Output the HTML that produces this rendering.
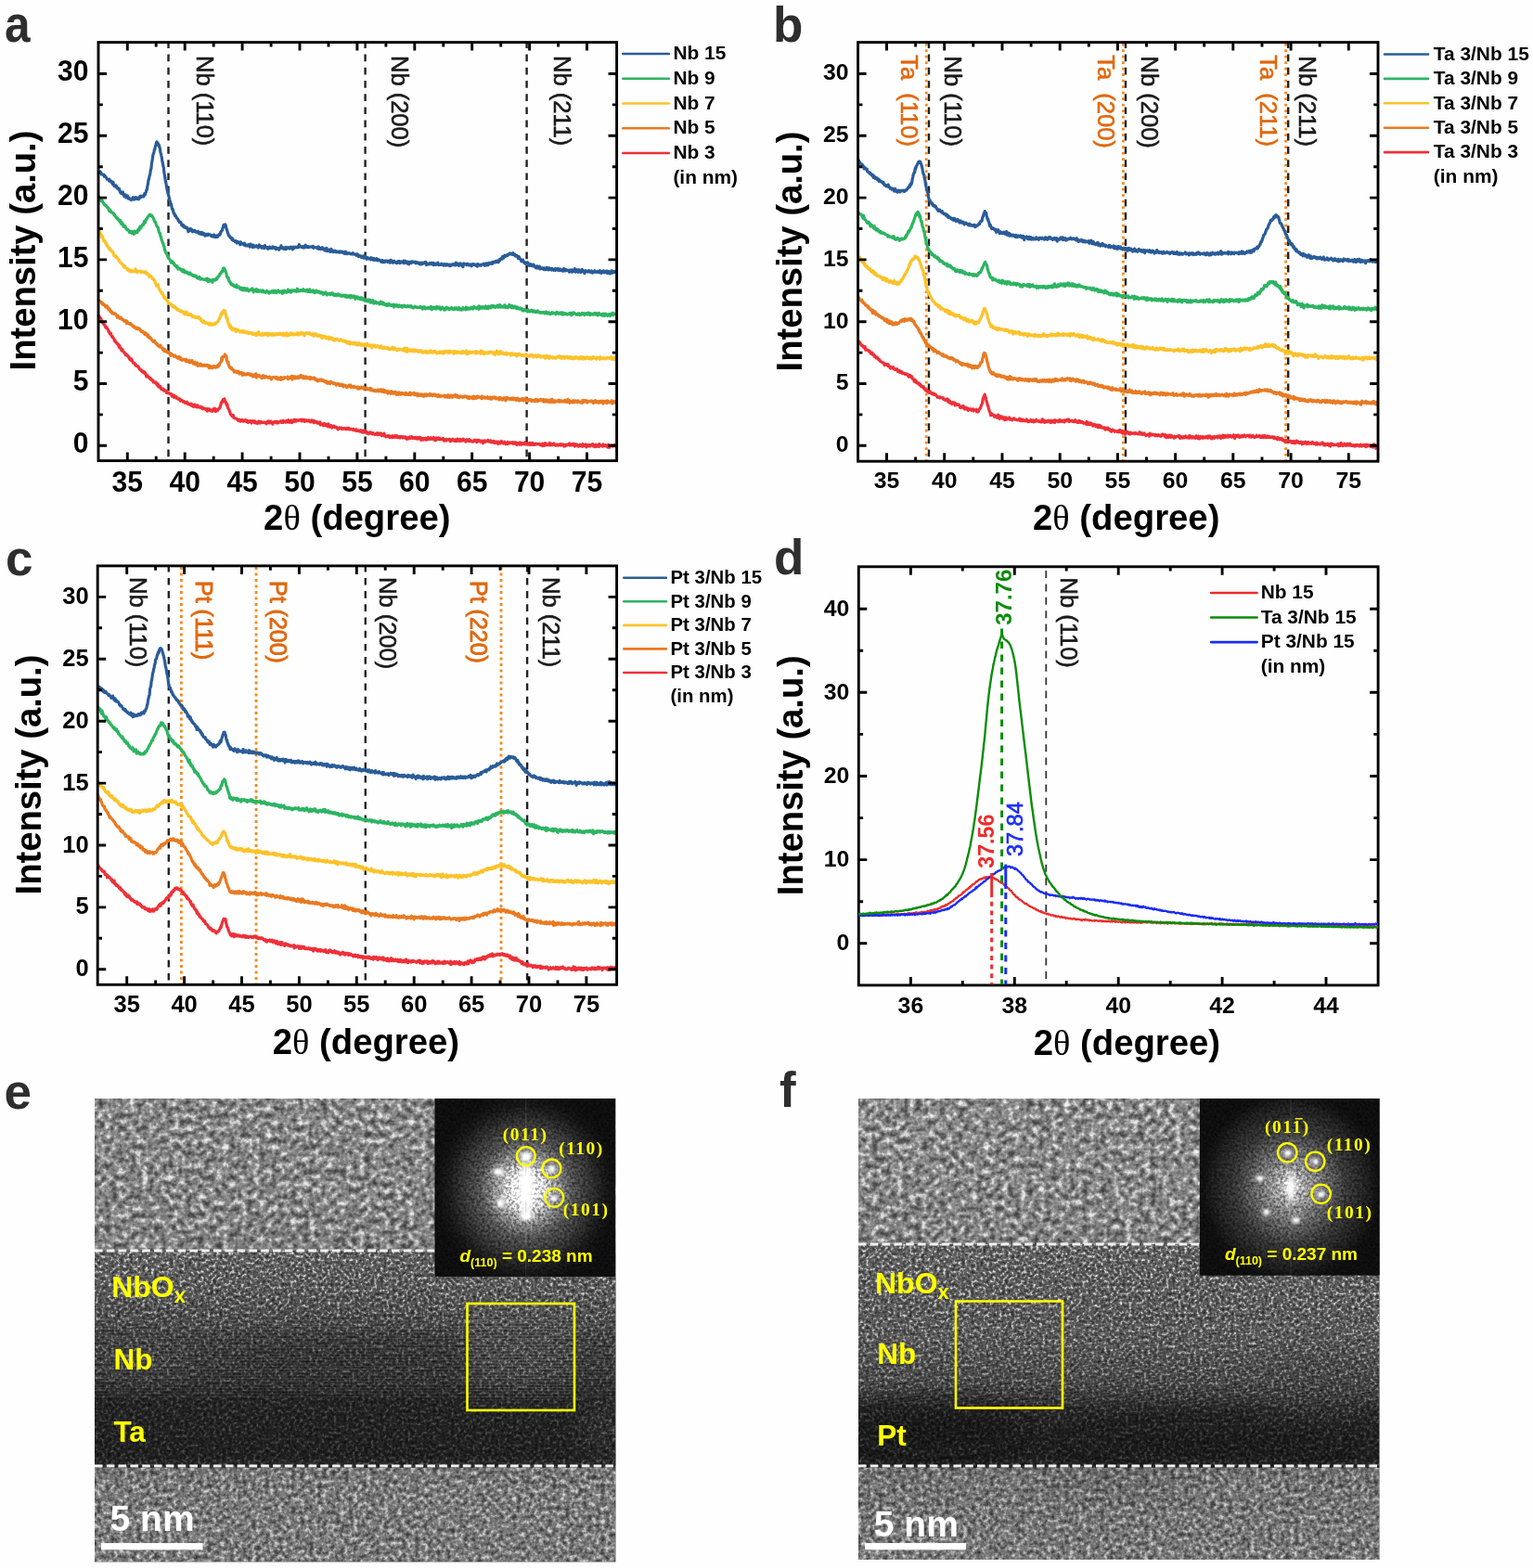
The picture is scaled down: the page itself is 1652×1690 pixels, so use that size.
<!DOCTYPE html><html><head><meta charset="utf-8"><style>html,body{margin:0;padding:0;background:#fefefe;}svg{display:block}</style></head><body><svg width="1652" height="1690" viewBox="0 0 1652 1690">
<rect width="1652" height="1690" fill="#fefefe"/>
<text x="0.0" y="0.0" font-size="55.0" font-weight="bold" text-anchor="start" fill="#2e2e2e" font-family="'Liberation Sans', Arial, sans-serif" transform="translate(5.0 44.8) scale(0.900 1)">a</text>
<text x="833.0" y="44.5" font-size="53.0" font-weight="bold" text-anchor="start" fill="#2e2e2e" font-family="'Liberation Sans', Arial, sans-serif">b</text>
<text x="6.0" y="619.5" font-size="53.0" font-weight="bold" text-anchor="start" fill="#2e2e2e" font-family="'Liberation Sans', Arial, sans-serif">c</text>
<text x="834.0" y="618.5" font-size="53.0" font-weight="bold" text-anchor="start" fill="#2e2e2e" font-family="'Liberation Sans', Arial, sans-serif">d</text>
<text x="4.5" y="1194.5" font-size="53.0" font-weight="bold" text-anchor="start" fill="#2e2e2e" font-family="'Liberation Sans', Arial, sans-serif">e</text>
<text x="840.0" y="1192.5" font-size="53.0" font-weight="bold" text-anchor="start" fill="#2e2e2e" font-family="'Liberation Sans', Arial, sans-serif">f</text>
<line x1="181.5" y1="46.8" x2="181.5" y2="495.4" stroke="#222" stroke-width="2.4" stroke-dasharray="7.7 6.5" stroke-dashoffset="2.4"/>
<line x1="393.6" y1="46.8" x2="393.6" y2="495.4" stroke="#222" stroke-width="2.4" stroke-dasharray="7.7 6.5" stroke-dashoffset="2.4"/>
<line x1="567.6" y1="46.8" x2="567.6" y2="495.4" stroke="#222" stroke-width="2.4" stroke-dasharray="7.7 6.5" stroke-dashoffset="2.4"/>
<path d="M106.4 340.3l.5 1.1 .5 .4 .5 .4 .5 1.1 .5 .4 .5 1.7 .5 1.7 .5-.5 .5 .7 .5 1.7 .5 .7 .5 .6 .5 0 .5 1.5 .5 1.3 .5-.7 .5 1.4 .5-.3 .5 1.2 .5 .4 .5 1.9 .5 0 .5 1.9 .5 .7 .5 .5 .5-1 .5 2.2 .5 1.1 .5 .8 .5-.5 .5 1.5 .5 .3 .5 .8 .5 2.1 .5-.7 .5 1.3 .5 1.3 .5-.4 .5 1 .5 .8 .5 .6 .5-.3 .5 1.6 .5 1.6 .5-1.6 .5 2.5 .5 0 .5 .1 .5 2.6 .5-.4 .5-.8 .5 1.5 .5 1 .5 0 .5 1.2 .5 0 .5 1.2 .5 1.1 .5-1 .5 1.2 .5 .1 .5 1 .5-.5 .5 1 .5 .9 .5 1.3 .5 .8 .5-1.3 .5 .9 .5 1.6 .5-1.5 .5 1.7 .5 .8 .5 1.5 .5 .1 .5-.2 .5 .5 .5 .6 .5 1.8 .5-1 .5 .6 .5 1 .5 .2 .5 .4 .5-.2 .5 1.3 .5 .2 .5 1.7 .5 .1 .5 0 .5 1 .5-.3 .5 1.5 .5-.3 .5 .9 .5-.9 .5 1.7 .5-1.1 .5 .2 .5 1.8 .5 0 .5 1.3 .5 2 .5-1.8 .5 .6 .5 1.1 .5 .7 .5 0 .5 .4 .5 1.2 .5 .3 .5-.7 .5 1.2 .5 .5 .5-.4 .5 1.5 .5-.4 .5 1.8 .5-.1 .5 .3 .5 0 .5 .7 .5-.9 .5 1.1 .5 1.5 .5-1.4 .5 2.6 .5-1.5 .5 2.3 .5-.8 .5 1.6 .5-.1 .5-.8 .5 2.4 .5 .6 .5-.8 .5 .3 .5 .4 .5-.2 .5 1.9 .5-.9 .5 .8 .5-.3 .5 .5 .5-.1 .5 2.2 .5-.7 .5 1.1 .5-.4 .5-.2 .5 .6 .5 .2 .5 .7 .5 0 .5 .4 .5-.5 .5 .7 .5 2.1 .5-1.4 .5 0 .5 1.3 .5 1.1 .5-1.8 .5 1.2 .5-.1 .5-.5 .5 2.1 .5-.3 .5 .4 .5-.4 .5 1.2 .5-.5 .5 .6 .5-.5 .5 .2 .5 2.2 .5-1.2 .5 .9 .5 0 .5-.1 .5 .2 .5 1.1 .5-.5 .5 .4 .5 .3 .5 1.1 .5-.1 .5 0 .5-.5 .5-.4 .5 1.9 .5 .2 .5-.6 .5 .7 .5 .4 .5 .2 .5 .2 .5-.8 .5 1.6 .5-1.9 .5 1.8 .5-.1 .5 .4 .5 1 .5-.2 .5-1.8 .5-.2 .5 2 .5-1.2 .5 1 .5 .8 .5-1.7 .5-.2 .5 2 .5 0 .5-.1 .5 .4 .5-.5 .5-.3 .5 1.1 .5-.4 .5-.3 .5 1.7 .5-.2 .5 .5 .5-.9 .5 .3 .5-.1 .5 .3 .5 .9 .5-.6 .5 1 .5 .1 .5 1.4 .5-2.5 .5 1.8 .5-.6 .5 .1 .5-1 .5 .9 .5 1 .5-.6 .5 .2 .5-.2 .5 1.1 .5-.8 .5-1.6 .5 1.1 .5-.9 .5-.9 .5 2 .5 1.4 .5-1.1 .5-1.1 .5 0 .5 1.2 .5-1.1 .5-.4 .5-.6 .5-.5 .5-.5 .5-1.6 .5-1.7 .5-2.3 .5 .1 .5-1.6 .5 .7 .5-2.4 .5 .4 .5-.2 .5-.9 .5 2.8 .5 .7 .5-.1 .5 2.3 .5 1.1 .5-1 .5 3.3 .5 .9 .5 1.3 .5 .4 .5 1.8 .5 1.1 .5 2 .5 .1 .5 .3 .5 1.6 .5-1 .5 .5 .5-.6 .5 3 .5-.1 .5 .4 .5 .1 .5 0 .5 .4 .5-.1 .5 .3 .5 .5 .5 1.3 .5-.5 .5-.3 .5-.2 .5 .1 .5 1.8 .5-.7 .5-.2 .5-.3 .5-.5 .5 .9 .5 .7 .5-.8 .5 .1 .5 .1 .5 .3 .5-1.2 .5 1.1 .5-.4 .5 1.3 .5-1.1 .5 1 .5 .8 .5-1.3 .5-.2 .5 .6 .5-.1 .5-.7 .5 1.2 .5 1.2 .5-1.7 .5 .1 .5-.6 .5 1.1 .5-1.1 .5 .1 .5 1.8 .5-1.6 .5 1.6 .5 .3 .5-.9 .5 .3 .5 1 .5-1.5 .5-.3 .5-.6 .5 1.1 .5 1.1 .5-.3 .5-1.4 .5 0 .5 .3 .5 .6 .5-.3 .5 .3 .5 .1 .5-.4 .5 .2 .5 .2 .5-.2 .5 .4 .5 1.1 .5-1 .5-.4 .5-1.3 .5 1.6 .5-1.8 .5 .4 .5 1.7 .5-.1 .5-.6 .5-1.2 .5 1 .5-.2 .5 1 .5 1.2 .5-1.6 .5-.7 .5-.3 .5 .8 .5-.1 .5-.8 .5 .9 .5-.9 .5 1.6 .5 0 .5-.1 .5-1.2 .5 .7 .5-.5 .5-.2 .5 0 .5-.8 .5-.1 .5 1.6 .5-.8 .5 .3 .5 .5 .5-2.1 .5 .7 .5 .7 .5 .1 .5-.6 .5 1 .5-.7 .5-1.1 .5 .1 .5 1.3 .5-.3 .5-1.8 .5 2.4 .5-.6 .5 .5 .5-1.4 .5 0 .5-.6 .5 2.7 .5-2.1 .5 1.3 .5-1.7 .5 .5 .5-1.4 .5 1 .5 .9 .5-1.7 .5 1.7 .5-.5 .5-1.1 .5 .4 .5 0 .5 .3 .5-.4 .5-.3 .5 .4 .5-.5 .5-.2 .5 .9 .5 .7 .5-1.8 .5 1.1 .5-.5 .5-.2 .5 1.4 .5-1 .5 1.5 .5-1.7 .5 .9 .5-.4 .5-.3 .5 1 .5-.5 .5 .6 .5-.4 .5-.7 .5 .8 .5 .2 .5 .8 .5-1.3 .5 .7 .5-1.2 .5 1.9 .5-1.2 .5-.4 .5 1.4 .5 1 .5-1.9 .5 .5 .5 .3 .5-.1 .5 1.2 .5-.8 .5 .2 .5 1.1 .5-.8 .5 1 .5-.9 .5-.1 .5-.3 .5 2.9 .5-1.5 .5 .6 .5-.1 .5 .3 .5 .1 .5 1.5 .5-2.1 .5-.2 .5 .5 .5-.1 .5 1.7 .5 .2 .5-1.2 .5-.2 .5 1 .5 1.4 .5-3 .5 2.6 .5-1 .5 1.7 .5-1.5 .5 .8 .5-.8 .5 .5 .5 1.9 .5-.3 .5-.8 .5-.2 .5-.7 .5 1.3 .5 .4 .5 0 .5 .1 .5-.6 .5 .9 .5 .1 .5 1.1 .5 .5 .5-1.4 .5-.4 .5 .6 .5-.4 .5 0 .5 .6 .5-.7 .5 1.3 .5-.4 .5 .3 .5-.3 .5-.3 .5-.2 .5 .6 .5-.1 .5 .6 .5-.1 .5-1 .5 1.1 .5-1 .5 .6 .5 .3 .5-1.3 .5 1.7 .5 .1 .5-.2 .5-.1 .5 .1 .5-.4 .5 .6 .5-.1 .5 .5 .5-.9 .5 1.2 .5 0 .5-.1 .5-.2 .5 .8 .5-1.5 .5 1.7 .5-.1 .5 .1 .5 .2 .5-.7 .5 .4 .5 .7 .5 0 .5-.1 .5-1.2 .5 1.7 .5 .5 .5 0 .5-.5 .5-1.2 .5 2 .5-.8 .5-1.7 .5 2.3 .5-1.3 .5 .3 .5 .5 .5 1.6 .5-1.2 .5 .6 .5 1.2 .5 0 .5-1.2 .5 0 .5-.7 .5 .5 .5 .9 .5 .1 .5-.2 .5 .8 .5-1.3 .5 .7 .5 .6 .5 0 .5 .5 .5-.5 .5-.4 .5 .6 .5-1 .5-.4 .5 1.8 .5-.4 .5 .4 .5-1.5 .5 1.1 .5-.1 .5-.1 .5-1 .5 1.6 .5 1 .5-.3 .5-.7 .5 .5 .5 .7 .5-2.6 .5 2.1 .5 .5 .5 .2 .5 .9 .5-.4 .5-.5 .5 0 .5 .4 .5-.9 .5 .5 .5 .7 .5 .9 .5-1.5 .5 .1 .5 .2 .5 1 .5-1 .5 1.2 .5-1.8 .5 .6 .5 .1 .5 .7 .5 .3 .5-1.9 .5 .5 .5 1 .5-.7 .5-.6 .5 1.9 .5-.3 .5 0 .5-.7 .5 1.2 .5-.9 .5 1 .5-1.5 .5 .1 .5 .9 .5-.7 .5 1.1 .5-.3 .5-.9 .5 .8 .5-.3 .5 1 .5-1.1 .5 .2 .5 1.3 .5 .8 .5-.2 .5-1.4 .5 .1 .5 1.1 .5-1.3 .5-.6 .5 .9 .5 .3 .5-1 .5-.6 .5 .2 .5 1.6 .5-1 .5 .5 .5 .3 .5 .3 .5-.7 .5 .7 .5-1 .5 .4 .5-.5 .5 1.7 .5-.9 .5-.5 .5 .3 .5 .1 .5 .8 .5-1.7 .5 .4 .5 .5 .5 2.2 .5-1.1 .5-.8 .5 .7 .5 1 .5-1.7 .5-.1 .5 1.2 .5-.5 .5 .2 .5-.9 .5 1.9 .5-.2 .5-.8 .5 .1 .5-2 .5 2 .5-.6 .5 .5 .5 .2 .5-.7 .5-1 .5 1.6 .5-.8 .5 .3 .5-.2 .5 .2 .5-1.4 .5 2.7 .5-.7 .5 .6 .5 .7 .5-1.4 .5-1.4 .5 .7 .5-.2 .5 .6 .5 .4 .5-1.5 .5 1.8 .5-1.4 .5 1.4 .5-.3 .5-.1 .5 .2 .5-.3 .5 0 .5-.8 .5 1.3 .5 1.4 .5 .1 .5-.5 .5-.4 .5-1 .5 1.6 .5-1.1 .5 0 .5-.1 .5 .3 .5-.4 .5 .3 .5-.7 .5 .6 .5 2 .5-1.8 .5-.1 .5 .6 .5 .2 .5-1.4 .5 .8 .5 .8 .5-.4 .5-.1 .5 1.1 .5-1.7 .5 .6 .5-.4 .5 1.5 .5-2.5 .5 1 .5 .1 .5 .9 .5 0 .5 .6 .5-2.2 .5 1.8 .5-.8 .5-.2 .5 .9 .5-1.1 .5-.8 .5 1.3 .5-.9 .5 .7 .5 .8 .5 0 .5 1 .5-1.4 .5-.9 .5 .6 .5-.1 .5-.2 .5 1.2 .5-.7 .5-1 .5 2 .5-.6 .5 .4 .5-.2 .5 .5 .5-.5 .5 1 .5-.6 .5 0 .5 0 .5-1.4 .5 1 .5 0 .5 .4 .5-1.2 .5 2.3 .5-1.2 .5-.9 .5-.4 .5 1.1 .5 .2 .5-.5 .5 .7 .5-.5 .5 .9 .5-1 .5 .6 .5 .8 .5 1.2 .5-2.7 .5 .5 .5-.3 .5 1.2 .5-1.4 .5 .5 .5 .4 .5-.7 .5 .1 .5 .3 .5-1.1 .5 .5 .5 .8 .5 .4 .5-.2 .5-1.2 .5 1 .5 1 .5-.1 .5-.5 .5-.6 .5 1.2 .5-.9 .5-.4 .5 .3 .5 1.7 .5-.9 .5 .7 .5-1.2 .5 1.1 .5-1.1 .5 .4 .5 2 .5-1.3 .5-.9 .5 .3 .5 .4 .5 .7 .5-1.3 .5-.9 .5 1.1 .5 .3 .5 .1 .5 .9 .5-.7 .5 .4 .5-1.4 .5 1.5 .5 .9 .5-.9 .5-.4 .5 0 .5 1.2 .5-2 .5 .6 .5 .5 .5 .2 .5-.8 .5 .6 .5-.4 .5 .3 .5-.2 .5-.7 .5 .9 .5 .7 .5-1.4 .5 .6 .5 .7 .5-1.3 .5 1 .5-.9 .5 1.6 .5 .9 .5-.1 .5-1.7 .5 .7 .5-.4 .5 0 .5 1.1 .5-2.1 .5 1.8 .5-.8 .5 1.1 .5-.9 .5-.6 .5 .8 .5 .3 .5-.5 .5 .4 .5-.8 .5-1.1 .5 2.3 .5-.2 .5-.4 .5 0 .5 .8 .5-1.1 .5-.2 .5 .4 .5 1.1 .5-2 .5 2 .5-1.4 .5-.3 .5 1.8 .5-1 .5-.9 .5 .7 .5 1 .5 .2 .5-1.1 .5 .6 .5 .2 .5-1 .5 .8 .5-.3 .5-.3 .5 0 .5 .5 .5-.1 .5-.4 .5 .1 .5 1.2 .5-.7 .5 .6 .5 .2 .5-.4 .5 1.2 .5-2.3 .5 1.3 .5-.8 .5 1.6 .5-.1 .5-2.7 .5 .7 .5 1.3 .5 .1 .5-.1 .5-.5 .5 .4 .5 .1 .5-.5 .5 .8 .5-2.4 .5 2.2 .5-1.3 .5 1.5 .5-.8 .5-.5 .5 1 .5-1 .5 0 .5-.5 .5 1.2 .5 .4 .5 .4 .5-.8 .5 .9 .5-.8 .5-.1 .5 .6 .5 .3 .5-1 .5 .1 .5 .1 .5 .2 .5-.8 .5 1.5 .5-1.1 .5 .7 .5-.9 .5 .9 .5 0 .5-.6 .5 1.8 .5-1.2 .5 1.1 .5-.6 .5-1.2 .5 .2 .5 .6 .5-.2 .5 0 .5-.3 .5-1.1 .5 1.2 .5-1.5 .5 2 .5-.8 .5 0 .5 .4 .5 .4 .5-1.3 .5-.2 .5 .5 .5-.7 .5 .8 .5 1.9 .5-2 .5 1.3 .5-1.5 .5 1.3 .5-.5 .5 .2 .5 .5 .5 .9 .5-1.1 .5-.1 .5-.8 .5 1.2 .5-.6 .5 .8 .5-.6 .5 1.3 .5-2.8 .5 1.3 .5 .9 .5-.9 .5-.3 .5 .4 .5-.9 .5 1.2 .5 1.7 .5-.9 .5-1.7 .5 .2 .5 .3 .5 1.1 .5-1.4 .5 .1 .5 1.2 .5 0 .5-.9 .5-.5 .5-.4 .5 .7 .5-1.1 .5 2.2 .5-1 .5 .8 .5 1.1 .5-.6 .5-1.7 .5 1.5 .5 .3 .5-1.5 .5-.1 .5 .6 .5-1.1 .5 2.3 .5-2.9 .5 1 .5 .6 .5 .1 .5 .3 .5 .1 .5-.4 .5 1 .5-2.4 .5 1.6 .5-.5 .5 .6 .5 .1 .5-.9 .5 .2 .5 1.1 .5-.3 .5-.8 .5 2.1 .5 .2 .5-2.9 .5 1.4 .5 1.6 .5-1.3 .5-.4 .5-.3 .5-.2 .5 .2 .5-.2 .5 .9 .5-.8 .5 0 .5-.6 .5 .9 .5-.7 .5 .6 .5 .9" fill="none" stroke="#ef3038" stroke-width="3.20" stroke-linejoin="round" stroke-linecap="round"/>
<path d="M106.4 323.6l.5 .6 .5 .3 .5 .3 .5 .3 .5 .3 .5 1.3 .5-.9 .5 2.3 .5-.5 .5-.2 .5 .7 .5 .3 .5 1.1 .5-.2 .5 1.8 .5-1 .5-.7 .5 1.6 .5-.5 .5 1.9 .5 1.3 .5 .1 .5-1.1 .5 .9 .5 2.3 .5-.7 .5 .2 .5 1.2 .5 1.5 .5-.5 .5-.5 .5 .6 .5 .6 .5-.5 .5 0 .5 1.2 .5-.3 .5 1 .5 .5 .5 2.1 .5-2 .5 .9 .5 .3 .5 .9 .5 .8 .5-.8 .5 .1 .5-.3 .5 .9 .5 1.5 .5 0 .5-.5 .5 .8 .5 .7 .5 .6 .5-.5 .5 .6 .5-.8 .5 .8 .5 2.3 .5-2.5 .5 1.7 .5 .7 .5-.2 .5 0 .5 .8 .5 .3 .5 .3 .5-1.1 .5 1.6 .5-.3 .5 .5 .5 .9 .5 .6 .5 .4 .5-.7 .5 1.3 .5 .5 .5 .2 .5 .5 .5-.9 .5 .3 .5 1 .5-1.3 .5 1.5 .5-.3 .5 .4 .5-.7 .5 1 .5 .9 .5 1 .5 .4 .5-.4 .5 .2 .5-.1 .5 1.3 .5-.1 .5 1 .5 1.2 .5-.9 .5-.8 .5 .9 .5 0 .5 .6 .5 2.3 .5-.4 .5-.9 .5 2.1 .5 .9 .5-.8 .5 .2 .5 .7 .5 .9 .5 .7 .5 .9 .5 .5 .5 .4 .5 .6 .5-.1 .5-1.2 .5 1.5 .5 .8 .5-.1 .5 1.5 .5-.5 .5 0 .5 2.2 .5-.1 .5 .1 .5 .9 .5 .5 .5-.1 .5-1.7 .5 1.8 .5 .6 .5 0 .5 1.2 .5 1.2 .5-.9 .5-.1 .5 2.7 .5-1.5 .5-.2 .5 1.4 .5 .5 .5-.6 .5 1.5 .5-.7 .5 0 .5 1.1 .5 .7 .5-.8 .5 1 .5-.1 .5 2.5 .5-2.4 .5 1.8 .5-.8 .5 .2 .5 .9 .5 .4 .5 .5 .5-.5 .5-.4 .5 .2 .5 1.1 .5 .3 .5 .8 .5-.5 .5 .7 .5 .6 .5-.8 .5-1.1 .5 .5 .5 0 .5 2.5 .5-1.6 .5 1.7 .5-.3 .5 1.1 .5-.4 .5-.6 .5 .1 .5 .4 .5 .3 .5-.4 .5 .6 .5 1.4 .5-2.3 .5 1.6 .5-.7 .5 1 .5 .7 .5-.6 .5 .8 .5-1.6 .5 2.2 .5-1.2 .5 1.1 .5-.2 .5-1.9 .5 1.5 .5 .9 .5 1.1 .5-.8 .5 .1 .5-1.1 .5 2.3 .5 .4 .5-1.2 .5 0 .5-.9 .5 2 .5 1.5 .5-1.4 .5 .6 .5-.4 .5-1 .5 1.9 .5-1.8 .5 .9 .5 .5 .5 .6 .5-.3 .5 .1 .5-.7 .5-.3 .5 1.1 .5-.4 .5-.4 .5 .2 .5 .7 .5-1 .5 .5 .5-.1 .5 1.4 .5 .3 .5 1.3 .5-2.6 .5 .7 .5 1.3 .5-.8 .5-.1 .5 1.6 .5-1.5 .5-.6 .5-.1 .5 1.3 .5 0 .5-1.2 .5 .3 .5 1.1 .5-.1 .5-1 .5 .7 .5-.2 .5-2.1 .5 .8 .5 .2 .5-1.3 .5-2.1 .5 .1 .5-.6 .5-.9 .5-4.1 .5 2.6 .5-3.5 .5 .8 .5-.5 .5-.8 .5-1 .5-1.1 .5 1.8 .5 0 .5-.1 .5 5.5 .5-.2 .5 2.1 .5-.9 .5 3.1 .5 1.4 .5 1.2 .5 0 .5 0 .5 1.5 .5-1.1 .5 .7 .5 1.6 .5-.5 .5 .9 .5 .3 .5 1.7 .5-.2 .5-.8 .5 1.2 .5-1.3 .5 .6 .5 1.1 .5-1.4 .5 .9 .5-.7 .5 1.3 .5 1.3 .5-1.7 .5 .9 .5-.7 .5-.1 .5 .1 .5 2.1 .5 .8 .5-1.3 .5-.8 .5 1.2 .5-.7 .5 1 .5-.3 .5 0 .5 .4 .5-.8 .5 .2 .5-.9 .5 1 .5-.7 .5 1.1 .5-.6 .5 .9 .5 .3 .5-1.3 .5 .6 .5-.1 .5 1.4 .5 .8 .5-.6 .5-.8 .5 1.4 .5-2.1 .5 2.3 .5-1.5 .5-1.6 .5 4.2 .5-.7 .5-1.9 .5 .9 .5-.2 .5 .3 .5-1.1 .5 .7 .5 .9 .5-.1 .5 .8 .5-.8 .5 1.8 .5-2.2 .5 .8 .5-1.6 .5 .5 .5 2 .5-1.6 .5 1.2 .5-.4 .5-.7 .5 .6 .5-.1 .5 .1 .5 .9 .5 0 .5-.9 .5-.2 .5 1 .5-.3 .5 .9 .5 1.3 .5-1.3 .5-.7 .5 0 .5-.5 .5 0 .5-.1 .5 .5 .5 0 .5 .9 .5-.8 .5 .2 .5-.8 .5 2.2 .5-.9 .5 1 .5-.7 .5 .5 .5-1.3 .5 .7 .5 1.5 .5-2.9 .5 1.8 .5 .4 .5-1 .5 .2 .5 .4 .5-1.5 .5 .8 .5-1 .5 .2 .5 0 .5 .3 .5 .2 .5 .2 .5-1.4 .5 2.6 .5-.7 .5-.4 .5-.8 .5 .1 .5 .5 .5-.1 .5-1.7 .5 1.9 .5 1.6 .5-3.7 .5 2.2 .5-.6 .5-.4 .5 1.2 .5-2 .5 1 .5 .9 .5-1.3 .5-.2 .5 .4 .5-.4 .5 1.5 .5-1.9 .5 1.3 .5-1.6 .5 1.4 .5-.6 .5-1.9 .5 2 .5-.8 .5 .5 .5 1.5 .5-2 .5 0 .5 2 .5-1 .5 1.1 .5-.9 .5-.9 .5 .7 .5 1.1 .5-.2 .5-.6 .5 .1 .5 0 .5-.3 .5 2 .5-1.4 .5-.8 .5 .6 .5 1.1 .5 0 .5-.5 .5-.2 .5 .6 .5-1.2 .5 .4 .5 1.8 .5-.9 .5 .8 .5 .8 .5-.3 .5-.4 .5 1.8 .5-1 .5-.6 .5 1 .5-.2 .5-.8 .5 .9 .5-.1 .5-1.2 .5 1.5 .5 .1 .5 0 .5-.8 .5 1.1 .5 .4 .5 .2 .5-.8 .5 1.5 .5-1.3 .5 .9 .5 1.3 .5-1.4 .5 .2 .5 1.4 .5-1.1 .5 .2 .5 .5 .5 .7 .5-2.4 .5 1.2 .5-.1 .5 .1 .5 .3 .5 .1 .5 .9 .5-.8 .5 .9 .5 .3 .5-.8 .5 .8 .5 1.2 .5-.9 .5-.6 .5 .5 .5-.6 .5 1 .5 .6 .5-1.2 .5 .5 .5 1.1 .5-1.1 .5 .6 .5-.8 .5 .2 .5 .3 .5 2.1 .5-1.8 .5 0 .5 0 .5 .4 .5 .7 .5-.2 .5 1.5 .5-1.3 .5 1 .5-.8 .5 .3 .5-1.5 .5 1.1 .5 .1 .5 0 .5-1.4 .5 2.4 .5-.9 .5 .1 .5 .2 .5 .1 .5 .5 .5-1.1 .5 .3 .5 1 .5 0 .5-.3 .5-.1 .5-.1 .5 .6 .5 1 .5-1.6 .5 2 .5-.4 .5-.9 .5 1 .5-1.6 .5-.1 .5 .4 .5 .7 .5 .1 .5 0 .5 .5 .5-1.6 .5 2.1 .5-1.4 .5 .6 .5 .3 .5-.5 .5-.1 .5 .4 .5 .8 .5 .5 .5 0 .5-1.1 .5 .3 .5-.1 .5 1.1 .5-1.8 .5 2.6 .5-1.3 .5-.1 .5 .9 .5 .6 .5-.5 .5 .7 .5-.7 .5 .9 .5 .1 .5-.9 .5 1.2 .5-.9 .5 0 .5-.6 .5 .5 .5 .9 .5-1.5 .5 1.5 .5-.1 .5 0 .5-1.8 .5 1.6 .5 .7 .5-1 .5 .7 .5-1.8 .5 2.4 .5-.9 .5 1.2 .5-2 .5 2 .5-.6 .5 .8 .5-1.2 .5 .3 .5 2.2 .5-2.3 .5 .2 .5 .4 .5-.5 .5 1.7 .5 .5 .5-1.8 .5-.7 .5 2.3 .5 0 .5-.2 .5 .3 .5-1.4 .5 .6 .5-.9 .5 0 .5 1.9 .5-1.2 .5 2.3 .5-1.6 .5-.5 .5 1.1 .5 .8 .5-.9 .5-1.3 .5 1.3 .5 .8 .5-1.4 .5-.1 .5 1.3 .5-.6 .5-.9 .5 .6 .5-.2 .5 .8 .5-.1 .5 .8 .5-.3 .5-1.7 .5 1.5 .5 .4 .5-.3 .5 .5 .5-1.1 .5-.3 .5 1.4 .5-1.4 .5-.8 .5 2.4 .5-1.3 .5 .4 .5-.8 .5 .1 .5 .1 .5 .6 .5 .6 .5-2 .5 2.4 .5-1.5 .5 .1 .5 1.4 .5-.6 .5-1 .5 2.5 .5-2 .5 .9 .5 0 .5 .9 .5-1.4 .5 1.2 .5-1.3 .5 1.4 .5-1.4 .5 .3 .5 1.7 .5-1.1 .5-.1 .5 1.6 .5-1.4 .5-.9 .5 1.2 .5-1.4 .5 1.8 .5 0 .5-1.3 .5 0 .5 .6 .5-.1 .5-.7 .5 1.2 .5-1.9 .5 1.2 .5 0 .5 .1 .5 .5 .5-1.1 .5 1.4 .5-.6 .5-.3 .5-.6 .5 .2 .5 1.2 .5-1 .5 .8 .5 .8 .5 0 .5 .4 .5-1.4 .5-.6 .5 1.6 .5-.5 .5 .7 .5-.8 .5 .9 .5-.3 .5-.1 .5-.1 .5-.1 .5-.1 .5 .1 .5 .6 .5-1.1 .5 1.7 .5-1.4 .5 .8 .5-.7 .5-.1 .5 1.7 .5-1.7 .5-.7 .5 .4 .5 .3 .5 1.9 .5-1.4 .5 .5 .5-1.4 .5 1 .5 .3 .5 .9 .5-1.9 .5 1 .5-.2 .5-.9 .5 .7 .5-.1 .5-1.5 .5 2.2 .5-.1 .5-.7 .5-.6 .5 2.1 .5-.9 .5 .6 .5 .4 .5-1.5 .5 1.1 .5-.8 .5 .1 .5 .1 .5 0 .5 .9 .5-.7 .5-.2 .5-.1 .5 .5 .5-.9 .5 .3 .5 .4 .5-.4 .5 .4 .5-.3 .5 1.9 .5-.4 .5-.7 .5-.3 .5 1.7 .5-1.4 .5-.3 .5 .3 .5 .1 .5 .8 .5-1 .5 1.6 .5-2.2 .5 1.2 .5-1.3 .5 2.2 .5-1.6 .5 .2 .5 .8 .5 .3 .5-1.8 .5 .6 .5-.8 .5 1.2 .5-.1 .5-.2 .5-.2 .5 .2 .5-.2 .5 1 .5 .7 .5-2.5 .5 1.3 .5-.2 .5 .8 .5-1.1 .5 .6 .5-.6 .5 1.3 .5-.4 .5-.2 .5 .4 .5-.4 .5-1 .5 1.7 .5-.2 .5-.3 .5 .8 .5 .2 .5-1.7 .5 .3 .5 1.8 .5-.1 .5-1.6 .5-.3 .5 .4 .5 .2 .5-.8 .5 1.2 .5-1 .5 .1 .5 1.6 .5-1.1 .5 .4 .5 .6 .5 .2 .5-.9 .5 .3 .5-.6 .5 2 .5-.8 .5-1.3 .5 .8 .5 .6 .5-.2 .5 1.1 .5-.3 .5-1.5 .5 .4 .5-.9 .5 1.2 .5 0 .5 1.9 .5-1.9 .5-1.6 .5 1 .5 .7 .5-1 .5 .3 .5 .4 .5 .5 .5-.3 .5-.5 .5 1.3 .5-1 .5 0 .5-.6 .5 .5 .5 1.1 .5-1.7 .5 1.2 .5 .6 .5-.8 .5 .5 .5-1 .5 1.9 .5-.1 .5-.7 .5-1.4 .5 .5 .5 1.6 .5 .5 .5-1 .5 .8 .5-1.4 .5 .3 .5 .2 .5 .3 .5-1.4 .5 1.9 .5 .3 .5-1.8 .5-.2 .5 1.3 .5-.7 .5-1.2 .5 2.4 .5-.5 .5-.4 .5 1.9 .5-1.4 .5-.7 .5 .7 .5-.8 .5 .2 .5 .9 .5-.7 .5 .1 .5 1.6 .5-.6 .5 0 .5-.2 .5 0 .5 .7 .5-1 .5 1.4 .5-2.1 .5 .5 .5-.8 .5 .8 .5 .7 .5 .7 .5-1.6 .5 .5 .5-.2 .5-.3 .5-.3 .5 .9 .5-1.3 .5 1.4 .5-.1 .5-.4 .5-.3 .5-.3 .5 2.5 .5-2.4 .5 2.2 .5-.7 .5-.7 .5-.6 .5 1.7 .5 .5 .5-2 .5 .5 .5 1 .5-.5 .5 1.3 .5-1.9 .5 .8 .5-1.3 .5 2.5 .5-2.1 .5-1.1 .5 1.6 .5 0 .5 1.6 .5-1.7 .5 .2 .5 .5 .5 .8 .5-1.3 .5 .9 .5-.4 .5-.6 .5 .3 .5 0 .5-.7 .5 1.6 .5-1.9 .5 1.9 .5-.1 .5-.8 .5-.5 .5 .4 .5 .6 .5 .2 .5-.4 .5 .6 .5-1.2 .5 .6 .5-1.3 .5 1.8 .5-.5 .5-.4 .5 1.2 .5-.3 .5-2.7 .5 2.2 .5-1.1 .5 1.9 .5 1.1 .5-2.3 .5 .5 .5-.2 .5 .4 .5 .3 .5 .5 .5-1.7 .5 1.9 .5-1.9 .5 1 .5 .6 .5-.3 .5-1.2 .5 .2 .5 .2 .5 .3 .5 .9 .5-1.8 .5 1.3 .5 .1 .5 0 .5-.1 .5 .8 .5-.7 .5 .3 .5-.2 .5 .9 .5-2.8 .5 2.4 .5-1.1 .5 0 .5-.5 .5-.7 .5 1.1 .5-.2 .5 .9 .5-1.5 .5 2.2 .5-.8 .5-.4 .5-.4 .5 0 .5-.2 .5 .4 .5 .4 .5-.1 .5-.9 .5 .8 .5-.4 .5 .8 .5 1.3 .5-1 .5-.6 .5-1 .5 .1 .5-.2 .5 1.9 .5-1.2 .5 .7 .5-.5 .5 .5 .5 1 .5-1.6 .5 .3 .5-.3 .5 1.2 .5-1.4 .5-.1 .5-.1 .5-.1 .5 1.5 .5 1.5 .5-2.6 .5 1.4 .5-.5 .5-1 .5 .6 .5 .1 .5-.4 .5 2 .5-2.9 .5 1.7 .5 0 .5-.7 .5 .6 .5 .5 .5-.5 .5 .2 .5 .2 .5-2 .5 2.6 .5 .6 .5-1 .5 .1 .5-1.9 .5 1 .5-.5 .5 .2 .5 1.1 .5-1.3" fill="none" stroke="#e97a22" stroke-width="3.20" stroke-linejoin="round" stroke-linecap="round"/>
<path d="M106.4 248.6l.5-.4 .5 2.2 .5 1.1 .5 .3 .5 .9 .5 2.8 .5-1.5 .5 1 .5 1.1 .5 2.3 .5 1.5 .5-.5 .5 .1 .5 1 .5 1.9 .5-.7 .5 2.6 .5 .7 .5-.2 .5 1.2 .5 .8 .5 1.3 .5-1.2 .5 2.3 .5-.4 .5 .3 .5 1.3 .5 .4 .5 .1 .5 .1 .5 1.1 .5 2.4 .5 1 .5-.3 .5 1 .5-.6 .5 .9 .5 .9 .5-.3 .5 .7 .5 1.4 .5 .3 .5 .1 .5 1.7 .5 .2 .5 1.5 .5-.1 .5 .3 .5 .9 .5 .4 .5 .2 .5 .7 .5 1.4 .5 .5 .5 .9 .5-1.7 .5 1.4 .5 .5 .5 .8 .5 0 .5 .3 .5 1.4 .5-.2 .5-.7 .5 2.2 .5 0 .5-.9 .5 1.2 .5-1 .5 1.5 .5-.9 .5-.3 .5 .3 .5-.2 .5 .7 .5 .1 .5-.1 .5-.4 .5-2.4 .5 2.9 .5-1.5 .5 1.6 .5 .7 .5-.6 .5-.5 .5 .2 .5 0 .5-.3 .5 0 .5-.2 .5 1.6 .5-.9 .5 .7 .5-.8 .5 .2 .5-.1 .5 .5 .5 .3 .5-.3 .5-.6 .5 .1 .5 2.1 .5-1.1 .5 .3 .5 1.7 .5 .2 .5 0 .5-.2 .5 2.6 .5-1 .5 .7 .5 0 .5-.4 .5 .6 .5 1.8 .5 .5 .5 .2 .5-.1 .5 .5 .5 1.5 .5 0 .5 2.5 .5 1 .5 2 .5-.6 .5-.3 .5 .7 .5-1.2 .5 3 .5 1.1 .5 1.7 .5 .5 .5 .7 .5 .5 .5 1.1 .5 1.4 .5-1 .5 1.3 .5 .1 .5 3.1 .5 .5 .5 .4 .5-.7 .5 1.8 .5 .4 .5 .9 .5 .4 .5 1.2 .5-.2 .5 1.4 .5 .1 .5 0 .5 .6 .5 .2 .5 1.4 .5-.4 .5 .9 .5-.1 .5-.5 .5 2.2 .5-1.1 .5 1.7 .5 .2 .5-1.2 .5 .9 .5 .6 .5 .1 .5 .1 .5 1.7 .5-.4 .5 .8 .5-.4 .5 .9 .5-.5 .5 .8 .5 .7 .5-.2 .5-.1 .5-.2 .5 1.2 .5 .3 .5-.2 .5-.2 .5 1.2 .5 1.6 .5-1.9 .5 .7 .5 .2 .5-2 .5 2.2 .5-.5 .5 1.7 .5-1 .5-.3 .5 .6 .5 .5 .5-.4 .5 .5 .5-.8 .5 1 .5 .9 .5 1.1 .5-.8 .5-.1 .5 .8 .5 .1 .5 .7 .5-.3 .5-.6 .5 .5 .5 .1 .5 .4 .5 .2 .5-.5 .5-.7 .5 1.4 .5-.7 .5 1.9 .5 .3 .5-.9 .5 2.1 .5 .4 .5-.2 .5 1.5 .5 .5 .5-2 .5 2 .5-.1 .5 .2 .5 .7 .5-.9 .5 .3 .5 .1 .5 .3 .5 .7 .5-.8 .5 .4 .5 1.4 .5-.4 .5 .5 .5-1.7 .5 .9 .5 .2 .5 .4 .5-.6 .5 1.1 .5-1 .5-.1 .5-.2 .5 .2 .5-1.2 .5 .9 .5-.8 .5-.6 .5-.5 .5-.1 .5-.3 .5-.9 .5-1.4 .5-.7 .5-1.6 .5-.2 .5-1.9 .5-2.4 .5 1.8 .5-1.8 .5-1.7 .5-.1 .5-1.1 .5 1.9 .5-1.2 .5-.7 .5 3 .5 1 .5 3.7 .5-.5 .5 .8 .5 3.6 .5 1.6 .5 1.6 .5-.2 .5 2.4 .5 1.4 .5-2.2 .5 2.7 .5-.9 .5 2.6 .5-1.1 .5-.2 .5 1.3 .5-.1 .5-.6 .5 1.2 .5-.7 .5-.7 .5 3 .5-1.6 .5 0 .5 .9 .5-1.3 .5 .3 .5 .7 .5 .1 .5 .6 .5 .9 .5-1.1 .5 .8 .5 .2 .5-1.2 .5 1.1 .5-.8 .5 1.6 .5-.4 .5-.3 .5-.9 .5 1.2 .5-.6 .5 1.2 .5-.6 .5-.4 .5 1.4 .5-.1 .5-.9 .5 1.4 .5-1 .5 0 .5 .4 .5-.6 .5 .3 .5 .3 .5 1.3 .5 .1 .5-1.3 .5 1.5 .5-1.2 .5 .4 .5 .4 .5-.4 .5 1.7 .5-1.6 .5-1.1 .5 2 .5-1.3 .5 .2 .5-2 .5 3 .5-.1 .5 .1 .5 .1 .5 .6 .5-1.3 .5 .8 .5-1.2 .5 .3 .5 1.1 .5-.5 .5-1.3 .5 1.3 .5-.4 .5-.4 .5 .9 .5-.6 .5-.8 .5 .3 .5 2.2 .5-2.5 .5 1.4 .5 .3 .5 0 .5-1.4 .5 .7 .5 .3 .5 .5 .5-1.1 .5-.4 .5 1.6 .5 .1 .5-.6 .5-.7 .5 .8 .5-.3 .5 .6 .5-1.6 .5 1 .5-.2 .5-.7 .5 .9 .5-.1 .5-.4 .5 .6 .5-1.4 .5 1.1 .5 .3 .5-.1 .5 .5 .5-1.7 .5-.2 .5 1.3 .5 .1 .5 1.2 .5-1.1 .5-1.2 .5 1.3 .5-1.3 .5-.5 .5 3.1 .5-1.8 .5 .3 .5-.1 .5 .9 .5-1.2 .5 .7 .5-1.7 .5-.3 .5 2.1 .5 0 .5-.7 .5-.3 .5 0 .5-.7 .5 1.7 .5-.7 .5-.1 .5-.1 .5 .4 .5-.4 .5 .2 .5-1.5 .5 1.3 .5 1.2 .5-2 .5 .3 .5 .7 .5 .1 .5-.3 .5-1.7 .5 1.6 .5-1.3 .5 .3 .5 1 .5-.6 .5 .8 .5 1.8 .5-1.8 .5 0 .5-1.2 .5 .2 .5-.3 .5 .4 .5-.4 .5 .4 .5 .4 .5-.6 .5-.2 .5 .1 .5 1.4 .5-.2 .5 .8 .5 .1 .5-.9 .5 .8 .5-1.5 .5 2.9 .5-.7 .5-1 .5-.6 .5 1.3 .5-1.6 .5 1 .5 1.2 .5-.4 .5-.3 .5 1.2 .5-1.3 .5 1.1 .5-.5 .5-.1 .5 1.1 .5-1 .5 2.3 .5-1.7 .5 2 .5-2.1 .5 1.4 .5-1.3 .5 .1 .5 1.2 .5 .5 .5-1.3 .5 1.9 .5-1.3 .5 .8 .5 .3 .5 .3 .5-1.7 .5 2.6 .5-.6 .5-.7 .5-.3 .5-.4 .5 .3 .5 1.6 .5-.6 .5-.5 .5 .6 .5 1.6 .5-1.3 .5-.1 .5 1.6 .5-.6 .5-.2 .5-.4 .5-.6 .5 .4 .5 .7 .5 .3 .5 .5 .5 .3 .5-.2 .5 .1 .5-.8 .5-.7 .5 1.3 .5-.2 .5 .3 .5 .4 .5-.6 .5 .2 .5 .9 .5 .2 .5-.4 .5 .9 .5-.4 .5-.5 .5 .9 .5 1.5 .5-1.9 .5 1.5 .5 .3 .5 .2 .5-1.7 .5 2.2 .5-1.3 .5-.2 .5 .1 .5 .7 .5-.3 .5-.1 .5 1.2 .5-1.4 .5-.2 .5 1.5 .5 0 .5 .4 .5-1.6 .5 1.7 .5-.3 .5 1 .5-2.2 .5 1.2 .5-.3 .5-.9 .5 .7 .5 1.5 .5-1.2 .5-.1 .5 1.3 .5 .2 .5 0 .5-1.2 .5 .6 .5 .9 .5-1.2 .5 0 .5 1.2 .5 .7 .5-2 .5-1 .5 .9 .5 .4 .5 .7 .5 .7 .5-.6 .5-.3 .5 .7 .5-.8 .5 .8 .5-.4 .5 2.6 .5-1.3 .5-1.2 .5-.1 .5 .5 .5-.8 .5 .7 .5 .1 .5 1.3 .5-.9 .5-.2 .5-.4 .5 .2 .5 .9 .5 0 .5 1.1 .5-1.3 .5 1.3 .5-.5 .5-.1 .5-1.4 .5 .6 .5 1.6 .5 .5 .5-.8 .5 .5 .5-.8 .5 .1 .5-.2 .5 1.3 .5-.4 .5-.4 .5 0 .5 .7 .5-.1 .5-.8 .5 2 .5-1 .5-.1 .5 1.1 .5-.3 .5-.7 .5 .5 .5-1.2 .5 .4 .5-1.1 .5 2.6 .5-2.2 .5 2 .5-1.1 .5-.1 .5 .7 .5 .4 .5 .3 .5 .9 .5-1 .5 .4 .5-1 .5 1 .5-.4 .5-.4 .5 .4 .5 0 .5 .3 .5 .2 .5-.7 .5-.1 .5 1.2 .5-1.8 .5 .8 .5 1.7 .5-3.2 .5 1.6 .5 1.1 .5-1.8 .5 3.3 .5-3.9 .5 3.1 .5 .1 .5-.4 .5-.8 .5 .5 .5-.9 .5 1.3 .5-1.4 .5 .7 .5 1 .5-1.6 .5 .6 .5 .5 .5-1.1 .5 1.9 .5-.6 .5-1.3 .5 1.1 .5-.5 .5 .1 .5 .6 .5-.5 .5 1.3 .5-1.2 .5 1.3 .5-.8 .5 .8 .5-1.1 .5 .1 .5-.4 .5 1.3 .5 .3 .5 .9 .5-.6 .5-.7 .5-.3 .5 .5 .5-.3 .5 1.2 .5-.4 .5-1.3 .5 .1 .5 1.6 .5-.7 .5-.4 .5 1.1 .5-1.2 .5 .1 .5-.1 .5-1.1 .5 2.2 .5-1.5 .5 .5 .5-.1 .5 1.1 .5-.6 .5 .1 .5-1.2 .5 1.2 .5-1.1 .5 1.4 .5 .1 .5-.3 .5 1.6 .5-1.2 .5 .1 .5-.3 .5-.2 .5 .8 .5 .1 .5-1.7 .5 1.7 .5-.4 .5 .4 .5-.4 .5-1.3 .5 .1 .5 2.3 .5-1.2 .5-1.3 .5 1.4 .5-.6 .5-1.1 .5-.3 .5 .5 .5 1.4 .5-.2 .5-.2 .5 .4 .5 .3 .5-2.1 .5 1.4 .5-.4 .5-.3 .5 .5 .5 .3 .5-.1 .5-.9 .5 .7 .5 1.9 .5-2.3 .5-.5 .5 1.5 .5 .2 .5-.1 .5-1.1 .5 1.5 .5-1.3 .5-.3 .5 .4 .5 .4 .5 .6 .5 0 .5-.5 .5 .7 .5-.6 .5 .6 .5-1.8 .5-.1 .5 1.8 .5-1.6 .5 .8 .5 .1 .5-.3 .5 .1 .5 1.3 .5-2.9 .5 2.6 .5 1 .5-1.7 .5 0 .5 .5 .5 .9 .5-2.3 .5 1 .5-.2 .5 .5 .5-.3 .5 .4 .5-.8 .5 .3 .5-.5 .5 0 .5 .4 .5 0 .5-.8 .5 2.1 .5-1.3 .5-.9 .5 1.8 .5-1.4 .5 1 .5-.4 .5 .2 .5-.1 .5-.5 .5 .4 .5 1.5 .5-3.2 .5 1.7 .5 .3 .5-1.1 .5-.2 .5 2.6 .5-1.9 .5 1.9 .5-1.2 .5-.3 .5 .3 .5 .1 .5 .4 .5-.6 .5-.2 .5 0 .5 .9 .5-.4 .5-1.3 .5 .3 .5 .7 .5-.7 .5 .2 .5-.4 .5 .5 .5 .5 .5 .5 .5-.7 .5 1.6 .5-1.6 .5 2.4 .5-1.6 .5-.3 .5-.7 .5-1.7 .5 2 .5 .3 .5 1.3 .5-2.4 .5 2.5 .5-1.6 .5 .8 .5-2.4 .5 2 .5-.3 .5 .8 .5-.4 .5-.8 .5 1.6 .5-.2 .5 0 .5 .4 .5 .1 .5-.8 .5-1 .5 .1 .5 2.1 .5-.5 .5-.4 .5-.3 .5 .4 .5 0 .5-.2 .5-.2 .5 2.2 .5-1.4 .5-.6 .5-.5 .5 .5 .5 1.1 .5 .1 .5-.7 .5 .3 .5-.3 .5-.5 .5 1.8 .5-.6 .5 1.6 .5-2.4 .5 .5 .5 .8 .5-.8 .5-.8 .5 .4 .5 .8 .5 .2 .5-.3 .5 .9 .5 0 .5-.5 .5-.2 .5-.1 .5 .6 .5 .3 .5-.6 .5 .3 .5-.5 .5-.8 .5 .3 .5 1.4 .5-.2 .5 .9 .5-1.1 .5 .6 .5 .4 .5-.2 .5-1.2 .5 .4 .5 .2 .5-.8 .5 1.2 .5 .4 .5-1.1 .5 1.9 .5-1.7 .5 .1 .5 0 .5-.3 .5 .9 .5-.3 .5 1.3 .5-.7 .5-.1 .5-.5 .5-.9 .5 1.1 .5-.6 .5 1.4 .5-.7 .5 1.3 .5-.6 .5 .1 .5-.4 .5 0 .5 .3 .5 .3 .5-1.2 .5 .9 .5 1.6 .5-2 .5 0 .5-.3 .5-.6 .5 2 .5-.8 .5 .2 .5 1.2 .5 .5 .5-2.5 .5 1.5 .5-.3 .5-.1 .5 .1 .5-.4 .5 1.3 .5-.7 .5-.2 .5 .7 .5-.2 .5-.3 .5-.1 .5 1.1 .5-.9 .5-.4 .5-.6 .5 .4 .5-.5 .5 .9 .5 .1 .5-1.7 .5 1.6 .5 .5 .5-.3 .5-.9 .5 1.7 .5-1.4 .5-.4 .5 .1 .5 .8 .5 .8 .5 .2 .5-.7 .5-1.1 .5 .5 .5-.2 .5 .5 .5-1.1 .5 1.4 .5 .4 .5-.6 .5 .5 .5-1 .5-.4 .5 .6 .5 1.4 .5-.1 .5-1.1 .5 1.2 .5-1.1 .5 1.4 .5-.8 .5-.7 .5 1 .5-1.2 .5-.1 .5-.4 .5 1.3 .5-.2 .5-.1 .5-.2 .5 1.4 .5-1.4 .5-.2 .5 1.5 .5 .1 .5-.8 .5-1.5 .5 .8 .5 .9 .5-.4 .5 1.2 .5-2.2 .5 1.5 .5-.9 .5 1.4 .5-1 .5 .8 .5-1.2 .5-.6 .5 .2 .5 .4 .5-.3 .5 1.7 .5 .1 .5-.8 .5-1 .5 .7 .5-.4 .5 1.6 .5-.8 .5 .1 .5-.7 .5-1.2 .5 1 .5-.3 .5 1.1 .5-.2 .5-.6 .5 .3 .5 1.5 .5-1.9 .5 0 .5 .5 .5-.3 .5 .2 .5 .7 .5 .9 .5-2.6 .5 1.3 .5 .1 .5-.1 .5-.1 .5-.1 .5 1 .5-1.1 .5 .3 .5 .1 .5 0 .5-.2 .5 .9 .5-.7 .5 .1 .5-.2 .5-.7 .5 .2 .5-.2 .5 .9 .5-.6 .5-.3 .5 1 .5 .2 .5-1.7 .5 2.6 .5-1.3 .5-.1 .5 .9 .5-.7 .5-.6 .5 2.1 .5-2.4 .5 .7 .5 .7" fill="none" stroke="#fcc22a" stroke-width="3.20" stroke-linejoin="round" stroke-linecap="round"/>
<path d="M106.4 211.6l.5 1.3 .5 1 .5 2.2 .5-1.9 .5 1.2 .5 1.2 .5 .1 .5-.3 .5 1.8 .5 .4 .5 .8 .5 1.1 .5 .5 .5 .1 .5 .5 .5-.4 .5 1.3 .5 .8 .5 .1 .5 .9 .5-.1 .5 2.3 .5 1 .5-1.3 .5 1.1 .5 0 .5 1.7 .5-.1 .5 .2 .5 .3 .5 .8 .5-.3 .5 1.8 .5-.5 .5 1.5 .5 .3 .5 1.3 .5-.2 .5 1.4 .5-.9 .5 1.8 .5-.1 .5 1 .5 .5 .5 1.2 .5-1.6 .5 2.4 .5-.8 .5 2.6 .5-1.8 .5 1.3 .5 .1 .5 3.1 .5-1.7 .5 1.6 .5 0 .5-.4 .5 1.6 .5 1.2 .5-.1 .5 1.3 .5-.6 .5 .7 .5 .1 .5 .9 .5 1.5 .5-.8 .5 .1 .5-.3 .5 .1 .5 1.9 .5-1.8 .5 .3 .5 .7 .5-.2 .5 1.9 .5-3.3 .5 2 .5 .1 .5-1.6 .5 0 .5 .5 .5 .5 .5-2.4 .5-1 .5 1.3 .5-.1 .5-2 .5-2.1 .5 2.1 .5-1.9 .5 .3 .5-1.5 .5-.9 .5-.7 .5 .8 .5-.6 .5-3.3 .5 .3 .5 1.3 .5-2.4 .5-1.5 .5 .2 .5-.9 .5-.8 .5-1.1 .5-.5 .5-.8 .5 .1 .5-1.2 .5 .2 .5 .1 .5 1.3 .5-.4 .5 .2 .5 1.1 .5 .7 .5 1.4 .5 .6 .5 2 .5 .8 .5 .2 .5 .9 .5 2.2 .5 1 .5 .8 .5 .2 .5 .9 .5 2.8 .5 1.7 .5 1.5 .5-.1 .5 3.4 .5 .5 .5 2.3 .5 1.8 .5 .8 .5 1.8 .5 .6 .5 2.4 .5 .9 .5 3.1 .5 1.1 .5 1.9 .5 .7 .5 .3 .5 1.7 .5 .5 .5 1.7 .5 .7 .5-.1 .5 1.6 .5 .8 .5 .5 .5 1.6 .5 1.3 .5-1 .5 .5 .5-.9 .5 2.1 .5 .3 .5-.8 .5 2.3 .5 .6 .5-.5 .5 .7 .5-.1 .5 1.7 .5-1.3 .5 1.3 .5 2.1 .5-1.1 .5 .6 .5-.1 .5-.4 .5 1.2 .5 .6 .5-.8 .5 1.3 .5 1 .5 .1 .5-1.7 .5 .7 .5-.2 .5 2.2 .5-.1 .5 .3 .5-.9 .5 0 .5 1.1 .5 .3 .5-.5 .5 1 .5 .6 .5-.1 .5-.7 .5-.6 .5 1.6 .5 .5 .5-.1 .5 .1 .5 0 .5 1.3 .5-.4 .5 .4 .5-.6 .5 .4 .5 .8 .5-.6 .5 0 .5 .9 .5 1.3 .5-.6 .5 1.2 .5-1.1 .5 .1 .5-.7 .5 .8 .5 1.7 .5-.7 .5 .5 .5 .1 .5-.4 .5 0 .5 .4 .5 .5 .5 0 .5 .1 .5-.1 .5-.6 .5 .4 .5-.4 .5 1.6 .5-2.3 .5 1.5 .5 2 .5-2 .5-.5 .5 .8 .5 1 .5-1 .5 .6 .5-.4 .5-.4 .5 2.6 .5-2.4 .5-.5 .5-.1 .5 .6 .5-.1 .5 .1 .5-.6 .5-1.3 .5 1.2 .5-1 .5-.5 .5-1.5 .5 0 .5-.9 .5-.2 .5-1.9 .5 .4 .5-.7 .5-1.6 .5-.3 .5-.9 .5 .5 .5-3.3 .5 1.1 .5-1.4 .5 .9 .5 1.6 .5 0 .5 2 .5 .8 .5 3.6 .5 .6 .5 1.2 .5-.6 .5 1.3 .5 2.9 .5 .1 .5 .9 .5 1.3 .5-.6 .5 1.9 .5-.3 .5 .7 .5-.6 .5 1.2 .5-.7 .5 1.5 .5 .4 .5 0 .5 0 .5 .3 .5-2.3 .5 2.8 .5-.6 .5 .5 .5-.2 .5-.6 .5 .8 .5 1 .5 .8 .5-1.4 .5-.1 .5 1.9 .5-1.6 .5 2.3 .5-1.4 .5-.6 .5 1.5 .5 .6 .5-2.2 .5 2.3 .5-1.3 .5 1.4 .5-1.3 .5-.8 .5 1.6 .5 .4 .5 1 .5-.3 .5-.7 .5-.6 .5-.2 .5 .3 .5-.4 .5 .5 .5-1.7 .5 2.1 .5-.1 .5 2 .5-1.3 .5-.8 .5 .8 .5-1.3 .5 .5 .5-.9 .5 2.6 .5-.6 .5-1.3 .5 .9 .5 .8 .5-.3 .5 0 .5-.9 .5 .2 .5 .6 .5 .6 .5-1.2 .5-.2 .5 1.7 .5-1.5 .5 1.6 .5-.6 .5 .5 .5 .7 .5-.8 .5 .1 .5-1.2 .5 .2 .5 1 .5 .7 .5-.1 .5 .8 .5-1.5 .5-.1 .5 .7 .5-.8 .5 0 .5-.7 .5 1.5 .5-1.5 .5 1.2 .5-1.4 .5 1.9 .5-1.6 .5 1.4 .5-1.8 .5 .9 .5 1.2 .5-1.4 .5 .6 .5-.4 .5-1.3 .5 1.9 .5 .1 .5-1.1 .5 1.2 .5-1 .5-.2 .5 .8 .5-.5 .5 2.2 .5-2.9 .5 1.7 .5 .1 .5-2.2 .5 .1 .5 1.7 .5-.8 .5 .6 .5 .5 .5-1.1 .5-.6 .5-1.3 .5 2.1 .5-.9 .5 .9 .5-.1 .5-1.3 .5 2.3 .5-.5 .5-.2 .5-1.6 .5 .5 .5-.1 .5 0 .5-.6 .5 1.1 .5-.2 .5 .1 .5-.7 .5 1.3 .5-.9 .5-2.2 .5 1.5 .5 .4 .5 .8 .5-1 .5 0 .5-.3 .5 .9 .5-.8 .5-.1 .5-.2 .5 1 .5-.8 .5-.8 .5 1.7 .5-1 .5 .8 .5 .1 .5 .6 .5-.1 .5-1.2 .5 .4 .5-.8 .5 2.2 .5-.8 .5 .7 .5-1.2 .5-1.2 .5 2.7 .5-1 .5 .1 .5 0 .5 .5 .5 0 .5-1.5 .5 2 .5-1.1 .5 .1 .5 1.8 .5-.6 .5-.8 .5-1.1 .5 1.6 .5 .4 .5-.4 .5-.8 .5 .4 .5-.2 .5 1.2 .5 .5 .5 .2 .5-1.2 .5 .8 .5 .4 .5-.8 .5 .4 .5 1.8 .5-1.4 .5 .6 .5-.9 .5 .5 .5-1.3 .5 1.4 .5 1 .5 .7 .5-.6 .5-.3 .5-.4 .5-.4 .5 .4 .5 .6 .5-1 .5 1.4 .5-1.4 .5-.5 .5 .6 .5-.4 .5 .2 .5 2 .5-1 .5 .4 .5 .8 .5 .1 .5-1.3 .5 1.5 .5-.7 .5-.2 .5 .3 .5-1.3 .5 .5 .5 .6 .5 .6 .5-.7 .5 .2 .5 .9 .5 .4 .5-.4 .5 .4 .5-1.2 .5 .1 .5 .5 .5-.4 .5-.1 .5 1.7 .5-1.3 .5-.5 .5 1.1 .5 1.1 .5-1.3 .5 1 .5-1.2 .5 0 .5-.1 .5 .5 .5 1.6 .5-2.2 .5 2.2 .5-1.9 .5 .6 .5 .9 .5-.1 .5-.1 .5-1.4 .5 1.6 .5-.9 .5 2.8 .5-2 .5 .4 .5-.8 .5 .6 .5-.5 .5 1.8 .5-.8 .5 .8 .5-.8 .5 .3 .5 1.5 .5-1.6 .5-.5 .5 1.8 .5-1 .5 .7 .5 1.1 .5-1.1 .5 1.4 .5-1 .5 1.7 .5 0 .5-1.2 .5 .4 .5-.4 .5 .9 .5 .9 .5-1.9 .5 1.9 .5-1.6 .5 .5 .5-.6 .5 3 .5-1.4 .5 .3 .5-.6 .5 1.4 .5-2.3 .5 1.7 .5 1.8 .5-1.9 .5 .4 .5 .6 .5-1 .5 .8 .5 .8 .5-.5 .5 .2 .5-.4 .5 .6 .5-.1 .5 1.2 .5-.5 .5-.6 .5-1.6 .5 2.5 .5 .1 .5-1.1 .5-.7 .5 .7 .5 1.6 .5-1.4 .5 .6 .5 .6 .5 .8 .5-.8 .5 0 .5-.3 .5 1.8 .5-.4 .5-.8 .5-.9 .5 .6 .5 1.1 .5-.9 .5 1.2 .5-.3 .5 0 .5 .4 .5-.1 .5-1 .5 .5 .5 2.1 .5-2.7 .5 .6 .5 1.2 .5-.8 .5-.5 .5-.3 .5 1.4 .5 .5 .5 .3 .5-1 .5 .8 .5-1.5 .5 .9 .5-.5 .5 .6 .5 .5 .5 .3 .5-1.5 .5 1.7 .5-1.2 .5-.4 .5 .7 .5-1 .5 1.2 .5 .2 .5-.3 .5 .6 .5-.6 .5 .3 .5-1.1 .5 1.2 .5-.7 .5 .4 .5 .3 .5 .2 .5-1.3 .5 .1 .5 .9 .5 .7 .5-.1 .5 .4 .5 .4 .5-.6 .5-.4 .5-.7 .5 .1 .5 .4 .5 .6 .5 0 .5-.2 .5 0 .5 .6 .5-.3 .5 .1 .5 0 .5-.6 .5-.4 .5 1.2 .5 0 .5-.5 .5-.1 .5 2.1 .5-2.3 .5 .4 .5 .4 .5-1 .5 .9 .5 1.3 .5-.6 .5-.2 .5 0 .5-.4 .5 .7 .5-.8 .5-.2 .5 .4 .5 .6 .5-.4 .5 .3 .5-2 .5 2.4 .5 .9 .5-.7 .5-1.3 .5-.3 .5 .8 .5-.9 .5 1.3 .5-.9 .5 1.1 .5 .3 .5-2.5 .5 1.7 .5-.7 .5-.5 .5 .6 .5 .3 .5 1 .5-1.9 .5 1.9 .5 .8 .5-1.1 .5 0 .5-.4 .5-.9 .5 1.3 .5-.1 .5 .3 .5 1.4 .5-1.4 .5-.2 .5 .9 .5-2.2 .5 .2 .5 .6 .5-.2 .5 1 .5-.7 .5 1.5 .5-.1 .5-.6 .5-.8 .5 .7 .5 .2 .5-1.4 .5 1.1 .5 .2 .5-.3 .5 1 .5-.3 .5-1.5 .5 .7 .5-.7 .5 1.1 .5-1.1 .5 1.4 .5-.4 .5 .4 .5-.8 .5-1 .5 2.4 .5-1.4 .5 1.1 .5-.7 .5 .2 .5 .9 .5-1.1 .5 .7 .5-2.1 .5 1.7 .5-.8 .5 .1 .5 .1 .5 .2 .5 1 .5-2.7 .5 1.4 .5-.5 .5 1.3 .5-1.2 .5 .7 .5-.7 .5 .8 .5 .2 .5-1.1 .5 .3 .5-1.1 .5 1.3 .5 .3 .5-1.1 .5 1.3 .5-2.5 .5 .2 .5 .3 .5 .6 .5 .4 .5-.1 .5-.1 .5 .6 .5-1 .5-.6 .5 0 .5 2.5 .5-3.4 .5 1.6 .5 1.1 .5-.7 .5-1.1 .5 .6 .5 .6 .5 .2 .5-1.6 .5 1.2 .5-.4 .5 .6 .5 .2 .5-1.4 .5-.8 .5 1.3 .5 1 .5-.8 .5-.4 .5 1.6 .5-2.6 .5 1.4 .5-1.1 .5 .4 .5 0 .5 1 .5-1.8 .5 .2 .5-.8 .5 1.5 .5-.7 .5 .7 .5-1.2 .5 .5 .5 1.1 .5-1 .5 .6 .5-.1 .5-.6 .5-1 .5 1.9 .5-.6 .5 .6 .5-2.2 .5 .3 .5-.4 .5 1 .5 1.4 .5-.4 .5-.4 .5 .1 .5 .5 .5-.7 .5 .5 .5-.2 .5-1.7 .5 1.4 .5 1.3 .5-1.3 .5 .2 .5-.3 .5 .1 .5 1.3 .5-1 .5-.6 .5-1.5 .5 1.9 .5-1 .5 .2 .5 2 .5-.1 .5-1.9 .5 2.1 .5-.2 .5-.9 .5 1.2 .5-1.7 .5 .4 .5-.1 .5 .4 .5 1.6 .5-1.6 .5 .3 .5 .2 .5 1 .5-.2 .5 1 .5-1 .5-.3 .5 .7 .5 .6 .5-.6 .5 1 .5 1.4 .5-1.7 .5 .6 .5 1.1 .5-1.3 .5 0 .5-.1 .5 1.3 .5 .2 .5-.4 .5 .2 .5 1.1 .5-.2 .5-1.7 .5 1.2 .5 .1 .5 .5 .5-.6 .5-.3 .5 .2 .5-.9 .5 1.4 .5-.4 .5 .9 .5-1.1 .5 .5 .5-.4 .5 0 .5 1.4 .5-.8 .5 .7 .5-1.1 .5 .9 .5-1.2 .5 .9 .5 0 .5 .9 .5-.3 .5-.2 .5 .8 .5-.4 .5 .3 .5 .2 .5-.6 .5-.1 .5 .5 .5-.5 .5 .6 .5 .6 .5-.1 .5-.9 .5-.7 .5 1 .5 0 .5 .9 .5-1 .5 .1 .5 .8 .5-.9 .5 .3 .5 1.4 .5-.1 .5-.7 .5-.2 .5-.9 .5 1.2 .5-.4 .5 .2 .5-.5 .5 .4 .5-.1 .5 .4 .5 .8 .5-.7 .5-1.5 .5 .5 .5-.4 .5 .6 .5 1 .5-.1 .5-.7 .5 .6 .5-.7 .5-.5 .5 0 .5 .5 .5 1.7 .5-2.1 .5 2 .5 .1 .5-1.1 .5 .1 .5-.4 .5 .4 .5 .5 .5-.4 .5 .7 .5 .2 .5-.7 .5 .1 .5-.3 .5 .3 .5-1.1 .5 1.2 .5-.2 .5-.8 .5 2.3 .5-2.3 .5 .1 .5 .8 .5-1.6 .5 .9 .5-.6 .5 .5 .5 .6 .5 .3 .5 .6 .5-.2 .5 .3 .5-.4 .5-.8 .5 1.2 .5-1.2 .5-.1 .5 1.6 .5-.5 .5-.4 .5 .4 .5 .1 .5-1.7 .5 1 .5-.8 .5 1 .5-.6 .5 1.5 .5-.6 .5-1 .5 .6 .5-.9 .5 1 .5 .4 .5-.2 .5-1.7 .5 1.2 .5 .7 .5-.2 .5 .7 .5-1.8 .5 1.3 .5-.9 .5 .7 .5 .2 .5 .2 .5-1 .5 .6 .5-1 .5-.2 .5 1.5 .5-.4 .5-1.2 .5 .6 .5 .6 .5 1.2 .5-.4 .5-.2 .5-1.9 .5 1.3 .5 .4 .5 0 .5 0 .5-.5 .5 1.5 .5-.2 .5-1.2 .5-.6 .5 2.2 .5-1.9 .5 1.3 .5 .5 .5-2.1 .5 .9 .5-.4 .5 .6 .5-.1 .5 1.2 .5-1 .5-.5 .5 .9 .5-1.1 .5 0 .5 1.9 .5-2.3 .5 .3 .5 .4 .5-.8 .5-.8 .5 2.3 .5-1.3 .5 .1 .5 .2 .5-.5 .5 0 .5 .9" fill="none" stroke="#2db462" stroke-width="3.20" stroke-linejoin="round" stroke-linecap="round"/>
<path d="M106.4 186.5l.5-.9 .5 .5 .5-1.3 .5 1.6 .5-.4 .5 1.9 .5-.3 .5 .6 .5 .3 .5 .1 .5-.3 .5 2 .5-1 .5 .6 .5 1.1 .5 .1 .5 1.1 .5 1 .5-.1 .5 .4 .5 .3 .5 1 .5-1.6 .5 2.1 .5-.6 .5 .2 .5 1.4 .5 .1 .5 1.2 .5 .8 .5-2.2 .5 2.2 .5 1.9 .5-.3 .5 .9 .5-.5 .5-.7 .5 .8 .5 1.9 .5 .7 .5-.7 .5 .8 .5 1 .5-1 .5 1.6 .5 2 .5 .9 .5-1.1 .5 1.9 .5-1.2 .5 .3 .5-.6 .5 2.9 .5-.6 .5 2.5 .5-1 .5 .3 .5-1.1 .5 2.9 .5-1.1 .5 .5 .5-1.2 .5 2.7 .5 .3 .5-.9 .5 .7 .5 .4 .5 .6 .5-.5 .5 1.3 .5-1.4 .5-.2 .5 .1 .5-1.6 .5 1.3 .5 1.3 .5-.6 .5-.9 .5 .8 .5-1.8 .5 1.2 .5 .5 .5 0 .5-1.3 .5 1.1 .5 .6 .5-1.9 .5 .6 .5-1.9 .5-.5 .5 1.7 .5-.7 .5-.2 .5-.8 .5-.1 .5 .5 .5 .4 .5-1.8 .5-1.6 .5 1.3 .5-1.7 .5-1.4 .5-2.1 .5-.3 .5-3.8 .5-1.9 .5-4.1 .5-1.4 .5-2.5 .5-1.9 .5-2.1 .5-3.5 .5-1.2 .5-5.4 .5-2.9 .5-2.7 .5-4.1 .5-1 .5-2 .5-2.7 .5-.3 .5-3.2 .5-1.4 .5-2.1 .5-1.3 .5 .6 .5 .7 .5 .8 .5 2.3 .5-.9 .5 2.5 .5 1.2 .5 4.4 .5 1 .5 2.6 .5 2.1 .5 4.1 .5 1.7 .5 3.4 .5 1.3 .5 5.5 .5 2.6 .5 3.2 .5 3.6 .5 1.9 .5 2.9 .5 3.3 .5 2.3 .5 1.7 .5 2.2 .5 1.5 .5 2.9 .5 2 .5 1.1 .5 3.2 .5-.9 .5 2.7 .5 3 .5-.1 .5 .6 .5 3.6 .5 .6 .5-.2 .5 2.6 .5-.4 .5 .6 .5 1.7 .5 .5 .5 .2 .5 1.3 .5 .1 .5 1.5 .5 .6 .5 1.1 .5-.3 .5-.1 .5 .6 .5 1.3 .5 1.9 .5-.1 .5-.6 .5 1.6 .5-1.2 .5 2.1 .5-.7 .5 1.2 .5 .2 .5-.3 .5 .8 .5-.8 .5 1 .5 1.1 .5 2.5 .5-2.3 .5-.2 .5-.6 .5 1.7 .5-1.8 .5 .8 .5 1.1 .5-1 .5 2.3 .5-.2 .5-1.1 .5 .2 .5-.4 .5 .1 .5 1.5 .5 .3 .5-.1 .5 .1 .5-.5 .5 .8 .5-1.2 .5 1.2 .5 1.3 .5 0 .5-1.2 .5 .2 .5 1.4 .5 .4 .5-2.3 .5 .9 .5 .6 .5 .9 .5-1.4 .5 1.2 .5-.6 .5 2.2 .5-1.4 .5-.2 .5-.1 .5 1.2 .5-.1 .5-1.2 .5 1.1 .5-1 .5 .6 .5-.3 .5 .1 .5 .6 .5-.1 .5 1.3 .5 .3 .5-.7 .5-.6 .5 1.6 .5-2.1 .5 .2 .5 2 .5 0 .5 .3 .5-.8 .5-.8 .5 .6 .5 .8 .5-1.2 .5-.4 .5-1 .5-.5 .5 .8 .5-1.1 .5-2 .5-.7 .5-.5 .5-.3 .5-2.6 .5-.6 .5-2.8 .5-.3 .5 .6 .5 .2 .5-1 .5 1.5 .5 2.9 .5 .9 .5 1.6 .5 2.2 .5 .9 .5 1.7 .5 .8 .5-.1 .5 1.2 .5 .7 .5-.4 .5 .7 .5 1.8 .5-1.6 .5 2.2 .5-.2 .5 0 .5 .8 .5 .2 .5 .8 .5-1 .5 .4 .5 .2 .5 1.9 .5-.5 .5-1.2 .5 .7 .5-.1 .5 .7 .5 .3 .5 1.8 .5-3 .5 2.4 .5-.3 .5-.7 .5 .5 .5-.1 .5 .5 .5 .9 .5-1.8 .5 2.3 .5-1.2 .5 1.5 .5-.7 .5 .7 .5-.4 .5 .5 .5-.7 .5-.6 .5 1.3 .5 .1 .5 1.1 .5-3 .5 1.4 .5 1 .5-1.6 .5 .8 .5 1.8 .5-.4 .5-1.7 .5 1.8 .5-.1 .5-.2 .5-.3 .5 0 .5-.8 .5 .4 .5 1 .5-.4 .5 1.3 .5-1.6 .5-1.5 .5 1.7 .5 .5 .5 .1 .5-.2 .5-.6 .5 1.8 .5-1.6 .5 1.1 .5-.7 .5-.6 .5 2 .5-2.9 .5 1.3 .5 1 .5-.5 .5 .8 .5-.5 .5-.3 .5 2 .5-1.7 .5 .1 .5-.7 .5 .3 .5 1.1 .5 0 .5-.4 .5-.5 .5 1 .5-1.7 .5 1 .5 .1 .5-.4 .5 .8 .5-.6 .5-.1 .5 2 .5-.8 .5 .3 .5-.8 .5 .7 .5-.1 .5 .3 .5 .9 .5-2 .5 .4 .5-.2 .5-2.6 .5 1.5 .5 1.1 .5 .4 .5-.9 .5 1.3 .5 .1 .5-1.3 .5 1.3 .5 .3 .5-1 .5-1.1 .5 1.8 .5-1.3 .5-.2 .5 .3 .5-.5 .5 1.2 .5-.3 .5 .3 .5-.5 .5-1.1 .5 .4 .5 .8 .5-1 .5 2.4 .5-2.4 .5-.3 .5 1.3 .5-.4 .5-.6 .5-.2 .5 .4 .5 .3 .5-.1 .5-.8 .5 .5 .5 .2 .5-.1 .5-2.9 .5 1.6 .5 .1 .5 .3 .5 .3 .5 .5 .5-.2 .5-.6 .5 .1 .5 1.3 .5-1.8 .5 .7 .5 .9 .5-.9 .5-1.8 .5 1.8 .5-.6 .5 .2 .5 .9 .5-.4 .5-.5 .5 .9 .5-.3 .5-.2 .5 .2 .5 0 .5-.4 .5 0 .5 .4 .5-.7 .5-.1 .5 2 .5-1.1 .5 .2 .5 0 .5 .3 .5 .1 .5 .1 .5-.6 .5 1.4 .5-1.1 .5 1.4 .5-2.1 .5 .8 .5 1.6 .5-.7 .5-.3 .5 .9 .5-1 .5 1 .5-1.6 .5 1.4 .5 0 .5 1 .5 .3 .5-1.2 .5 2 .5-1.5 .5-1 .5-.2 .5 3.1 .5-1.2 .5-.3 .5 0 .5-.1 .5 1.9 .5-1 .5 1.5 .5-1.4 .5-1.6 .5 2.5 .5-.8 .5 .1 .5 1.5 .5-1.3 .5 1.1 .5-.8 .5-.5 .5 1 .5-.7 .5 1.4 .5-.1 .5-.6 .5 .4 .5 .1 .5-.6 .5 1 .5-.8 .5 .7 .5-1.1 .5 .8 .5 .4 .5-.9 .5 .4 .5 0 .5 1 .5-1 .5 .9 .5 .9 .5-.8 .5-1.4 .5 1.4 .5 .8 .5-1 .5 1.2 .5-.3 .5-.1 .5-.4 .5-.1 .5 .3 .5 .3 .5 .5 .5 0 .5-.4 .5 .3 .5 .4 .5-1.4 .5 .8 .5 .1 .5 .5 .5 .1 .5 .1 .5-.3 .5 1.3 .5-.2 .5-1.3 .5 1.4 .5-.7 .5 2.2 .5-1.5 .5 .2 .5 .5 .5-.1 .5 .2 .5 1.4 .5-.9 .5 .6 .5 .3 .5-1.4 .5 2.1 .5-.6 .5 .3 .5-1.3 .5 1.4 .5-.2 .5-.6 .5 2.2 .5-1.1 .5-.5 .5 .4 .5 .7 .5 .2 .5-.2 .5 .6 .5 .3 .5-2 .5 .7 .5-.2 .5 .9 .5 1.1 .5-.4 .5-1.2 .5 .7 .5 1.1 .5-1.1 .5 .5 .5 .4 .5-1.5 .5 2 .5-.2 .5 .3 .5-1.1 .5 .3 .5 .2 .5 .7 .5 0 .5 .1 .5 1.4 .5-.3 .5-1.5 .5 .2 .5 1.8 .5-1.4 .5 1.3 .5 .2 .5-1.5 .5 .2 .5 .3 .5-.6 .5-.1 .5 .5 .5 1 .5-1 .5 .3 .5-.2 .5-.6 .5 2.1 .5-2.8 .5 1.3 .5 .9 .5-1.4 .5 1.5 .5 .6 .5-1.6 .5 .8 .5-.9 .5 1.2 .5-.3 .5 .2 .5 .8 .5-.6 .5 .7 .5-.5 .5-1.4 .5 1.1 .5 .2 .5-1.4 .5 2.1 .5-.9 .5 .2 .5-.9 .5 .8 .5 .1 .5-.4 .5 .3 .5-1.6 .5 2.6 .5-1.8 .5-.8 .5 .9 .5 .2 .5 1 .5-1.1 .5 1 .5-1 .5 2.4 .5-1.2 .5 1.1 .5-2.2 .5 1.3 .5-1.2 .5 1.1 .5 .1 .5-1.7 .5 .4 .5 0 .5-.2 .5 .6 .5-.2 .5-.3 .5 1.1 .5 .4 .5-1.4 .5 .6 .5 .5 .5-.2 .5-.3 .5 1.1 .5 .1 .5-.1 .5-.7 .5 1.7 .5-.1 .5-1.6 .5 .2 .5 1 .5-1.4 .5 .9 .5-.3 .5-.5 .5 .4 .5-1 .5 .8 .5-1 .5 3.2 .5-.5 .5-.2 .5-.7 .5 .6 .5 .2 .5-.2 .5 0 .5-1.3 .5 1 .5-.7 .5-.4 .5 0 .5 1.2 .5 .5 .5-1.7 .5 2.3 .5-.2 .5-1.3 .5 0 .5 .3 .5 .8 .5-1 .5-.5 .5 1.1 .5-1.8 .5 1.7 .5 .8 .5-.6 .5 .4 .5-.2 .5 .2 .5-.4 .5-.7 .5 .5 .5 .1 .5 1 .5 .3 .5-.8 .5-.9 .5 0 .5 .5 .5 1.2 .5-.8 .5-.3 .5-.5 .5 1.3 .5-.5 .5-.2 .5 .1 .5 1.2 .5-1.4 .5 1.4 .5-.3 .5-.9 .5 .7 .5-.8 .5-.5 .5 .4 .5-.5 .5 1.1 .5-.4 .5 .4 .5 .2 .5-2.9 .5 2.5 .5-1.6 .5 1.5 .5-.8 .5 .8 .5 .9 .5-2.3 .5 1.4 .5-.2 .5-1.3 .5 1.9 .5-.5 .5-.4 .5-.1 .5 2.9 .5-2.7 .5-1.1 .5 .7 .5 .4 .5 0 .5 .2 .5-.7 .5 1.2 .5-.8 .5-.6 .5 .4 .5 .3 .5 .9 .5-.2 .5-.7 .5 .3 .5 .2 .5 1.3 .5-2 .5 .9 .5 .1 .5-1.2 .5 .8 .5 0 .5-.5 .5 .8 .5 .4 .5 0 .5-.9 .5 .2 .5 1.7 .5-2.6 .5 1 .5 .5 .5-.6 .5 .4 .5-.4 .5 .4 .5 .4 .5-1.1 .5 .2 .5-.2 .5-.3 .5 .2 .5-.8 .5 1.3 .5 .7 .5-.1 .5-.4 .5-1.7 .5 1.8 .5-1.8 .5 .4 .5 1.4 .5-2.3 .5 1.3 .5-.5 .5-.4 .5-.6 .5 .8 .5-.7 .5 1 .5 0 .5-2.1 .5 .6 .5 0 .5-.7 .5-.1 .5 .8 .5-.4 .5-1.2 .5 .7 .5 .6 .5-1.5 .5 0 .5 1.6 .5-.4 .5-2.6 .5-.1 .5 1 .5-1.6 .5 .4 .5-.5 .5 .3 .5-2.7 .5-.1 .5 .3 .5 1.3 .5-1.2 .5-1.6 .5 1.3 .5-.2 .5-1 .5-.4 .5 .3 .5 .3 .5-1.1 .5 .1 .5-.6 .5-.4 .5-.5 .5 .7 .5-.4 .5 0 .5 .9 .5-.2 .5 .4 .5-1.7 .5 1.8 .5-.6 .5 0 .5 .3 .5 1.8 .5 .1 .5-.8 .5 0 .5 1.2 .5 .1 .5 2 .5-2 .5 .2 .5 1.6 .5 .6 .5 .5 .5 .9 .5 1.4 .5-1.5 .5 .3 .5-.6 .5 1.9 .5 .8 .5-.5 .5 1.4 .5-.6 .5 1.4 .5-.7 .5-.8 .5 .5 .5-.5 .5 .1 .5 1.7 .5 .6 .5 1 .5-1.3 .5 .1 .5-.5 .5 1.7 .5-.2 .5-.6 .5 1.2 .5 .1 .5-1.7 .5 2.1 .5-.2 .5-.3 .5 .2 .5 1.8 .5 0 .5 .3 .5-2.1 .5 .6 .5 1.3 .5-1.5 .5 .5 .5-.7 .5 2.9 .5-.4 .5-.4 .5 0 .5-.4 .5 .1 .5 .9 .5-.9 .5 1.5 .5-1.2 .5-.2 .5 1.7 .5-1 .5 .6 .5-.7 .5-1.3 .5 2.1 .5-1.3 .5 1.8 .5-1.9 .5-.2 .5 1.7 .5 .1 .5-.2 .5-.9 .5 1.6 .5-1.7 .5 .8 .5-.2 .5 .3 .5 1 .5-1.1 .5 .9 .5 .2 .5-1.8 .5 .4 .5 .7 .5-.2 .5 .7 .5-1.6 .5 2 .5 .1 .5-.7 .5-.9 .5 1.1 .5-.4 .5 .9 .5-.5 .5 .6 .5-.8 .5 1.4 .5-2.7 .5 .9 .5 1.2 .5-1.5 .5 1.7 .5-1.4 .5 1 .5-.7 .5 .3 .5 .5 .5-.2 .5-.1 .5 1.9 .5-1.6 .5-.7 .5 1.4 .5 0 .5 .3 .5 .5 .5-2.1 .5 1.6 .5 0 .5-.8 .5 .2 .5-2.4 .5 1.9 .5 1.7 .5-2.6 .5 1 .5 .6 .5 .2 .5 .9 .5-2.6 .5 1.4 .5 .6 .5-1.6 .5 1 .5 1.5 .5-.4 .5-.6 .5-2.3 .5 1.9 .5 .4 .5-.5 .5 .2 .5 2.4 .5-2.5 .5-.5 .5 .9 .5-.4 .5 0 .5 .2 .5 .7 .5-.4 .5-1.1 .5 .9 .5 .4 .5-.6 .5 1.2 .5-.3 .5-1.3 .5 1 .5 1.3 .5-.3 .5-1.2 .5 .7 .5-1.1 .5-.6 .5 1.5 .5-.2 .5 .3 .5-.4 .5 .2 .5-.6 .5 .8 .5 .3 .5-.7 .5 .7 .5-1.9 .5 .7 .5 1.7 .5 .3 .5-1.1 .5-.3 .5-.8 .5 1.2 .5 .3 .5-1.7 .5 1.6 .5 0 .5-.1 .5-1.1 .5 1.2 .5-1.5 .5 2.3 .5-1 .5-1 .5 1.9 .5-.1 .5-1.4 .5 2.2 .5-2.4 .5 1 .5 .7 .5-2.6 .5 2.5 .5-.8 .5 0 .5-.8 .5 1.1 .5-1.1 .5 .1 .5 .4 .5-.5" fill="none" stroke="#2a5c98" stroke-width="3.20" stroke-linejoin="round" stroke-linecap="round"/>
<path d="M137.3 45.6v9.0M137.3 496.6v-9.0M199.2 45.6v9.0M199.2 496.6v-9.0M261.1 45.6v9.0M261.1 496.6v-9.0M323.0 45.6v9.0M323.0 496.6v-9.0M384.9 45.6v9.0M384.9 496.6v-9.0M446.8 45.6v9.0M446.8 496.6v-9.0M508.7 45.6v9.0M508.7 496.6v-9.0M570.6 45.6v9.0M570.6 496.6v-9.0M632.5 45.6v9.0M632.5 496.6v-9.0M168.2 45.6v4.8M168.2 496.6v-4.8M230.2 45.6v4.8M230.2 496.6v-4.8M292.1 45.6v4.8M292.1 496.6v-4.8M354.0 45.6v4.8M354.0 496.6v-4.8M415.9 45.6v4.8M415.9 496.6v-4.8M477.8 45.6v4.8M477.8 496.6v-4.8M539.7 45.6v4.8M539.7 496.6v-4.8M601.6 45.6v4.8M601.6 496.6v-4.8M106.0 480.3h9.0M664.6 480.3h-9.0M106.0 413.5h9.0M664.6 413.5h-9.0M106.0 346.7h9.0M664.6 346.7h-9.0M106.0 279.9h9.0M664.6 279.9h-9.0M106.0 213.1h9.0M664.6 213.1h-9.0M106.0 146.3h9.0M664.6 146.3h-9.0M106.0 79.5h9.0M664.6 79.5h-9.0M106.0 446.9h4.8M664.6 446.9h-4.8M106.0 380.1h4.8M664.6 380.1h-4.8M106.0 313.3h4.8M664.6 313.3h-4.8M106.0 246.5h4.8M664.6 246.5h-4.8M106.0 179.7h4.8M664.6 179.7h-4.8M106.0 112.9h4.8M664.6 112.9h-4.8" stroke="#000" stroke-width="2.9" fill="none"/>
<rect x="106.0" y="45.6" width="558.6" height="451.0" fill="none" stroke="#000" stroke-width="2.9"/>
<text x="0.0" y="0.0" font-size="30.7" font-weight="bold" text-anchor="middle" fill="#000" font-family="'Liberation Sans', Arial, sans-serif" transform="translate(137.3 530.2) scale(0.980 1)">35</text>
<text x="0.0" y="0.0" font-size="30.7" font-weight="bold" text-anchor="middle" fill="#000" font-family="'Liberation Sans', Arial, sans-serif" transform="translate(199.2 530.2) scale(0.980 1)">40</text>
<text x="0.0" y="0.0" font-size="30.7" font-weight="bold" text-anchor="middle" fill="#000" font-family="'Liberation Sans', Arial, sans-serif" transform="translate(261.1 530.2) scale(0.980 1)">45</text>
<text x="0.0" y="0.0" font-size="30.7" font-weight="bold" text-anchor="middle" fill="#000" font-family="'Liberation Sans', Arial, sans-serif" transform="translate(323.0 530.2) scale(0.980 1)">50</text>
<text x="0.0" y="0.0" font-size="30.7" font-weight="bold" text-anchor="middle" fill="#000" font-family="'Liberation Sans', Arial, sans-serif" transform="translate(384.9 530.2) scale(0.980 1)">55</text>
<text x="0.0" y="0.0" font-size="30.7" font-weight="bold" text-anchor="middle" fill="#000" font-family="'Liberation Sans', Arial, sans-serif" transform="translate(446.8 530.2) scale(0.980 1)">60</text>
<text x="0.0" y="0.0" font-size="30.7" font-weight="bold" text-anchor="middle" fill="#000" font-family="'Liberation Sans', Arial, sans-serif" transform="translate(508.7 530.2) scale(0.980 1)">65</text>
<text x="0.0" y="0.0" font-size="30.7" font-weight="bold" text-anchor="middle" fill="#000" font-family="'Liberation Sans', Arial, sans-serif" transform="translate(570.6 530.2) scale(0.980 1)">70</text>
<text x="0.0" y="0.0" font-size="30.7" font-weight="bold" text-anchor="middle" fill="#000" font-family="'Liberation Sans', Arial, sans-serif" transform="translate(632.5 530.2) scale(0.980 1)">75</text>
<text x="0.0" y="0.0" font-size="30.7" font-weight="bold" text-anchor="end" fill="#000" font-family="'Liberation Sans', Arial, sans-serif" transform="translate(95.5 488.1) scale(0.980 1)">0</text>
<text x="0.0" y="0.0" font-size="30.7" font-weight="bold" text-anchor="end" fill="#000" font-family="'Liberation Sans', Arial, sans-serif" transform="translate(95.5 421.3) scale(0.980 1)">5</text>
<text x="0.0" y="0.0" font-size="30.7" font-weight="bold" text-anchor="end" fill="#000" font-family="'Liberation Sans', Arial, sans-serif" transform="translate(95.5 354.5) scale(0.980 1)">10</text>
<text x="0.0" y="0.0" font-size="30.7" font-weight="bold" text-anchor="end" fill="#000" font-family="'Liberation Sans', Arial, sans-serif" transform="translate(95.5 287.7) scale(0.980 1)">15</text>
<text x="0.0" y="0.0" font-size="30.7" font-weight="bold" text-anchor="end" fill="#000" font-family="'Liberation Sans', Arial, sans-serif" transform="translate(95.5 220.9) scale(0.980 1)">20</text>
<text x="0.0" y="0.0" font-size="30.7" font-weight="bold" text-anchor="end" fill="#000" font-family="'Liberation Sans', Arial, sans-serif" transform="translate(95.5 154.1) scale(0.980 1)">25</text>
<text x="0.0" y="0.0" font-size="30.7" font-weight="bold" text-anchor="end" fill="#000" font-family="'Liberation Sans', Arial, sans-serif" transform="translate(95.5 87.3) scale(0.980 1)">30</text>
<text x="384.8" y="571.2" font-size="38.3" font-weight="bold" text-anchor="middle" font-family="'Liberation Sans', Arial, sans-serif">2<tspan font-family="'Liberation Serif', 'Times New Roman', serif" font-weight="normal">&#952;</tspan> (degree)</text>
<text x="0.0" y="0.0" font-size="38.2" font-weight="bold" text-anchor="middle" fill="#000" font-family="'Liberation Sans', Arial, sans-serif" transform="translate(37.9 270.0) rotate(-90)">Intensity (a.u.)</text>
<text x="0.0" y="0.0" font-size="25.5" font-weight="normal" text-anchor="start" fill="#1a1a1a" font-family="'Liberation Sans', Arial, sans-serif" transform="translate(212.4 60.0) rotate(90)" xml:space="preserve" stroke="#1a1a1a" stroke-width="0.60">Nb (110)</text>
<text x="0.0" y="0.0" font-size="25.5" font-weight="normal" text-anchor="start" fill="#1a1a1a" font-family="'Liberation Sans', Arial, sans-serif" transform="translate(422.4 60.0) rotate(90)" xml:space="preserve" stroke="#1a1a1a" stroke-width="0.60">Nb (200)</text>
<text x="0.0" y="0.0" font-size="25.5" font-weight="normal" text-anchor="start" fill="#1a1a1a" font-family="'Liberation Sans', Arial, sans-serif" transform="translate(597.2 60.0) rotate(90)" xml:space="preserve" stroke="#1a1a1a" stroke-width="0.60">Nb (211)</text>
<line x1="671.3" y1="58.0" x2="720.8" y2="58.0" stroke="#2a5c98" stroke-width="2.6" stroke-linecap="round"/>
<text x="0.0" y="0.0" font-size="20.5" font-weight="bold" text-anchor="start" fill="#000" font-family="'Liberation Sans', Arial, sans-serif" transform="translate(725.4 64.2) scale(1.020 1)">Nb 15</text>
<line x1="671.3" y1="84.8" x2="720.8" y2="84.8" stroke="#2db462" stroke-width="2.6" stroke-linecap="round"/>
<text x="0.0" y="0.0" font-size="20.5" font-weight="bold" text-anchor="start" fill="#000" font-family="'Liberation Sans', Arial, sans-serif" transform="translate(725.4 91.0) scale(1.020 1)">Nb 9</text>
<line x1="671.3" y1="111.5" x2="720.8" y2="111.5" stroke="#fcc22a" stroke-width="2.6" stroke-linecap="round"/>
<text x="0.0" y="0.0" font-size="20.5" font-weight="bold" text-anchor="start" fill="#000" font-family="'Liberation Sans', Arial, sans-serif" transform="translate(725.4 117.7) scale(1.020 1)">Nb 7</text>
<line x1="671.3" y1="138.2" x2="720.8" y2="138.2" stroke="#e97a22" stroke-width="2.6" stroke-linecap="round"/>
<text x="0.0" y="0.0" font-size="20.5" font-weight="bold" text-anchor="start" fill="#000" font-family="'Liberation Sans', Arial, sans-serif" transform="translate(725.4 144.4) scale(1.020 1)">Nb 5</text>
<line x1="671.3" y1="165.0" x2="720.8" y2="165.0" stroke="#ef3038" stroke-width="2.6" stroke-linecap="round"/>
<text x="0.0" y="0.0" font-size="20.5" font-weight="bold" text-anchor="start" fill="#000" font-family="'Liberation Sans', Arial, sans-serif" transform="translate(725.4 171.2) scale(1.020 1)">Nb 3</text>
<text x="0.0" y="0.0" font-size="20.5" font-weight="bold" text-anchor="start" fill="#000" font-family="'Liberation Sans', Arial, sans-serif" transform="translate(725.4 198.4) scale(1.020 1)">(in nm)</text>
<line x1="998.2" y1="46.8" x2="998.2" y2="496.0" stroke="#f68a1e" stroke-width="2.8" stroke-dasharray="2.8 3.7"/>
<line x1="1210.4" y1="46.8" x2="1210.4" y2="496.0" stroke="#f68a1e" stroke-width="2.8" stroke-dasharray="2.8 3.7"/>
<line x1="1385.6" y1="46.8" x2="1385.6" y2="496.0" stroke="#f68a1e" stroke-width="2.8" stroke-dasharray="2.8 3.7"/>
<line x1="1001.0" y1="46.8" x2="1001.0" y2="496.0" stroke="#222" stroke-width="2.4" stroke-dasharray="7.7 6.5" stroke-dashoffset="2.4"/>
<line x1="1213.0" y1="46.8" x2="1213.0" y2="496.0" stroke="#222" stroke-width="2.4" stroke-dasharray="7.7 6.5" stroke-dashoffset="2.4"/>
<line x1="1388.2" y1="46.8" x2="1388.2" y2="496.0" stroke="#222" stroke-width="2.4" stroke-dasharray="7.7 6.5" stroke-dashoffset="2.4"/>
<path d="M925.7 370.2l.5-1.7 .5 .9 .5 .8 .5 .7 .5 1.1 .5 .5 .5-.4 .5 .5 .5 .7 .5 1.1 .5 .4 .5-.5 .5-.7 .5 3.6 .5-.4 .5-.1 .5 .5 .5-.2 .5 .1 .5 .9 .5 .6 .5 .1 .5-.2 .5 1.3 .5 1.1 .5-.4 .5 .8 .5-1.2 .5 1.8 .5 .5 .5-.4 .5 0 .5 2 .5-.5 .5 1.4 .5-.3 .5 1.2 .5-.4 .5-.5 .5 1.5 .5 .2 .5 1.1 .5-.5 .5 .4 .5 1.3 .5 .6 .5 .1 .5 .5 .5-.1 .5 .6 .5 .4 .5 0 .5 .1 .5 .4 .5 2 .5-1.4 .5 .1 .5 .2 .5 .6 .5 .5 .5-.7 .5-.3 .5 2 .5-1.1 .5 1.6 .5 .2 .5 1.1 .5 .7 .5-.8 .5-.4 .5-.2 .5 .5 .5 .9 .5-1.3 .5 1.8 .5 .2 .5 .7 .5-.5 .5 .6 .5-.4 .5 .4 .5-.8 .5 1.7 .5 1.3 .5-.8 .5 .3 .5-.8 .5 2.1 .5-1.5 .5 1.4 .5-.3 .5-.5 .5 1.7 .5-.5 .5 .3 .5 .5 .5-.2 .5 0 .5 .9 .5-.4 .5 .6 .5-.3 .5-.3 .5 .9 .5 .4 .5 .7 .5 1.2 .5-1.9 .5 1.7 .5-1.4 .5 1.2 .5 .8 .5-1 .5 .7 .5 1.9 .5 .3 .5 .2 .5-.1 .5 2.6 .5-1.3 .5-.1 .5 2.3 .5-.4 .5-.3 .5 1.6 .5-.4 .5 .8 .5 .1 .5-.5 .5 1.9 .5-.1 .5-.5 .5 .6 .5 1.7 .5-.6 .5 .7 .5 .9 .5 0 .5-.8 .5 2 .5 .6 .5 .3 .5 .9 .5-.6 .5 .7 .5 .9 .5-1 .5 1.8 .5 .3 .5-.4 .5 1.1 .5-.5 .5-1 .5 1.8 .5-.3 .5 .4 .5 0 .5 1.2 .5-.3 .5-.7 .5 1.2 .5 .4 .5-.8 .5 .5 .5 .3 .5 .1 .5 1 .5 .7 .5 .9 .5-.3 .5 .2 .5 .3 .5 .4 .5-1.1 .5 1.1 .5-.1 .5-.1 .5 0 .5 .2 .5 .4 .5-.5 .5 1.6 .5-.2 .5 .3 .5 .4 .5 .5 .5-.8 .5 .6 .5-.9 .5-.3 .5 .4 .5 2.8 .5-2.3 .5 1.9 .5 1 .5-1.2 .5 1.8 .5 .3 .5-.4 .5 1.3 .5-1.1 .5-.8 .5 1.2 .5-.5 .5-.5 .5 .3 .5 2.9 .5-1.9 .5 .6 .5-.3 .5 .9 .5-.1 .5 .1 .5-.4 .5 .1 .5 .7 .5 1 .5 1.6 .5-.6 .5 .8 .5-.8 .5-.2 .5-.7 .5 1.2 .5-1.4 .5 1.5 .5 1.7 .5-.8 .5 .8 .5-1 .5-.6 .5 .9 .5 .2 .5 1.4 .5 .7 .5-1.9 .5 .4 .5 .3 .5 0 .5-.5 .5 1.1 .5 .3 .5 .1 .5-1.1 .5 .9 .5-1.1 .5 2.1 .5-1.4 .5 .6 .5-.1 .5 0 .5-.3 .5-.5 .5 2.6 .5-1.1 .5 0 .5 1.1 .5-2.1 .5-.1 .5-1.2 .5-.1 .5-1.4 .5-1.2 .5-1.4 .5-1.1 .5-1.2 .5-4.5 .5-.4 .5-1.8 .5-.8 .5-1.4 .5 2.9 .5 .3 .5 2.4 .5 1.9 .5 1.3 .5 2.8 .5 .4 .5 2.1 .5 1.9 .5 1.6 .5 1.4 .5 1 .5 2.5 .5-.7 .5-1 .5 .7 .5 .2 .5 .6 .5-.2 .5 0 .5 2.1 .5-1 .5-.1 .5 .2 .5 .2 .5 1.3 .5-.5 .5 .6 .5-3 .5 2.7 .5 .7 .5 .8 .5-1.4 .5-1.2 .5 1.9 .5-.8 .5-.8 .5 .9 .5 1.4 .5 .2 .5-.3 .5-1.2 .5 2.7 .5-2.7 .5 .9 .5-.9 .5 2.1 .5-.6 .5 .4 .5-.6 .5 0 .5 .2 .5-1.5 .5 2.2 .5 0 .5-.9 .5 .3 .5 .3 .5 1 .5-.8 .5-.2 .5-.4 .5-.7 .5 .7 .5 .6 .5-.2 .5 .3 .5 .5 .5-.2 .5-.1 .5 .4 .5-.3 .5-.1 .5 .4 .5-1.6 .5 2.3 .5-1.9 .5 1.7 .5-.6 .5 .9 .5-.8 .5-.7 .5 1.6 .5-.6 .5 0 .5 0 .5 .7 .5-.1 .5-.4 .5-1.3 .5 .9 .5 .5 .5 1.3 .5-1 .5-.3 .5 1 .5-1 .5 .1 .5 .2 .5-1.2 .5 1.9 .5-.4 .5-.5 .5-.6 .5 1.1 .5 .9 .5-1.5 .5-.3 .5 1.1 .5-1.4 .5-.5 .5 1.4 .5-.2 .5 .4 .5-.2 .5 .7 .5-.4 .5-.3 .5 .1 .5 .9 .5 .2 .5 0 .5-.1 .5-3 .5 1.7 .5 .6 .5 .4 .5-1.4 .5 2.3 .5-.8 .5-.7 .5 .6 .5-.4 .5-.3 .5 .9 .5-.7 .5-.7 .5 .5 .5 .4 .5-.7 .5 1.7 .5-1.8 .5 2.1 .5-.6 .5-1.4 .5 .7 .5 .8 .5-1.1 .5-.8 .5 1 .5 1.3 .5-2.6 .5 1.5 .5-.5 .5-.1 .5-.2 .5 0 .5 1 .5-.4 .5-1.2 .5 1.8 .5-2.1 .5 1.4 .5-.4 .5 .7 .5-.6 .5 .5 .5-.9 .5 .8 .5-.5 .5 1.3 .5-2.1 .5 1.4 .5-.6 .5-.2 .5-.6 .5 .8 .5-1.4 .5 0 .5 1.6 .5-1.7 .5 2.3 .5-1.3 .5 .5 .5-.1 .5 .3 .5-.5 .5 0 .5 .2 .5 .9 .5 .1 .5 .2 .5-.6 .5-.4 .5-1 .5 1.8 .5 .2 .5-.9 .5 1 .5 .5 .5-.8 .5 .8 .5-.5 .5-1.4 .5 1 .5 .1 .5 .8 .5-.9 .5 .4 .5-.3 .5 .8 .5 .2 .5 .8 .5-.1 .5-.3 .5 .1 .5 .1 .5 .1 .5 1.2 .5-3 .5 1.9 .5 .5 .5 .7 .5-1.6 .5 1.2 .5 .5 .5-.8 .5-1 .5 1.3 .5-.5 .5 1.5 .5-1 .5 2.1 .5-1.2 .5-.6 .5 .4 .5-.3 .5 1.2 .5 .9 .5-1.1 .5 .9 .5-1.3 .5 1.1 .5 1.6 .5-2.6 .5 2.1 .5 .1 .5-2.1 .5 .5 .5 .5 .5 1.6 .5-.9 .5 .4 .5 .8 .5-.3 .5 .3 .5-.2 .5 1.2 .5-1.2 .5 2 .5-1.3 .5-.2 .5 1.2 .5 .1 .5-1.7 .5 1.8 .5-1 .5 .5 .5 1.4 .5-1.1 .5 1.1 .5-.4 .5 1.8 .5-1.4 .5-.7 .5 .2 .5 .2 .5 .9 .5 0 .5 .8 .5-.5 .5 0 .5 .3 .5-.3 .5 .4 .5 .4 .5 .1 .5-.9 .5-.8 .5 .7 .5 .9 .5-2 .5 1.6 .5 .8 .5-.7 .5-.4 .5 2.3 .5-.2 .5-1.2 .5 1.2 .5 .1 .5-1.8 .5 3 .5-2.7 .5 .6 .5-.6 .5 .9 .5-.9 .5 1 .5 .9 .5-.6 .5-.3 .5 1.4 .5-1.8 .5 1.5 .5-.9 .5 .4 .5-.1 .5 .2 .5-.1 .5-.5 .5 .2 .5 .8 .5-.4 .5-.7 .5 .4 .5 0 .5 .6 .5 .2 .5 0 .5-.6 .5 .6 .5-1 .5-1.1 .5 2.2 .5-1.2 .5 .6 .5-.2 .5 1.4 .5-1.3 .5 1.2 .5-.6 .5-.5 .5-.2 .5 1.6 .5-.1 .5 .4 .5 .8 .5-1.1 .5 0 .5-.2 .5 .2 .5-.3 .5-.4 .5 2.2 .5-2.9 .5 1.7 .5 .2 .5-.2 .5-.8 .5 .6 .5-.2 .5-.4 .5 .8 .5-.2 .5-.1 .5 1 .5-1.3 .5 1.2 .5-.8 .5 .8 .5-.2 .5 .2 .5-.9 .5 .2 .5 0 .5 .8 .5 .5 .5 .2 .5-1.1 .5 .5 .5-1.3 .5-.4 .5 1.1 .5 .2 .5-.7 .5-.1 .5 1.8 .5-1 .5-.6 .5 3 .5-1.5 .5-.4 .5 .8 .5-1 .5 1.8 .5-2.3 .5 .2 .5 .9 .5-.5 .5 1.7 .5-2.2 .5 .7 .5 .7 .5 .3 .5 .4 .5-.5 .5 1.4 .5-2 .5 .6 .5 .5 .5-.8 .5 0 .5-.1 .5-.1 .5-.3 .5 .4 .5-.7 .5 1.5 .5-1.5 .5 2.8 .5-.3 .5-.4 .5-.9 .5-.3 .5 1.4 .5-.8 .5 .3 .5-.9 .5 1.3 .5-1.3 .5 .7 .5-1.4 .5 .8 .5 .9 .5-.7 .5 0 .5 1 .5-.7 .5 1 .5-2.7 .5 2.3 .5-.1 .5-1.5 .5 .2 .5 1.6 .5-1.4 .5 .3 .5 1 .5-.7 .5 .6 .5-1 .5 .9 .5 .6 .5-.6 .5-1.9 .5 2.1 .5-.4 .5-.7 .5 1.7 .5-2.3 .5 2.7 .5-1.9 .5 1.6 .5-1.2 .5-1 .5 1.1 .5 .2 .5 .1 .5 .4 .5-1.5 .5 1.1 .5 .1 .5-.7 .5-.5 .5-.1 .5 1.3 .5 0 .5-1.2 .5-.4 .5 1.9 .5-2.1 .5 1.3 .5-.7 .5-.8 .5 1.4 .5-.2 .5 1.2 .5 .6 .5-1.9 .5 .9 .5 0 .5-1.2 .5-.2 .5 1.8 .5-1.5 .5 .2 .5-.2 .5 .1 .5-.4 .5 1 .5 .4 .5-1.3 .5-.7 .5 1 .5-1.1 .5 .6 .5 1.3 .5 .8 .5-1.4 .5-1.1 .5 1.3 .5-2.3 .5 1.2 .5 1.6 .5-.6 .5-1.6 .5-.2 .5 1.8 .5-.7 .5-.4 .5 .7 .5-.7 .5-1 .5 2 .5-1.1 .5-.3 .5-.3 .5 1.2 .5-.8 .5 1 .5-.7 .5 1 .5-1.1 .5-.2 .5-1 .5 .6 .5 1.4 .5 1.7 .5-3.2 .5 .1 .5 1 .5 .1 .5-.9 .5 .6 .5-1.3 .5 1 .5 .9 .5 .5 .5-1.4 .5 0 .5 .5 .5 .5 .5-.5 .5-.9 .5 .8 .5 .4 .5-1.2 .5-.5 .5 1.4 .5-.1 .5 .4 .5-.7 .5-.5 .5 .1 .5-.4 .5 .1 .5 .2 .5 .1 .5 1.2 .5-1.7 .5 .8 .5-.4 .5 1.6 .5-.9 .5-.5 .5 .9 .5-.5 .5-.4 .5 1.5 .5-.6 .5 .8 .5-.4 .5-.3 .5-.5 .5-.9 .5 1.4 .5-.4 .5 .4 .5-.5 .5-.4 .5-.2 .5 1.2 .5 .5 .5-1.1 .5 .6 .5 .7 .5-1.6 .5 .4 .5-.6 .5 1.8 .5-.7 .5-.5 .5-.9 .5 1.2 .5 .9 .5-.9 .5-.1 .5 .9 .5-1.4 .5 1 .5 .4 .5-.9 .5 0 .5 .8 .5-.2 .5-.1 .5 .4 .5 .1 .5-.8 .5 .2 .5 .9 .5 .5 .5 .3 .5-1.6 .5 1.5 .5-.2 .5-.4 .5 .5 .5 .3 .5 .9 .5-2 .5 1.3 .5-.4 .5 .1 .5 1.2 .5-.1 .5-1.2 .5 .7 .5 .5 .5-1.1 .5 1.9 .5-.5 .5 .3 .5 .3 .5 1.2 .5-1.1 .5-.2 .5 1.7 .5-1.5 .5 .1 .5-.5 .5 1.9 .5-.5 .5 .3 .5-.1 .5-.2 .5-.4 .5 .1 .5 1 .5-.2 .5 1.2 .5-1.7 .5 .2 .5-.3 .5 1.8 .5-1.9 .5 1.6 .5 .5 .5-1.1 .5 .7 .5-2.1 .5 1.4 .5-.9 .5 1.4 .5-.1 .5-.5 .5 1.3 .5-.4 .5-.6 .5 0 .5-.6 .5 1 .5 1.7 .5-2 .5 .8 .5-.6 .5 1 .5-.2 .5-.5 .5-1.1 .5 1 .5 1.3 .5-1.1 .5 .7 .5-.8 .5-.9 .5 1.7 .5-.1 .5-.6 .5 .2 .5 .5 .5-.6 .5 .7 .5-.4 .5-1.5 .5 1.6 .5-.3 .5-.1 .5 .9 .5-.6 .5 .8 .5 .4 .5-.6 .5-1.3 .5 .7 .5 1.2 .5-.8 .5-.4 .5 .5 .5 .5 .5-.2 .5 .4 .5-1.1 .5 .4 .5 .1 .5 .2 .5-1.6 .5 1.4 .5-.7 .5 2 .5 .1 .5 .2 .5-.7 .5-.9 .5 1.1 .5-.8 .5 .6 .5-1.1 .5 .2 .5 .8 .5 1 .5-1.3 .5 1.7 .5 .4 .5-2.9 .5 .9 .5-.6 .5 .6 .5-.3 .5 .4 .5 .8 .5 0 .5-.5 .5-.2 .5 .1 .5 0 .5 .4 .5-.4 .5 .4 .5-1.3 .5 1.5 .5 .8 .5-1.2 .5-1.1 .5 2 .5-1.2 .5-1.9 .5 2 .5 .7 .5-.2 .5 .7 .5-.5 .5-.3 .5-1.5 .5 .6 .5 1 .5 .4 .5-1.3 .5 .4 .5 .8 .5-1.8 .5 0 .5 1.3 .5 .4 .5-.5 .5-1.4 .5 1.8 .5-1 .5 1.5 .5-.6 .5 .3 .5 .3 .5-.8 .5 1 .5 .3 .5-.6 .5 .7 .5-1.4 .5 1.1 .5-.4 .5-.9 .5 .6 .5-.3 .5 0 .5 .5 .5 .8 .5-1.1 .5 .4 .5-1.2 .5 1.2 .5 .8 .5-.3 .5-.2 .5-.7 .5-.3 .5 .6 .5-.9 .5 .1 .5 1.6 .5-1.4 .5 2.1 .5-2.4 .5 1.4 .5-1.2 .5 1 .5-.9 .5 .8 .5-.1 .5-.2 .5 .7 .5 .7 .5-1.5 .5 1.1 .5-.6 .5-.1 .5 1.7 .5-3.3 .5 1.2 .5-.9 .5 1.1 .5 .1 .5 3 .5-2.6 .5 1.1 .5-.3" fill="none" stroke="#ef3038" stroke-width="3.20" stroke-linejoin="round" stroke-linecap="round"/>
<path d="M925.7 320.8l.5 1.2 .5 1.5 .5-.6 .5 .6 .5 .8 .5-1 .5 1.1 .5 1.4 .5 .6 .5-.5 .5 .9 .5 .7 .5 .5 .5 1.1 .5 .1 .5 .5 .5-.7 .5 .8 .5 1.5 .5-1 .5 1.9 .5-.3 .5 .4 .5 1.5 .5-.5 .5 .3 .5 .5 .5 1 .5 2.4 .5-3.2 .5 1.9 .5 .3 .5 1.2 .5-.6 .5-1.2 .5 3.2 .5-1.4 .5 1.1 .5-.7 .5 .6 .5 .7 .5 1.3 .5 .3 .5-.7 .5 1.1 .5-.4 .5 .7 .5 .4 .5 .6 .5-.6 .5 .7 .5 .6 .5 .2 .5-.4 .5 2.2 .5-1.3 .5 1.2 .5-.1 .5 1 .5-2.2 .5 3.4 .5-1.4 .5-.5 .5 1.3 .5 1.8 .5-1.1 .5-1.1 .5 .8 .5 1.6 .5-1.9 .5 1.1 .5 .1 .5 1.9 .5-1.7 .5 1.3 .5-1.3 .5-.1 .5 1.4 .5-.2 .5-1.7 .5 1.8 .5-.1 .5-1.1 .5 .5 .5-.2 .5-.9 .5-.4 .5-.4 .5 0 .5-1.2 .5 .7 .5-1.5 .5 .9 .5-.4 .5-.9 .5 1.2 .5 .7 .5-.6 .5-2.1 .5 1.9 .5-.9 .5-.3 .5-.5 .5 .4 .5 .9 .5-.7 .5-.7 .5-.3 .5 .2 .5 .7 .5 1 .5-2.1 .5 1 .5 .1 .5 .2 .5 1.4 .5 .8 .5-.8 .5 1.1 .5 2.4 .5 .2 .5 1 .5 0 .5 .9 .5 1.4 .5 0 .5 .3 .5 1.6 .5 1.5 .5-.6 .5 2.4 .5 .7 .5-.2 .5 1.5 .5 1 .5 1.4 .5 1 .5-.5 .5 .9 .5 2.6 .5 .2 .5 1.1 .5 .8 .5 1.6 .5-1.3 .5 2.4 .5-.8 .5 1.7 .5 1 .5-1.6 .5 1.8 .5-.1 .5 .4 .5 .7 .5-.5 .5 .5 .5 1.6 .5 .5 .5-.7 .5-.3 .5 3.2 .5-.6 .5-.2 .5-.7 .5 .6 .5 .9 .5-.6 .5 2.2 .5-.8 .5 .5 .5-.8 .5 .4 .5 .3 .5 1.1 .5-.1 .5 .2 .5 .7 .5 .2 .5 1.1 .5-1 .5-.3 .5 .9 .5 1.4 .5-1.3 .5 .7 .5-.1 .5 .8 .5 .1 .5-.6 .5 .7 .5 1 .5 .4 .5 .1 .5 .1 .5-.6 .5 .2 .5 1.2 .5-1.4 .5 1.1 .5-1.1 .5 1.3 .5 0 .5-.1 .5 1.5 .5-.7 .5 .5 .5 .3 .5-.1 .5 1.8 .5-1.2 .5 .7 .5-.9 .5 .9 .5 .3 .5 .3 .5 0 .5 .7 .5 1.3 .5-1.1 .5 .2 .5 .1 .5 2.3 .5-.5 .5-.5 .5 .3 .5-.9 .5 .6 .5 .5 .5 .1 .5-.6 .5 .2 .5 1.2 .5 0 .5-1.7 .5 1.8 .5 1 .5-1.2 .5 .7 .5-1.1 .5 1.8 .5-1.3 .5 0 .5 .8 .5 2.1 .5-2.1 .5-.4 .5 1.3 .5-.1 .5 1.1 .5-2.1 .5-.2 .5 1 .5 .5 .5 0 .5 .6 .5-1.9 .5 .2 .5 0 .5 .1 .5-1.1 .5-1.6 .5-1.4 .5 .4 .5-.9 .5-.1 .5-3.8 .5-.5 .5-3.7 .5-.9 .5-.9 .5 .1 .5 .4 .5 1.7 .5 2.2 .5 1.7 .5 3 .5 1.4 .5 1.7 .5 3 .5 1.1 .5 1.7 .5 1.4 .5 1 .5 .8 .5-.7 .5 1.7 .5 .6 .5 0 .5-1 .5-.5 .5 1.1 .5 .6 .5 .8 .5-.6 .5 .2 .5 1.5 .5-1.4 .5 1.5 .5 0 .5-1.4 .5 1.3 .5-.4 .5-.2 .5-.5 .5 .4 .5 1.6 .5-.5 .5 .6 .5-.8 .5 .6 .5 .2 .5-.9 .5 .1 .5 1.6 .5-.1 .5-.7 .5 .7 .5 .6 .5 1 .5-2 .5 1.2 .5 1.2 .5-1.4 .5 1 .5-2.9 .5 3.1 .5-1.1 .5-1.3 .5 2 .5 .3 .5 .2 .5 0 .5-.8 .5-.5 .5 .2 .5 .4 .5 .4 .5-.6 .5 .4 .5 .7 .5-.4 .5 1.5 .5 0 .5-2.4 .5 .5 .5-.5 .5 .1 .5 1.4 .5-1.1 .5 0 .5 .6 .5 .8 .5-.8 .5 .1 .5 1 .5-.3 .5 0 .5 .4 .5-1.4 .5 1 .5-.6 .5 1.3 .5-.1 .5-1.4 .5 1.8 .5-1.8 .5 1.8 .5-.7 .5-.7 .5-.2 .5 .7 .5 .2 .5-.5 .5 1 .5-1.4 .5 1.1 .5 0 .5-1.4 .5 1.7 .5-1.1 .5-.9 .5 1.4 .5 .3 .5 .9 .5-1 .5 1.4 .5 0 .5-.2 .5 .2 .5-.7 .5-.7 .5 .9 .5 .3 .5-.5 .5-.4 .5-.9 .5 1.6 .5-.2 .5-1.2 .5 1 .5 .5 .5-.6 .5 .7 .5-.1 .5-1.6 .5 .9 .5 .5 .5 .3 .5 .4 .5-2.5 .5 1.3 .5 .6 .5 .3 .5 .3 .5-2 .5 .4 .5-.5 .5 1.3 .5-1.6 .5 1.8 .5-.3 .5-.4 .5-2 .5 1.1 .5 .9 .5-1.6 .5 .8 .5 0 .5 .7 .5-.5 .5-.1 .5-.5 .5 .2 .5-.1 .5 .6 .5-.8 .5 .9 .5-2.1 .5 2.1 .5-1 .5 .9 .5-.8 .5 .6 .5 .4 .5-1.5 .5 .4 .5-.1 .5 .2 .5-1.3 .5 1.1 .5-.1 .5-.4 .5 .5 .5-1 .5 2.3 .5-.7 .5 1.1 .5-2 .5-.2 .5 1.2 .5-1.4 .5 1.5 .5-.7 .5 .4 .5 .5 .5-.1 .5 1.4 .5-.8 .5-1.3 .5 1.7 .5-1.6 .5 1.2 .5-.9 .5 .4 .5 1.7 .5-1.3 .5 0 .5 .2 .5 .3 .5 1.4 .5-1.8 .5 .1 .5 1.4 .5-1.5 .5 1.1 .5 1.2 .5-.7 .5-.2 .5-.1 .5 0 .5 .3 .5 .7 .5 1 .5-.1 .5-1 .5 0 .5 1.2 .5-1.8 .5 1.2 .5 .2 .5-.5 .5 .2 .5 1.1 .5-1.3 .5 .6 .5 .4 .5 .6 .5-.9 .5 1.9 .5-.9 .5 .1 .5 .1 .5-.2 .5-.1 .5 1.7 .5-.5 .5-.1 .5 .9 .5-1.1 .5 1.1 .5-.3 .5-.5 .5 1.3 .5-1.5 .5 1.7 .5-1 .5 1.1 .5 .9 .5-.4 .5-.8 .5 .6 .5-.1 .5-.5 .5 .2 .5 1 .5 .5 .5-1.5 .5 1.3 .5 .6 .5-.2 .5-.7 .5 1.7 .5-1.6 .5 1.5 .5 .8 .5-2.6 .5 1.8 .5 .1 .5 0 .5-.6 .5 .4 .5-.7 .5 1.2 .5 .4 .5-.9 .5-.1 .5 .4 .5 .5 .5 .1 .5-.1 .5 .2 .5-.9 .5-1 .5 2.5 .5 .7 .5-2 .5 .6 .5 .8 .5 .5 .5-.1 .5 .5 .5-.9 .5 .4 .5 0 .5-.5 .5 1.2 .5-.3 .5 .3 .5-1 .5 1.1 .5-1.4 .5 1.1 .5-2.2 .5 1.3 .5 1.3 .5-.8 .5 .5 .5-1.3 .5 2.4 .5-.6 .5-.4 .5 .3 .5 0 .5 .9 .5-.9 .5-1.2 .5 1 .5 1.2 .5-.5 .5-.7 .5 .8 .5-.3 .5 .4 .5-1.6 .5 .6 .5 1.2 .5-.7 .5 .5 .5 1.2 .5-1.6 .5 .4 .5-.5 .5 0 .5 .4 .5-1 .5-.4 .5 2.6 .5-1.1 .5 1 .5-.7 .5 0 .5 .4 .5 .1 .5-1.4 .5 1.8 .5-1.5 .5 .9 .5 1.7 .5-1.8 .5 1.2 .5-1.4 .5 .7 .5-.4 .5 .3 .5-.9 .5 0 .5 1 .5-1.4 .5 .6 .5 1.1 .5-.9 .5-.2 .5-.1 .5 1 .5-.4 .5 .4 .5-.2 .5 1.5 .5-1.6 .5-1.1 .5 1.6 .5-.1 .5 .2 .5-1.3 .5 2 .5-.8 .5 0 .5-1.1 .5 1.6 .5-.4 .5 1.1 .5-1.3 .5-.6 .5 1.1 .5-.8 .5 1 .5-1.1 .5 .8 .5-.1 .5 .2 .5-.3 .5-.2 .5 .6 .5-.4 .5 .6 .5-.3 .5-1.4 .5 1.6 .5 1.1 .5-.8 .5 .2 .5 0 .5-.7 .5-.6 .5 1.6 .5 .2 .5-.4 .5 0 .5 0 .5-.3 .5 .2 .5-.2 .5 .3 .5-.9 .5 .2 .5 .9 .5-.6 .5-1.5 .5 1.8 .5-1.7 .5 3.1 .5-.9 .5 0 .5-.9 .5-.4 .5 .7 .5 .2 .5-.6 .5 .7 .5 .4 .5 0 .5-1.2 .5-.8 .5 1.6 .5-.5 .5 .8 .5 .9 .5 0 .5-1 .5 .6 .5 .4 .5-1.2 .5 .2 .5 .4 .5-.6 .5-.3 .5-.2 .5 .5 .5-.4 .5 1 .5-.8 .5 1.3 .5-.2 .5-1.8 .5 1.7 .5-1.1 .5 1.3 .5-.6 .5-.4 .5 .5 .5-.9 .5 .7 .5 0 .5-.4 .5 .4 .5-1 .5 1.1 .5-1.3 .5 1.4 .5-.2 .5 .2 .5-.9 .5 2.6 .5-2.4 .5 .3 .5-.7 .5 1.6 .5-1.4 .5 1.1 .5-1.4 .5 .9 .5-.5 .5 .9 .5-.9 .5-.4 .5 .9 .5-1.1 .5 .1 .5 1.2 .5-1.9 .5 1.9 .5-.8 .5-.4 .5 .8 .5 .3 .5-.9 .5 .3 .5 .7 .5-.1 .5-.5 .5-.6 .5-.1 .5 .2 .5 .9 .5-.1 .5-.2 .5 .8 .5-1.2 .5-.1 .5 0 .5 1.6 .5-2.8 .5 1.6 .5 .1 .5-.2 .5 1.5 .5-.8 .5-.3 .5-1.2 .5 1 .5-.6 .5 .2 .5 .1 .5-.5 .5 .8 .5 .7 .5-.4 .5-.6 .5-1.6 .5 2.2 .5-.1 .5-.9 .5-.2 .5 .8 .5-1.1 .5 1.1 .5-1.3 .5 .1 .5 .6 .5-1 .5 1 .5 .3 .5-1.3 .5 1.5 .5-1.1 .5 .8 .5-.3 .5-.6 .5-.1 .5-.9 .5 .6 .5-.1 .5 1.6 .5-.6 .5-1.8 .5 1.4 .5-.5 .5-.5 .5 .5 .5 .1 .5-1.1 .5 .1 .5 .1 .5-.9 .5 .7 .5-.3 .5-.6 .5-.2 .5 .6 .5 .3 .5-.5 .5-.9 .5 1 .5-.6 .5 .2 .5 .3 .5-1.6 .5 .5 .5-.4 .5-.3 .5 1.9 .5-.8 .5-2 .5 1.5 .5-.8 .5 1.2 .5-.8 .5-.3 .5 .2 .5 .2 .5-.3 .5-.2 .5 .1 .5 .5 .5-1.1 .5 .8 .5-.1 .5-.2 .5 1 .5-1.4 .5 .7 .5-.2 .5 1.1 .5-.7 .5 .5 .5 .4 .5-1.3 .5 1.6 .5-.8 .5 .5 .5 .3 .5 .7 .5 .1 .5 .9 .5-.9 .5-.3 .5 .1 .5 1 .5 .8 .5-.7 .5-.5 .5 .8 .5 .1 .5 0 .5-.3 .5-1.1 .5 1.5 .5 1.3 .5-.4 .5-1.5 .5 1.7 .5-1.2 .5 2.9 .5-1.1 .5-.9 .5 1.6 .5-1 .5 1.1 .5-.2 .5-.7 .5 1.4 .5-1.3 .5 2 .5-.8 .5-.6 .5-.5 .5 2.5 .5 .1 .5-1.8 .5 2.1 .5-.9 .5-.1 .5 .2 .5 0 .5 1.3 .5-.8 .5-1.2 .5 2.9 .5-.8 .5-1.2 .5 .6 .5-.2 .5 .7 .5 .4 .5 0 .5-.5 .5 0 .5 1.3 .5-.6 .5 1.8 .5-2.1 .5 1.3 .5-.5 .5-.4 .5 1.5 .5-.7 .5-.7 .5 .5 .5 1 .5-1.5 .5 1.9 .5-.4 .5-.6 .5 1.2 .5 .3 .5-.8 .5-.3 .5 1.3 .5-.3 .5-1.6 .5 .5 .5 0 .5-.1 .5-.7 .5 1.7 .5-.5 .5 0 .5 1 .5-1.4 .5 .4 .5 .3 .5-.5 .5 .3 .5 .6 .5-.5 .5 1 .5-1.4 .5 .7 .5-1.2 .5 1 .5-.4 .5 1.5 .5-.4 .5-.2 .5 1 .5-.2 .5-.5 .5-1 .5-.5 .5 1 .5-.2 .5-.1 .5 .2 .5-.9 .5 2.2 .5-1.8 .5 .4 .5 .9 .5-1.6 .5 1.9 .5 0 .5-.8 .5-.6 .5 .5 .5-1 .5 2.4 .5-1 .5-.5 .5-.1 .5 1.1 .5 .7 .5-2 .5 .5 .5-.8 .5 1.8 .5-.4 .5 1.5 .5-1.6 .5-.2 .5-.2 .5 1.1 .5-1.7 .5 1.7 .5-.4 .5-.5 .5-.2 .5 1.4 .5 .6 .5-1.7 .5 .8 .5 .8 .5-1.6 .5 .3 .5-.7 .5 .8 .5 0 .5-.2 .5-.2 .5-.6 .5 .2 .5 .3 .5 1.1 .5-.8 .5-.2 .5 1.1 .5-.1 .5-.9 .5 .1 .5 1 .5-.2 .5-.9 .5 .8 .5-.2 .5 .9 .5-1.4 .5 1.2 .5-.3 .5-1 .5 1.5 .5-.1 .5-1.6 .5 2.4 .5-2.3 .5 .2 .5 .5 .5 .7 .5-.1 .5-.5 .5 1.1 .5-.7 .5 .7 .5 1.1 .5-1.9 .5-2 .5 1.5 .5-.4 .5 .9 .5 0 .5-1 .5 .1 .5 .6 .5 .1 .5-1.7 .5 2.5 .5-.6 .5-.1 .5 .3 .5-1 .5 .7 .5 .8 .5 0 .5-.4 .5-.5 .5-.4 .5 1.5 .5-.5 .5-.7 .5-1.3 .5 1 .5-.8 .5 2.3 .5-.8 .5-.6 .5 .3 .5 2.1 .5-1 .5-1.9" fill="none" stroke="#e97a22" stroke-width="3.20" stroke-linejoin="round" stroke-linecap="round"/>
<path d="M925.7 277.3l.5-.2 .5 .3 .5 2 .5 2.2 .5 0 .5-.5 .5 .3 .5 1 .5 1.2 .5-1.2 .5 .2 .5 3.4 .5-.7 .5 1.6 .5-.5 .5 1.5 .5-1.1 .5 1.4 .5 1.3 .5 .1 .5-.6 .5 1.5 .5-.7 .5-.1 .5 1.9 .5 1.1 .5 .1 .5-1.2 .5 2.1 .5 .2 .5-.4 .5-1.1 .5 3 .5 .2 .5 .1 .5-1.3 .5 .5 .5 2.2 .5 .2 .5 0 .5-.2 .5 .7 .5-.4 .5 .4 .5-.1 .5 1.1 .5-.2 .5 1.2 .5 .1 .5-.9 .5 2.3 .5-2 .5 1.5 .5 .7 .5 .4 .5-2.4 .5 2.7 .5 .4 .5 .4 .5-2.5 .5 1.3 .5 .7 .5-.1 .5 1.6 .5-1.3 .5 1.6 .5-.3 .5-1.4 .5 .5 .5 .6 .5 .6 .5 .8 .5-.8 .5 1 .5-1.8 .5-1 .5 2.1 .5 .7 .5-.6 .5-.4 .5 1.1 .5 1.1 .5-1.5 .5-.5 .5-.2 .5 1.8 .5-1.8 .5 .1 .5-.1 .5-.6 .5-2.1 .5 .7 .5-.8 .5-1 .5-.4 .5-2 .5-.4 .5-1.2 .5 .1 .5-1.9 .5 0 .5-2 .5-.1 .5-1.2 .5-.9 .5-1 .5-1.5 .5-1.3 .5-2.7 .5 1.2 .5-2.5 .5-.8 .5-1.3 .5 .5 .5-2 .5 .5 .5-.1 .5-.2 .5-.8 .5-.9 .5-1.7 .5 1.6 .5-.2 .5-.2 .5 .2 .5 0 .5 .2 .5 2.1 .5 1.1 .5-.6 .5 2.7 .5 .8 .5 1.9 .5 .9 .5 2 .5 1.3 .5 1.3 .5 .1 .5 3.6 .5 1.6 .5 1.4 .5 3.8 .5 .8 .5 4 .5 2.9 .5 .4 .5 2.9 .5 1.3 .5 1.4 .5-.4 .5 2.4 .5 .7 .5 1.3 .5 .4 .5 1.7 .5 .2 .5 1 .5 1.3 .5-.2 .5 1.3 .5 .1 .5 .9 .5-.2 .5 1.5 .5 .9 .5-.5 .5 1.1 .5 .2 .5-.7 .5 1.5 .5 1.1 .5-.9 .5-.6 .5 1.8 .5-.2 .5 2.2 .5-1.1 .5 .3 .5-.1 .5 1 .5-.3 .5 0 .5 .9 .5-.2 .5 1.8 .5-1.5 .5 1 .5-.2 .5-.2 .5 2.5 .5-2.6 .5 2.9 .5-1.9 .5 1.4 .5 1.8 .5-3 .5 .8 .5 2.2 .5-.7 .5-.3 .5 .6 .5-.5 .5 1 .5 1.2 .5-1.1 .5 .5 .5 1 .5 .8 .5-1.7 .5 .8 .5-.4 .5 .1 .5 .4 .5 0 .5-.6 .5 0 .5 1.1 .5 .9 .5 1 .5-1.1 .5 .5 .5 .8 .5 .3 .5-.4 .5 .3 .5 1.6 .5-1.4 .5 .1 .5-.6 .5 1.7 .5-.3 .5 1.9 .5-1.5 .5 1.1 .5 .3 .5 .7 .5-2 .5 2.3 .5-.9 .5 .1 .5 0 .5 .1 .5 .2 .5-1.3 .5 2.2 .5-.2 .5-.6 .5 .8 .5 1.8 .5-1.3 .5-.5 .5 1.6 .5-1.8 .5 .5 .5-.3 .5 .2 .5 .5 .5-.6 .5-1.7 .5-.4 .5-.8 .5-1.3 .5-.7 .5-1.5 .5-1.4 .5-1.1 .5-2.6 .5-.6 .5-1.8 .5-1.3 .5 .1 .5 .7 .5 1.4 .5 1.7 .5 1.4 .5 1.3 .5 3.3 .5 1 .5 1 .5 2.3 .5 1.2 .5 .9 .5 1.2 .5 2.3 .5-.9 .5 .4 .5-.7 .5 1 .5 1.5 .5-1 .5 .7 .5 .4 .5-.2 .5 .9 .5-.8 .5 .4 .5-.6 .5 2.5 .5-1.5 .5 0 .5 1.1 .5-1.3 .5 .5 .5-.4 .5 .7 .5-.2 .5 .8 .5-.4 .5-.2 .5 .3 .5 .2 .5-.1 .5 1.1 .5-.1 .5-.3 .5-.8 .5 1.3 .5-1.2 .5 1.2 .5 0 .5-.3 .5-.1 .5 .2 .5 2.1 .5-1.5 .5 .1 .5 1 .5-.3 .5 .6 .5-1.5 .5 .2 .5 3.3 .5-2.3 .5-.1 .5 .5 .5 .7 .5-1.5 .5 1.2 .5-.1 .5 .6 .5-.3 .5-.4 .5-.1 .5-1 .5 2.6 .5-1.7 .5 .9 .5 1.6 .5-1.4 .5 .8 .5-.5 .5 .8 .5-.4 .5-.3 .5 1.4 .5-1.1 .5-.7 .5 .8 .5 .7 .5-1.1 .5 1.5 .5 0 .5 1.1 .5-1.9 .5 1 .5-1.6 .5 .9 .5 .4 .5 .3 .5-.3 .5 .1 .5-.4 .5 .2 .5 .6 .5 .2 .5 .1 .5 .3 .5 .1 .5-2.1 .5 .9 .5 .3 .5-.3 .5 1.2 .5-.2 .5-.7 .5 .2 .5 .8 .5-1.1 .5 0 .5 .8 .5-.3 .5 .7 .5-.8 .5 .3 .5-1 .5-.3 .5 .7 .5-1.9 .5 2.1 .5 .4 .5-.6 .5-.3 .5 1 .5-.9 .5 .7 .5 .9 .5-1.1 .5 .1 .5-.3 .5-.2 .5 0 .5-.2 .5 .7 .5-2 .5 1 .5 .6 .5-1.1 .5 .5 .5-.4 .5 .8 .5 .2 .5 .4 .5-.7 .5-.9 .5 .7 .5 .2 .5 .6 .5-2.6 .5 1.8 .5-1.6 .5 1.8 .5-.2 .5 0 .5 .3 .5-.4 .5-.8 .5 .7 .5 .6 .5-.9 .5 .1 .5-.9 .5 1.7 .5-1.2 .5-.2 .5 .2 .5-.3 .5 .4 .5 1.1 .5-.3 .5 .5 .5 0 .5-1.7 .5 1 .5 .8 .5 .6 .5-2.6 .5 0 .5 1.4 .5-.5 .5-.4 .5 1 .5-.8 .5-1 .5 1.7 .5 .2 .5 .4 .5 .3 .5-.5 .5-.2 .5-.2 .5-.6 .5 .9 .5 1.2 .5-.2 .5 1.1 .5-1.5 .5-1.1 .5 2 .5 .3 .5-1.5 .5-.2 .5 1.3 .5 .5 .5-1.2 .5 .7 .5-.2 .5-.2 .5 0 .5 1.2 .5-.3 .5-.1 .5-1.2 .5 3.2 .5-1.8 .5 .7 .5-.6 .5 1.2 .5-1.3 .5 1.3 .5-.1 .5 .9 .5-1.3 .5 .4 .5 .4 .5 1.8 .5-2.5 .5 1.4 .5-.6 .5 .8 .5 .3 .5-.2 .5 .2 .5 .1 .5-.6 .5 .4 .5-.9 .5 1 .5-.2 .5 .5 .5 .8 .5-.1 .5 .1 .5 .6 .5-2.4 .5 2.1 .5-.2 .5 .1 .5-.8 .5 1.5 .5 .5 .5 0 .5-.7 .5 .7 .5 .3 .5 .7 .5-.3 .5-.6 .5 0 .5 .2 .5 .1 .5-.4 .5 1 .5-.9 .5 0 .5 .9 .5-.5 .5 .3 .5-1.2 .5 2.1 .5-.5 .5 0 .5 .5 .5-.1 .5-.5 .5 2 .5-1.7 .5 1.1 .5 .7 .5-1.6 .5 .6 .5-.6 .5 1.4 .5-.9 .5-.4 .5 1.8 .5-.2 .5-1.2 .5 1.6 .5-.7 .5 1.9 .5-.6 .5-1.5 .5 .3 .5-.4 .5 .8 .5 0 .5 .6 .5-.4 .5-1 .5 .5 .5 1.7 .5-.1 .5-.8 .5 .1 .5 0 .5 .2 .5-1.1 .5 1.9 .5-1 .5 .6 .5-1.8 .5 2 .5 .9 .5-2.5 .5 2.8 .5-.7 .5-.8 .5-.5 .5 2 .5-.6 .5 .3 .5-.5 .5-.3 .5 1.2 .5-1.2 .5 1.4 .5-1.8 .5 .6 .5-.4 .5 2.1 .5-2.2 .5 .5 .5 1.4 .5-.3 .5 1.5 .5-.2 .5-.8 .5 .1 .5-1.8 .5 .7 .5 .5 .5 .1 .5-.8 .5 .4 .5 .1 .5 1.4 .5-.4 .5-.5 .5 0 .5 .5 .5-.7 .5 .4 .5-1 .5 1.7 .5 .3 .5-.4 .5 .1 .5 0 .5 1.2 .5-1.3 .5-1 .5 .2 .5 1.3 .5 .3 .5-.2 .5 .1 .5-.4 .5-1.2 .5 .6 .5-.7 .5 1.1 .5-.7 .5 1.1 .5-.2 .5-1.2 .5 2 .5 0 .5-1.5 .5 1.1 .5 .5 .5-.7 .5 .9 .5-.5 .5 .7 .5-.6 .5-.2 .5 .5 .5 .2 .5-.3 .5-.5 .5-.2 .5 .3 .5-.1 .5 .6 .5 0 .5-.1 .5 .1 .5 .1 .5 1.1 .5-.3 .5-1.2 .5 .7 .5-.5 .5 .2 .5-.1 .5-.2 .5-.5 .5-.8 .5 2 .5 .7 .5-1.5 .5 1 .5-.6 .5 .5 .5-.7 .5 .4 .5 .1 .5-1.6 .5 1.9 .5-.2 .5-1.7 .5 2.3 .5-.5 .5 .2 .5 .1 .5-.5 .5-.5 .5 .5 .5 0 .5 1.9 .5-.2 .5-1.7 .5 .1 .5 .5 .5 .2 .5-.9 .5-.2 .5 2.1 .5-.6 .5-1.9 .5-.1 .5 .7 .5 .7 .5 .3 .5-.7 .5-.9 .5 1.3 .5 .3 .5-.4 .5-.4 .5 .8 .5-.5 .5-.7 .5 .8 .5-1 .5 1.7 .5-.4 .5-1.1 .5 .9 .5 .8 .5-2.5 .5 1.4 .5 1.3 .5-2.3 .5 1 .5-.9 .5 1 .5-1.8 .5 .6 .5 .8 .5 .5 .5 .1 .5 .1 .5 .5 .5-.4 .5 .1 .5-1.3 .5 .6 .5 2.4 .5-.7 .5-1 .5-.1 .5 .2 .5-1.1 .5 1.7 .5-1.7 .5 .2 .5 1.7 .5-3.2 .5 1.8 .5-1.6 .5 .8 .5 .4 .5-.2 .5 .4 .5-.7 .5 .4 .5-.8 .5 .6 .5-.8 .5 1.5 .5-1.5 .5 1.5 .5-.8 .5 0 .5 1.1 .5-.8 .5-1.5 .5 1.7 .5-2.5 .5 2.3 .5-.5 .5-.8 .5 1.1 .5-.3 .5 1.7 .5-1.9 .5 1.8 .5-.5 .5-1.5 .5-.2 .5 1.6 .5-1.1 .5 .2 .5-.3 .5-.8 .5 .6 .5-.5 .5-.4 .5 .9 .5 1.5 .5-.2 .5-1.2 .5 .1 .5 .2 .5 .6 .5-.8 .5-.6 .5 0 .5 1.1 .5 1.1 .5-2.4 .5-1.1 .5 2.1 .5-.7 .5 .1 .5 .8 .5-.9 .5-1.1 .5-.5 .5 1.4 .5-.8 .5 1 .5-1.2 .5 .7 .5-.9 .5 .8 .5-.1 .5 .7 .5 .6 .5-1.2 .5-.6 .5 2.1 .5-1.3 .5 .1 .5 0 .5 .5 .5-.4 .5-.3 .5 0 .5-1.3 .5 .1 .5 .3 .5 0 .5-.1 .5 .1 .5-.3 .5-.5 .5-1 .5 1.8 .5-.3 .5-1.2 .5 .9 .5-.2 .5-.3 .5-1.5 .5 .3 .5 .4 .5 1.6 .5-2 .5 .3 .5-.7 .5 .4 .5 .6 .5-1.9 .5-.7 .5 2.6 .5-.5 .5-.6 .5 1.1 .5 0 .5-2.4 .5 1.5 .5 .9 .5-1.4 .5 .3 .5 .9 .5-.9 .5-.7 .5 .4 .5-.4 .5 1.5 .5-1.6 .5 2.2 .5-1.8 .5 1.4 .5-.9 .5 1.1 .5 1.2 .5 .3 .5 .4 .5-.8 .5 .4 .5 .4 .5 .6 .5-.5 .5 1.4 .5-.3 .5 1 .5-.3 .5 .5 .5-.8 .5 .5 .5-.4 .5 1 .5 .4 .5 .9 .5-1.3 .5 3.6 .5-2.4 .5 1.2 .5 0 .5-2.6 .5 1.8 .5 1.5 .5-2.9 .5 2.5 .5-1.1 .5 .4 .5 .7 .5-1.5 .5 1.6 .5-.5 .5 0 .5 1.2 .5 2.2 .5-2.2 .5 .2 .5-.3 .5-.5 .5 .9 .5 1 .5-.9 .5 .6 .5-.7 .5 2.1 .5-3 .5 1.7 .5 .1 .5-.2 .5-.9 .5 0 .5 .8 .5 .3 .5-.9 .5 .2 .5 1.3 .5 .4 .5-1.1 .5-.1 .5 .1 .5 2.4 .5-1.4 .5-.3 .5 .8 .5 1 .5-.7 .5-1.9 .5 1 .5-.2 .5 .1 .5-.6 .5 .7 .5-.5 .5 1.1 .5-.2 .5-1 .5-.2 .5 1 .5 .8 .5-.1 .5-.3 .5-2.4 .5 2.1 .5-.2 .5 .4 .5-.7 .5 .6 .5-.1 .5 2.5 .5-1.4 .5-.7 .5 .1 .5 0 .5 .3 .5-.5 .5 .4 .5 .8 .5-.2 .5-.3 .5 .8 .5-.8 .5-.9 .5-.6 .5 .8 .5 .5 .5 .4 .5 .5 .5-1.2 .5-.1 .5 1.2 .5 .3 .5-1.2 .5 .6 .5 .8 .5-.8 .5-.2 .5-1.5 .5 2.5 .5-.5 .5-.3 .5-.4 .5-.6 .5 .9 .5 0 .5 .9 .5-1.7 .5 2 .5-1 .5 .8 .5-1.6 .5 1 .5 .7 .5-.8 .5-1.2 .5 .9 .5 .7 .5-1.5 .5 0 .5 1.3 .5-.9 .5 1.3 .5-1.4 .5-.5 .5 .8 .5 1.7 .5-1.7 .5 .6 .5 .2 .5-.8 .5 1.5 .5-.7 .5 .3 .5-1.6 .5-.1 .5-.7 .5 1.9 .5 0 .5 .7 .5 .6 .5-1.3 .5 0 .5 .6 .5 .8 .5-1.8 .5 1.1 .5-.6 .5-.1 .5 .9 .5-1.2 .5-.2 .5 1.3 .5-.5 .5-.1 .5 .1 .5 .5 .5-.7 .5 .9 .5-.3 .5 .8 .5-.1 .5-.3 .5-.8 .5 .2 .5-.5 .5 2.6 .5-2.3 .5 .6 .5 .6 .5-2 .5 .4 .5 .3 .5-.4 .5-.2 .5 .5 .5 1.4 .5-.4 .5-.5 .5 0 .5-1.3 .5 1.8 .5-.2 .5-1.2 .5 1 .5-.3 .5-.2 .5-.4 .5 .3 .5-.2 .5 1 .5-.1 .5 0 .5-.4 .5-.1 .5 1.8 .5-2.9 .5 2.3" fill="none" stroke="#fcc22a" stroke-width="3.20" stroke-linejoin="round" stroke-linecap="round"/>
<path d="M925.7 229.7l.5 .4 .5 .1 .5 .8 .5-.2 .5 .4 .5 1.6 .5-.7 .5 2.5 .5 .7 .5-2.9 .5 2 .5 1.9 .5 .4 .5 .5 .5 .7 .5 .8 .5 .6 .5 1.1 .5-.8 .5 1.1 .5-1.4 .5 1.6 .5-.3 .5 2.4 .5 1.1 .5-.9 .5-1 .5 1.4 .5 .5 .5 .5 .5 1.1 .5 .2 .5-2.3 .5 3.4 .5-1.1 .5 .3 .5 1.9 .5-1 .5-.5 .5 .4 .5 1.3 .5 .9 .5 .7 .5-1 .5 .1 .5 1.8 .5-1.3 .5 1.7 .5-.6 .5 .3 .5-.1 .5 .6 .5-.3 .5 .1 .5 .7 .5-.1 .5 1 .5 .1 .5 0 .5 .3 .5 .2 .5 1.7 .5-1.1 .5-.2 .5 .5 .5 .9 .5-.4 .5 .3 .5 .1 .5 .5 .5 .4 .5 .2 .5-1.3 .5 .6 .5-1 .5 2.7 .5 .4 .5 .3 .5-.7 .5 .9 .5-.8 .5 .1 .5-1 .5 .7 .5 .2 .5 1.3 .5 .6 .5-1.5 .5 .6 .5 0 .5-.7 .5-.7 .5 .7 .5-.5 .5 .7 .5-.1 .5-.4 .5-.5 .5 0 .5-1.8 .5 .7 .5-2.7 .5 .4 .5-.6 .5-1.8 .5-1.5 .5 .7 .5-1.9 .5 .2 .5-.9 .5-1.4 .5-.9 .5-.4 .5-1.7 .5-2.3 .5-.5 .5-1.1 .5-1.7 .5-1.4 .5-1.6 .5-1.2 .5-1.7 .5-1.4 .5 1.1 .5-2 .5 .3 .5-1.4 .5 1.4 .5 0 .5 3.8 .5-1.6 .5 1.6 .5 3.2 .5 2 .5-.4 .5 3.8 .5 2.4 .5 .3 .5 3.2 .5 1.1 .5 1.9 .5 2.8 .5 2.3 .5 1.7 .5 5 .5 .1 .5 1.6 .5 2.7 .5 .4 .5 1.9 .5-.4 .5 1.3 .5 .5 .5 .7 .5 .4 .5 .7 .5 1.9 .5-1.2 .5 .6 .5 .6 .5 1.2 .5 .3 .5 .8 .5-1.3 .5 1.6 .5 .1 .5 .3 .5 .7 .5-1.3 .5 2.1 .5 .2 .5-.8 .5 1.3 .5 1.6 .5-1.1 .5 1.1 .5-.2 .5-.1 .5 .3 .5 .7 .5 1.6 .5 0 .5-.8 .5 1.6 .5-.5 .5-.1 .5 1.2 .5-.7 .5-.2 .5 2.5 .5-2 .5 2 .5-1.2 .5 1.4 .5 .2 .5 .1 .5-1.1 .5 1.9 .5 .3 .5-.4 .5 .9 .5 1 .5-1 .5 1 .5-.8 .5 1.4 .5 .4 .5 1.6 .5-1 .5-.1 .5 .9 .5-1.6 .5 1.7 .5-1 .5 .2 .5 1.4 .5-.5 .5 1 .5-1.9 .5 1.4 .5-.4 .5 .4 .5-1.1 .5 2.3 .5-.4 .5-.7 .5-.1 .5 .5 .5 1.8 .5-.9 .5 0 .5 .7 .5-.2 .5 .3 .5 .5 .5-.1 .5 .5 .5-1.4 .5 1 .5-.2 .5 .5 .5 0 .5-.4 .5 .3 .5 1.1 .5-1.1 .5-.4 .5 1.4 .5 .3 .5-.9 .5 .4 .5-.7 .5 .4 .5 1 .5-.4 .5-.8 .5-.8 .5-1.6 .5 .8 .5-.6 .5-.3 .5 0 .5-2 .5-.3 .5-2.5 .5 .4 .5-1.6 .5-.9 .5-1.7 .5-1.2 .5 .2 .5-1.8 .5 1.5 .5 1.5 .5 .1 .5 1.5 .5 3 .5 1.4 .5 1.7 .5 1.4 .5 .4 .5 2.2 .5 1.8 .5-.1 .5 .8 .5-.4 .5 1.7 .5 1.1 .5-2.2 .5 1.8 .5 .3 .5-.8 .5 .3 .5-.3 .5 .4 .5 .9 .5 .5 .5-.2 .5 .7 .5-.3 .5-.9 .5 2.1 .5-.1 .5-1.2 .5 1.9 .5-.8 .5-.1 .5 1.4 .5-3.2 .5 .8 .5 1.8 .5-.6 .5-.4 .5 1.9 .5-.7 .5-1.2 .5 .5 .5 1.2 .5 .8 .5-2.7 .5 1.7 .5-.4 .5-1 .5 1.3 .5-1 .5 .8 .5 1.7 .5-.8 .5 .3 .5-.1 .5-.1 .5 .5 .5-1.5 .5 .6 .5 1 .5-1.1 .5 .2 .5 1.3 .5 .3 .5-1.5 .5-.1 .5 1.1 .5-.1 .5-.6 .5 1 .5 0 .5-.3 .5 2.2 .5-1.1 .5-.3 .5 .2 .5 1.5 .5-1.3 .5-1.3 .5 .9 .5-.1 .5-.4 .5 .6 .5 .1 .5-.2 .5-.2 .5 1 .5-1.7 .5 1.9 .5-.6 .5 .3 .5-1.9 .5 3 .5-2.4 .5 .7 .5 1.2 .5-.9 .5 .2 .5-1.3 .5 1.4 .5 .5 .5 .4 .5-.6 .5 .4 .5 .2 .5-.8 .5 0 .5 2.1 .5-2.1 .5 1.6 .5-.8 .5 1.1 .5-1.6 .5 .9 .5-.1 .5-.4 .5 .5 .5-.8 .5 .5 .5-.2 .5 .9 .5-.6 .5-.9 .5 .7 .5 .2 .5-.5 .5 1.6 .5-.7 .5 .4 .5-1.2 .5 .2 .5 1.1 .5-1.9 .5 1.3 .5-.2 .5-.5 .5 .4 .5-.9 .5 .9 .5-1.2 .5-.1 .5 1.9 .5-1.6 .5-1.1 .5 2.1 .5-1.3 .5-2.2 .5 2.5 .5 .6 .5-.5 .5 .9 .5-1.4 .5 .4 .5-1.3 .5 .8 .5 .9 .5-.9 .5-.3 .5-1.7 .5 1.1 .5-.7 .5 1.4 .5-1.2 .5 .8 .5-1.1 .5 2.1 .5-2.3 .5 .9 .5 1.8 .5-1.8 .5-.8 .5 1.1 .5 .3 .5-.1 .5-2.1 .5 1.6 .5-1.7 .5 3 .5-1.3 .5-.4 .5 .9 .5-.1 .5-1.2 .5 2.2 .5-1.4 .5-1 .5 2.4 .5 .2 .5-.2 .5-.4 .5-1 .5 1.4 .5 .8 .5-.7 .5 .7 .5-1.7 .5 1.4 .5 .1 .5-1.7 .5 0 .5 .8 .5 .7 .5 .4 .5-.4 .5 .2 .5 .1 .5 .3 .5 .4 .5 .1 .5-.3 .5 .4 .5-.4 .5 1 .5-.8 .5 1.7 .5-1.1 .5 .3 .5-.6 .5 .4 .5 .5 .5 0 .5-.3 .5-.3 .5 1 .5 .2 .5 .4 .5 .7 .5-1.1 .5-1.1 .5 1.5 .5-1.1 .5 .5 .5 1.8 .5-.2 .5-.8 .5 .1 .5 .5 .5-1.1 .5 1.8 .5-.5 .5 1.7 .5-2 .5 1.7 .5-1.2 .5 1.4 .5-1.3 .5 1.4 .5-.8 .5-.1 .5 .6 .5 .6 .5 .1 .5 1 .5-.4 .5-2.5 .5 1.8 .5-1.1 .5 1.4 .5 .9 .5-1.4 .5 .3 .5 1.1 .5-.2 .5 1.5 .5-.8 .5 .3 .5 1 .5-1.6 .5 .5 .5-.6 .5 1 .5 .7 .5 .3 .5-.9 .5-.5 .5 .1 .5-.4 .5 1.2 .5 1 .5-2.7 .5 .3 .5 2.7 .5-2.1 .5 1.5 .5-1.1 .5 1.6 .5 .1 .5-.4 .5 .6 .5-.5 .5 .5 .5 1 .5-.5 .5-1.2 .5 0 .5 .5 .5 .1 .5 .3 .5-.5 .5 1.1 .5-.4 .5 .3 .5-.2 .5 .5 .5-1.3 .5 2.2 .5-.8 .5 .1 .5 .2 .5 .4 .5-.2 .5-.3 .5-.2 .5-1 .5 1.4 .5-.3 .5 0 .5 2.1 .5-3.1 .5 1.5 .5 .9 .5-.1 .5 .3 .5-1.8 .5 .3 .5 1.2 .5-.6 .5 1.5 .5-1 .5 0 .5 .2 .5-.4 .5 .3 .5-.6 .5 .6 .5-.3 .5 .6 .5-1.2 .5 0 .5 1.5 .5-.2 .5-.8 .5 .6 .5-.6 .5 2.4 .5-2.7 .5 2.5 .5-1.9 .5 1 .5-.5 .5-.1 .5 1.1 .5-.1 .5-.8 .5-.4 .5 2.3 .5-.5 .5-.9 .5-.3 .5 .5 .5-.2 .5 .9 .5-1.6 .5 .8 .5-.6 .5 1.6 .5 .4 .5-1.4 .5 .5 .5 .7 .5-1.2 .5-.5 .5 1.5 .5-.3 .5-.5 .5 1.2 .5-.8 .5-1.5 .5 1.6 .5-.3 .5 1.5 .5-1.4 .5-.1 .5 .5 .5-.1 .5-1.2 .5 1.2 .5-.3 .5 1.3 .5 .8 .5-2.7 .5 .2 .5 .1 .5 .2 .5 0 .5 .6 .5 .8 .5-1.8 .5-.2 .5-.2 .5 2.3 .5 .2 .5-2.2 .5 0 .5 1.3 .5 .8 .5-.1 .5-.5 .5 .3 .5-.2 .5-.6 .5 1.8 .5-1.4 .5-.8 .5 .5 .5-.8 .5 1.2 .5 .8 .5-1.7 .5 1.8 .5 .7 .5-1.2 .5-1.2 .5 .3 .5 .4 .5-.7 .5 0 .5 .8 .5 .1 .5 .6 .5-1.4 .5 2.3 .5-.6 .5-.1 .5-1.1 .5 1.8 .5-1.6 .5 1.7 .5-.6 .5-1.5 .5 .4 .5 1.7 .5-.6 .5-.9 .5 .3 .5 0 .5-.7 .5 .4 .5-.3 .5 .1 .5 .7 .5-1.1 .5 1.3 .5-.4 .5 .4 .5 .1 .5 .3 .5-.5 .5 .1 .5-.7 .5 .6 .5-1.1 .5 .5 .5 .7 .5-.6 .5 .4 .5-1.1 .5 1.8 .5-1.5 .5 .8 .5-.4 .5 .8 .5-1 .5-.5 .5-.7 .5 1.2 .5-.7 .5 1.3 .5 .7 .5-2.7 .5 .7 .5 1.2 .5 .6 .5-.7 .5 .1 .5 .1 .5 0 .5 .8 .5-.7 .5-1.4 .5 .5 .5 .5 .5-.7 .5 .4 .5-.2 .5-.2 .5 1.1 .5-.9 .5-.5 .5 .3 .5 .5 .5 1.6 .5-1.4 .5 .9 .5-.7 .5-2 .5 1.9 .5-1 .5-.4 .5 .2 .5 2.2 .5-2.6 .5 .8 .5 1.3 .5-.4 .5-1.8 .5 1.2 .5-.3 .5 .2 .5 .7 .5-1 .5 .2 .5 1.3 .5-2.5 .5 1.1 .5 .6 .5-1.3 .5 .5 .5-.6 .5 1.1 .5-.6 .5 1.1 .5 .2 .5-.8 .5-.3 .5 .4 .5-.1 .5-1 .5 1.7 .5-.7 .5 .5 .5-1.7 .5 1.7 .5 .9 .5-1.1 .5-1.6 .5 1.1 .5-.1 .5 .2 .5-.4 .5 .6 .5-.8 .5 .5 .5-.7 .5 .6 .5 .6 .5-1.1 .5 .8 .5-1.2 .5 .3 .5 0 .5 1 .5-1.7 .5 1.4 .5-2.3 .5 .8 .5 .6 .5-.4 .5-1.5 .5-.4 .5 1.3 .5-1.9 .5 1.1 .5-1.2 .5 .1 .5 1.5 .5-.9 .5-.9 .5-2 .5 .9 .5-.5 .5-.5 .5 .7 .5-2.6 .5 1.2 .5-.5 .5-1.1 .5 1.5 .5-2.8 .5 .5 .5-.5 .5-2.3 .5 0 .5-.3 .5 .7 .5-.4 .5-.9 .5-.9 .5-2.4 .5 1.3 .5-1 .5 .8 .5-.3 .5 .3 .5-1.5 .5-.3 .5-1.8 .5 .5 .5-1.3 .5 1.3 .5-1.9 .5 .5 .5-.6 .5 .1 .5 .7 .5-.7 .5 .7 .5-.8 .5 2.1 .5-1.3 .5 1.6 .5 1.2 .5-3.1 .5 1.6 .5 1 .5 1.6 .5-.8 .5 1.2 .5-.4 .5 1.5 .5-.8 .5 2 .5-2.4 .5 1.3 .5 3.3 .5-.7 .5-.2 .5 3 .5-.2 .5 .7 .5-.5 .5 1.5 .5 .6 .5-1 .5 2.5 .5 0 .5 1.8 .5 .7 .5-.9 .5 .6 .5 1.1 .5 .8 .5-.3 .5 .6 .5 .8 .5 .2 .5 .8 .5-.4 .5-.6 .5-.5 .5 2.3 .5-.7 .5 .3 .5 .3 .5-.8 .5 1.1 .5-1.4 .5 1.9 .5-.2 .5 2.3 .5-.9 .5-.3 .5 .5 .5 .6 .5-1 .5 .6 .5 .1 .5 2.3 .5-1.7 .5-1.5 .5 2.3 .5 1.5 .5-2.6 .5 3.5 .5-2.6 .5 .9 .5-1.1 .5 .3 .5-.7 .5 .2 .5-.8 .5 2.6 .5-1.8 .5 1.3 .5 0 .5-.7 .5 .5 .5 0 .5-.3 .5 .5 .5 0 .5-.8 .5-.2 .5 .4 .5 .8 .5 1 .5 .1 .5-.8 .5 .5 .5-.6 .5 .8 .5-.7 .5 .2 .5-.5 .5 .3 .5 1.5 .5-2.4 .5 1 .5-.4 .5 1.2 .5 .7 .5-1.6 .5-1.9 .5 2.7 .5 0 .5-1.7 .5 1.1 .5 .2 .5-1.7 .5 2.3 .5-.1 .5-.2 .5-.9 .5 .3 .5 0 .5 .9 .5-1.1 .5 2 .5-.9 .5-1.9 .5 3 .5-1.1 .5-.6 .5 .6 .5-1.5 .5 1.6 .5-2 .5 1.1 .5 1.9 .5-.1 .5-1.2 .5-.5 .5 1.5 .5-.7 .5 .2 .5 .4 .5-1.3 .5 1.4 .5-2.2 .5 2.8 .5-2.3 .5 .7 .5 0 .5 1.1 .5 .1 .5-.3 .5 .1 .5 0 .5-.4 .5-1.4 .5-.3 .5 0 .5 1.8 .5-.1 .5 .1 .5 .3 .5-.4 .5-.6 .5-.3 .5-.3 .5 2.4 .5-.2 .5-1.8 .5 .9 .5 .6 .5 .9 .5-1.7 .5 .6 .5 .8 .5-2.3 .5 .8 .5 .6 .5-.5 .5 2.2 .5-1 .5-.5 .5-.9 .5 1.5 .5-.2 .5-.9 .5 .1 .5-.8 .5 1.1 .5 .7 .5 .1 .5-.3 .5 .2 .5-1.1 .5 .1 .5 1.3 .5-.5 .5-1 .5 1 .5 .3 .5-.1 .5-.5 .5-.5 .5 .8 .5 1 .5-1.2 .5-.7 .5 .8 .5-1.2 .5 1.2 .5-.4 .5 .9 .5-.6 .5 .7 .5 1 .5-2 .5-.4 .5 1 .5-.5 .5 .2 .5-.6 .5 .9 .5-.3 .5-1.8 .5 1.5 .5 .5 .5 .6 .5-1.3" fill="none" stroke="#2db462" stroke-width="3.20" stroke-linejoin="round" stroke-linecap="round"/>
<path d="M925.7 173.5l.5 2.1 .5-.8 .5 1.2 .5 .8 .5 .8 .5 0 .5-.3 .5 2.2 .5-.5 .5 .5 .5 2.5 .5-.3 .5-1 .5 1 .5 .7 .5 .1 .5-.4 .5 2.7 .5 .4 .5 .1 .5 0 .5 1 .5 .8 .5-.9 .5 1 .5 .3 .5 1.4 .5 .1 .5-.8 .5 .9 .5 2.3 .5-1.8 .5 1.3 .5-.3 .5 1.8 .5-.6 .5 0 .5-.2 .5 1.1 .5 1.2 .5 .2 .5-1.2 .5 2.6 .5-1 .5-.3 .5 1.3 .5-.2 .5 .4 .5 .3 .5 .8 .5 0 .5-.6 .5 2.1 .5-.5 .5 1.7 .5-.2 .5 .4 .5 0 .5 1.2 .5-.9 .5-.2 .5 1.3 .5-2 .5 2.1 .5 .7 .5-.2 .5 1.6 .5-.1 .5-.2 .5-.2 .5 1.5 .5-1.2 .5 .5 .5 1.1 .5 .1 .5 1.3 .5-1.5 .5-1.1 .5 2.1 .5 .7 .5-1 .5 1.5 .5 .3 .5-1.7 .5 .2 .5-.5 .5 1.5 .5 .2 .5 0 .5-1.3 .5 .4 .5-.5 .5-.1 .5 .2 .5-.3 .5 1 .5 .3 .5-.1 .5-.7 .5-.8 .5 .1 .5 .1 .5-1.1 .5-.2 .5-.8 .5-.7 .5-.2 .5-1.4 .5 1 .5-2.7 .5 .9 .5-2.4 .5 .8 .5-2.2 .5-3.3 .5-1.7 .5-2.7 .5-1.2 .5-1.5 .5 .1 .5-4.4 .5 .8 .5-2.8 .5-.6 .5-.8 .5-1.3 .5-1 .5-1.2 .5-.3 .5 0 .5 1.2 .5-1.2 .5 1.9 .5 .8 .5 1.8 .5 1.7 .5 3.1 .5 2.7 .5 1.6 .5 .4 .5 3.5 .5 1.4 .5 3.6 .5 3 .5 2.1 .5 2.9 .5 1.8 .5 1 .5 2.2 .5 3.3 .5 1.8 .5 1.5 .5-.3 .5 1.2 .5 .9 .5 1.4 .5-.2 .5-.1 .5 2.3 .5 0 .5 .6 .5-.8 .5 1.5 .5-.9 .5 .3 .5 1.7 .5 .3 .5 1.2 .5 1 .5-.7 .5 1.7 .5-1.4 .5 1.4 .5-1.2 .5 1.4 .5 .1 .5 .4 .5 1 .5-1.5 .5 1.8 .5-.3 .5 1 .5 .6 .5-.3 .5 .3 .5-.2 .5 1.6 .5-.6 .5 1.1 .5-1.1 .5 2.4 .5-1.5 .5 1.9 .5-.9 .5 1 .5-.3 .5 .9 .5-.2 .5 1.2 .5-.2 .5 .2 .5 1 .5-1.6 .5 1.8 .5-.7 .5-1 .5 1.7 .5-.3 .5 1.6 .5-1.4 .5 .6 .5 .3 .5-1.5 .5 2.1 .5-1 .5 2 .5 .4 .5-1.1 .5-1 .5 1.5 .5 .2 .5 .6 .5-.6 .5-.5 .5 1 .5-.5 .5 2.3 .5-1.7 .5 .2 .5 .6 .5-.7 .5 .7 .5 .4 .5-.1 .5 .3 .5 1.3 .5-.5 .5-1.2 .5 .8 .5 1 .5-.9 .5 .6 .5 .1 .5 .5 .5-.5 .5 .1 .5-.5 .5 1 .5-.9 .5 2.1 .5-1.3 .5-.2 .5 .8 .5-.7 .5 0 .5-.4 .5-1 .5-.6 .5-.5 .5 .8 .5-2.1 .5-.5 .5-.8 .5 .1 .5-.1 .5-3.7 .5-.4 .5-1.9 .5-1.8 .5-.6 .5-2.1 .5 1.5 .5 0 .5 .3 .5 3.6 .5 1.3 .5 2.1 .5-.3 .5 2.2 .5 1.1 .5 2.3 .5 1.8 .5-1.3 .5 2.4 .5 .6 .5 1.3 .5-.4 .5-.6 .5 1.1 .5-.3 .5 .5 .5 .9 .5-.2 .5 .9 .5-1.2 .5 3.2 .5-.6 .5-.2 .5-1.4 .5-.5 .5 1.2 .5 .7 .5 2 .5-.6 .5-1.2 .5 1.4 .5 .2 .5-.8 .5 1 .5-.5 .5-.7 .5-.3 .5 1 .5 .9 .5-1.7 .5 0 .5 1.7 .5-2.4 .5 3.6 .5-1.6 .5 1 .5 1 .5-2.4 .5 .4 .5 2.7 .5-1.8 .5 .2 .5 .4 .5 .7 .5 .4 .5-.8 .5-.3 .5 .4 .5 .4 .5 .8 .5-.7 .5 1.4 .5-2 .5 1.2 .5 1.1 .5-.3 .5-.6 .5-.8 .5 .2 .5 .5 .5 .5 .5-.3 .5-.9 .5 .7 .5 1.1 .5 .3 .5-1.6 .5 .9 .5-.9 .5 .9 .5 3.2 .5-2.6 .5-.2 .5-.1 .5-.4 .5-.4 .5 1.4 .5-.1 .5 1.5 .5-2.4 .5 1.7 .5 .7 .5-2.4 .5 2 .5-1.7 .5 1.7 .5 .8 .5-1.1 .5 .3 .5-.8 .5 .8 .5 .7 .5-1 .5 .1 .5 .4 .5 .3 .5-1.9 .5 1.3 .5-.5 .5 .9 .5 .4 .5-.6 .5 .8 .5-1.8 .5 .5 .5-.5 .5 .8 .5 .1 .5-.3 .5-.7 .5 .8 .5-.2 .5 .8 .5-.7 .5 1.1 .5-.7 .5-1.6 .5 1.3 .5-1 .5 1.8 .5 .4 .5-1.1 .5 .3 .5-1.4 .5-.6 .5 1.3 .5 .2 .5-1 .5 1.3 .5 .1 .5 .3 .5 .7 .5-.6 .5-.9 .5 .4 .5 .4 .5-1.3 .5 1.8 .5-.3 .5-.9 .5-.3 .5 3.4 .5-2.3 .5 .1 .5 .7 .5-.6 .5-.6 .5 .3 .5-1.2 .5 1.3 .5-1.8 .5 1.5 .5 .1 .5-1.6 .5 2.7 .5-2.4 .5 1.7 .5-1.2 .5 .6 .5-.7 .5 2.4 .5-1.1 .5 .6 .5-.8 .5 0 .5-.4 .5-.3 .5 .7 .5-.4 .5-.2 .5-.9 .5 .9 .5 .7 .5-.7 .5 .6 .5-.3 .5-.6 .5 .1 .5 .2 .5 .5 .5 0 .5 1.2 .5-1.6 .5-.7 .5 2.2 .5-.8 .5 .3 .5 2.2 .5-.8 .5-.5 .5 .3 .5-.5 .5 .7 .5-1.1 .5 0 .5 .3 .5 1.7 .5 .1 .5-1.6 .5 1.5 .5-.9 .5 1.1 .5-1 .5 1.1 .5-.7 .5 0 .5 .3 .5 .2 .5-.4 .5-.5 .5 2.4 .5-1.5 .5-.9 .5-.3 .5-.3 .5 1.8 .5 1.6 .5-2.2 .5 1.1 .5-1 .5 2.4 .5-.5 .5 .1 .5 .8 .5 .4 .5-.4 .5-1.2 .5-.4 .5 .3 .5-.5 .5 2.9 .5-1.5 .5 .4 .5 .1 .5 1.6 .5-1.9 .5 1.4 .5-.5 .5-.3 .5-1.2 .5 2.3 .5-1.2 .5 .3 .5 .7 .5 0 .5 .9 .5-1.3 .5 .7 .5 .2 .5 0 .5 .6 .5-.6 .5 1.2 .5-1.4 .5-.5 .5 1.2 .5 1.1 .5-1.3 .5 .1 .5 .3 .5 .4 .5-.1 .5 .4 .5-1.5 .5 2.6 .5-.6 .5-1.1 .5 1.8 .5-.6 .5 .9 .5-2 .5 2.3 .5-1.2 .5-1.5 .5 2.2 .5-.7 .5-.5 .5 .7 .5-1.3 .5 2 .5-.5 .5 0 .5 1.4 .5-1 .5-.5 .5-.1 .5 .8 .5 .9 .5-1.2 .5-.3 .5 1.6 .5-.6 .5 0 .5 1.7 .5-2.5 .5 1.2 .5-1.5 .5 1.2 .5 .8 .5 .4 .5-1.7 .5 1.6 .5 .1 .5-.7 .5 2.1 .5-1.9 .5-.6 .5 1.1 .5-1.7 .5 2.7 .5-.4 .5-1 .5 .8 .5 0 .5 1.2 .5-2 .5-.4 .5-.5 .5 1.3 .5-.9 .5 1.1 .5 .5 .5-.6 .5-.3 .5 1.7 .5-1 .5 .3 .5 .6 .5-1.7 .5 .4 .5 2.7 .5-2.1 .5-.6 .5 .7 .5-.3 .5-.4 .5 .6 .5 .4 .5 0 .5 .5 .5-1.7 .5 .2 .5 1.8 .5-.9 .5 1.3 .5-.7 .5-1.3 .5 1.6 .5-1.2 .5 1 .5 .8 .5 .7 .5-1.6 .5 .6 .5-.3 .5 .5 .5-2.6 .5 1.7 .5 .6 .5 .2 .5-1 .5 1.3 .5 .2 .5-.7 .5-.2 .5-.1 .5 .4 .5 .9 .5 .3 .5-1.5 .5-.3 .5 .1 .5 1.4 .5-.6 .5 .1 .5 .2 .5 0 .5-.4 .5-.7 .5 .4 .5 .6 .5 .2 .5-.5 .5 0 .5 1.4 .5-1.4 .5 .5 .5-.3 .5-.4 .5-.5 .5 .8 .5-.2 .5 1.3 .5-1.5 .5 .6 .5 .8 .5-.5 .5 .5 .5 .2 .5-1.9 .5 1 .5-.4 .5 1.8 .5-1.1 .5 .5 .5 1 .5-1.6 .5 .4 .5 .2 .5-.5 .5 1.2 .5-.3 .5 .2 .5-.7 .5-.3 .5 0 .5 0 .5-1 .5 1.6 .5 .3 .5-.6 .5-.3 .5 .4 .5 .2 .5 0 .5 1.2 .5-2 .5 .9 .5 .3 .5-.5 .5-.2 .5-.6 .5 .3 .5 1 .5 .6 .5-1.6 .5 .9 .5 0 .5 .4 .5-.6 .5 .2 .5 .3 .5-1.6 .5 1 .5-1.4 .5-.2 .5 .9 .5-.5 .5 1.5 .5 .4 .5-1 .5 .1 .5-.1 .5 0 .5 .3 .5 .2 .5-.6 .5-.3 .5 .2 .5 1 .5-.9 .5 1.4 .5-1.3 .5 1.2 .5-1.9 .5 .4 .5 .8 .5 0 .5-.5 .5 1.7 .5-1.5 .5 .2 .5-.7 .5 1.7 .5-.6 .5-.4 .5-1.5 .5 1.5 .5-.7 .5 .7 .5 .4 .5-1.3 .5 .7 .5 .5 .5-.5 .5-.4 .5-.6 .5 .3 .5-.5 .5 1.7 .5-.6 .5-1.1 .5 .9 .5-.9 .5-1.6 .5 3.4 .5 0 .5-2 .5 .5 .5 .7 .5-.5 .5-.3 .5 .2 .5 .2 .5-.2 .5 .5 .5-.3 .5-.5 .5 .6 .5-1.3 .5 2.3 .5-2.4 .5 1.3 .5 .3 .5 0 .5-.1 .5 .7 .5-1.8 .5 .7 .5 .2 .5-.5 .5-.1 .5 1.4 .5-1.6 .5 .2 .5 .1 .5 0 .5 .3 .5-.3 .5 .4 .5-.2 .5 .2 .5 .7 .5-1.7 .5 1.8 .5-1.6 .5 .8 .5-.4 .5-.4 .5-1.2 .5 2.6 .5-1.8 .5-.1 .5 1.4 .5-.8 .5 1.3 .5-.2 .5-.7 .5-.4 .5 .3 .5-1.5 .5 1 .5 0 .5-.5 .5 .5 .5-1.4 .5 1.7 .5 .1 .5-2.1 .5 .9 .5 .9 .5-1.1 .5-1.3 .5-.3 .5 1.1 .5 .4 .5-2.5 .5 .5 .5-1 .5 0 .5 0 .5-.6 .5-.9 .5 1.6 .5-2.1 .5-.5 .5 .4 .5-1.5 .5-1 .5 0 .5-2.5 .5 .3 .5-.9 .5-1.5 .5-1.8 .5-1.1 .5-2.4 .5 0 .5-.8 .5-.6 .5-1.6 .5-1.4 .5-1.4 .5-.5 .5-.9 .5-.3 .5-1.9 .5-1.4 .5-.7 .5-1.3 .5-.7 .5-2.3 .5-.3 .5-.3 .5 .5 .5-1.1 .5-.5 .5 .1 .5-2.3 .5 1.1 .5-1 .5-1.2 .5 1.4 .5-2.2 .5 .3 .5 1 .5 1 .5 .3 .5-.6 .5 2.4 .5 1.2 .5 3 .5 .3 .5 .2 .5 .2 .5 2.1 .5-.2 .5 2 .5 1.1 .5 .5 .5 1.5 .5 .7 .5 .9 .5 2.6 .5 .4 .5 .5 .5 .7 .5 1.8 .5 1.3 .5 1.2 .5 1.4 .5 .2 .5-.3 .5 3.1 .5 .1 .5 .4 .5 1.1 .5-1.5 .5 1.5 .5 .6 .5 1.9 .5-1.1 .5 1.2 .5 2 .5 0 .5-.2 .5 2.2 .5-1.8 .5 1.9 .5 0 .5 1 .5-.1 .5 0 .5 1.1 .5-.7 .5 1.7 .5-.3 .5 1.2 .5-.8 .5 0 .5 1 .5 .8 .5-2.3 .5 1.8 .5 .5 .5-1.3 .5 .5 .5 1.3 .5-1 .5 .3 .5 1.9 .5-1.9 .5 .2 .5-.9 .5 1 .5 0 .5 2.3 .5-.3 .5-1.7 .5 2.5 .5-.8 .5-.6 .5 .8 .5-.2 .5-.7 .5-.7 .5 .7 .5 .8 .5-.2 .5-.2 .5 1.3 .5-1.4 .5 1.5 .5-1 .5 .5 .5-.8 .5 .9 .5-.5 .5-.7 .5 1.3 .5 .1 .5 .7 .5-.4 .5-.9 .5 .3 .5-1.3 .5 1.1 .5 1.8 .5 .2 .5-.5 .5-.3 .5 .2 .5 0 .5-1.6 .5 .7 .5 1.5 .5 .1 .5-.7 .5-.4 .5 0 .5-.1 .5-.2 .5-.7 .5 1.6 .5-.4 .5 .2 .5 1.4 .5-.8 .5-.9 .5 1 .5-1.5 .5 1.9 .5-.5 .5-.3 .5 .6 .5 .7 .5-1.4 .5-.4 .5 2.4 .5-1.6 .5 1.2 .5-1.6 .5 .8 .5-.7 .5 1 .5-.7 .5-.3 .5 1.7 .5-.8 .5-1.8 .5 1.4 .5-.5 .5-.2 .5 .5 .5 .1 .5 .4 .5-.6 .5-.7 .5 1 .5 1.1 .5-1.7 .5 1.5 .5-.1 .5-.6 .5 .6 .5-.8 .5 .3 .5-.4 .5 1.1 .5 .7 .5-1.5 .5 1.4 .5-2.5 .5 1 .5-.1 .5 2.1 .5-1.7 .5 1 .5-2.1 .5 1.7 .5 .3 .5-.4 .5-2 .5 2.2 .5 .5 .5 .4 .5-.7 .5-1.5 .5 1.1 .5 .8 .5-1.2 .5 1 .5-.8 .5 .5 .5 .5 .5-1.1 .5 2.7 .5-2 .5 .1 .5-.8 .5 .6 .5-.2 .5-.9 .5 0 .5 1.3 .5-.2 .5-1.9 .5 .3 .5 1.4 .5 .2 .5 .5 .5-1.4 .5 1.4 .5-.6 .5-.2 .5 .3 .5 .8 .5-.3 .5 .3 .5-1.2 .5 .3 .5-.7" fill="none" stroke="#2a5c98" stroke-width="3.20" stroke-linejoin="round" stroke-linecap="round"/>
<path d="M955.5 45.6v9.0M955.5 497.2v-9.0M1017.7 45.6v9.0M1017.7 497.2v-9.0M1080.0 45.6v9.0M1080.0 497.2v-9.0M1142.2 45.6v9.0M1142.2 497.2v-9.0M1204.4 45.6v9.0M1204.4 497.2v-9.0M1266.6 45.6v9.0M1266.6 497.2v-9.0M1328.8 45.6v9.0M1328.8 497.2v-9.0M1391.1 45.6v9.0M1391.1 497.2v-9.0M1453.3 45.6v9.0M1453.3 497.2v-9.0M986.6 45.6v4.8M986.6 497.2v-4.8M1048.8 45.6v4.8M1048.8 497.2v-4.8M1111.1 45.6v4.8M1111.1 497.2v-4.8M1173.3 45.6v4.8M1173.3 497.2v-4.8M1235.5 45.6v4.8M1235.5 497.2v-4.8M1297.7 45.6v4.8M1297.7 497.2v-4.8M1360.0 45.6v4.8M1360.0 497.2v-4.8M1422.2 45.6v4.8M1422.2 497.2v-4.8M924.6 480.3h9.0M1485.0 480.3h-9.0M924.6 413.5h9.0M1485.0 413.5h-9.0M924.6 346.7h9.0M1485.0 346.7h-9.0M924.6 279.9h9.0M1485.0 279.9h-9.0M924.6 213.1h9.0M1485.0 213.1h-9.0M924.6 146.3h9.0M1485.0 146.3h-9.0M924.6 79.5h9.0M1485.0 79.5h-9.0M924.6 446.9h4.8M1485.0 446.9h-4.8M924.6 380.1h4.8M1485.0 380.1h-4.8M924.6 313.3h4.8M1485.0 313.3h-4.8M924.6 246.5h4.8M1485.0 246.5h-4.8M924.6 179.7h4.8M1485.0 179.7h-4.8M924.6 112.9h4.8M1485.0 112.9h-4.8" stroke="#000" stroke-width="2.9" fill="none"/>
<rect x="924.6" y="45.6" width="560.4" height="451.6" fill="none" stroke="#000" stroke-width="2.9"/>
<text x="955.5" y="525.8" font-size="24.8" font-weight="bold" text-anchor="middle" fill="#000" font-family="'Liberation Sans', Arial, sans-serif">35</text>
<text x="1017.7" y="525.8" font-size="24.8" font-weight="bold" text-anchor="middle" fill="#000" font-family="'Liberation Sans', Arial, sans-serif">40</text>
<text x="1080.0" y="525.8" font-size="24.8" font-weight="bold" text-anchor="middle" fill="#000" font-family="'Liberation Sans', Arial, sans-serif">45</text>
<text x="1142.2" y="525.8" font-size="24.8" font-weight="bold" text-anchor="middle" fill="#000" font-family="'Liberation Sans', Arial, sans-serif">50</text>
<text x="1204.4" y="525.8" font-size="24.8" font-weight="bold" text-anchor="middle" fill="#000" font-family="'Liberation Sans', Arial, sans-serif">55</text>
<text x="1266.6" y="525.8" font-size="24.8" font-weight="bold" text-anchor="middle" fill="#000" font-family="'Liberation Sans', Arial, sans-serif">60</text>
<text x="1328.8" y="525.8" font-size="24.8" font-weight="bold" text-anchor="middle" fill="#000" font-family="'Liberation Sans', Arial, sans-serif">65</text>
<text x="1391.1" y="525.8" font-size="24.8" font-weight="bold" text-anchor="middle" fill="#000" font-family="'Liberation Sans', Arial, sans-serif">70</text>
<text x="1453.3" y="525.8" font-size="24.8" font-weight="bold" text-anchor="middle" fill="#000" font-family="'Liberation Sans', Arial, sans-serif">75</text>
<text x="914.5" y="487.2" font-size="24.8" font-weight="bold" text-anchor="end" fill="#000" font-family="'Liberation Sans', Arial, sans-serif">0</text>
<text x="914.5" y="420.4" font-size="24.8" font-weight="bold" text-anchor="end" fill="#000" font-family="'Liberation Sans', Arial, sans-serif">5</text>
<text x="914.5" y="353.6" font-size="24.8" font-weight="bold" text-anchor="end" fill="#000" font-family="'Liberation Sans', Arial, sans-serif">10</text>
<text x="914.5" y="286.8" font-size="24.8" font-weight="bold" text-anchor="end" fill="#000" font-family="'Liberation Sans', Arial, sans-serif">15</text>
<text x="914.5" y="220.0" font-size="24.8" font-weight="bold" text-anchor="end" fill="#000" font-family="'Liberation Sans', Arial, sans-serif">20</text>
<text x="914.5" y="153.2" font-size="24.8" font-weight="bold" text-anchor="end" fill="#000" font-family="'Liberation Sans', Arial, sans-serif">25</text>
<text x="914.5" y="86.4" font-size="24.8" font-weight="bold" text-anchor="end" fill="#000" font-family="'Liberation Sans', Arial, sans-serif">30</text>
<text x="1213.7" y="571.2" font-size="38.3" font-weight="bold" text-anchor="middle" font-family="'Liberation Sans', Arial, sans-serif">2<tspan font-family="'Liberation Serif', 'Times New Roman', serif" font-weight="normal">&#952;</tspan> (degree)</text>
<text x="0.0" y="0.0" font-size="38.2" font-weight="bold" text-anchor="middle" fill="#000" font-family="'Liberation Sans', Arial, sans-serif" transform="translate(863.9 271.0) rotate(-90)">Intensity (a.u.)</text>
<text x="0.0" y="0.0" font-size="25.5" font-weight="normal" text-anchor="start" fill="#e0680f" font-family="'Liberation Sans', Arial, sans-serif" transform="translate(971.3 59.2) rotate(90)" xml:space="preserve" stroke="#e0680f" stroke-width="0.60">Ta  (110)</text>
<text x="0.0" y="0.0" font-size="25.5" font-weight="normal" text-anchor="start" fill="#e0680f" font-family="'Liberation Sans', Arial, sans-serif" transform="translate(1183.3 59.2) rotate(90)" xml:space="preserve" stroke="#e0680f" stroke-width="0.60">Ta  (200)</text>
<text x="0.0" y="0.0" font-size="25.5" font-weight="normal" text-anchor="start" fill="#e0680f" font-family="'Liberation Sans', Arial, sans-serif" transform="translate(1358.2 59.2) rotate(90)" xml:space="preserve" stroke="#e0680f" stroke-width="0.60">Ta  (211)</text>
<text x="0.0" y="0.0" font-size="25.5" font-weight="normal" text-anchor="start" fill="#1a1a1a" font-family="'Liberation Sans', Arial, sans-serif" transform="translate(1018.3 60.6) rotate(90)" xml:space="preserve" stroke="#1a1a1a" stroke-width="0.60">Nb (110)</text>
<text x="0.0" y="0.0" font-size="25.5" font-weight="normal" text-anchor="start" fill="#1a1a1a" font-family="'Liberation Sans', Arial, sans-serif" transform="translate(1230.2 60.6) rotate(90)" xml:space="preserve" stroke="#1a1a1a" stroke-width="0.60">Nb (200)</text>
<text x="0.0" y="0.0" font-size="25.5" font-weight="normal" text-anchor="start" fill="#1a1a1a" font-family="'Liberation Sans', Arial, sans-serif" transform="translate(1399.5 60.6) rotate(90)" xml:space="preserve" stroke="#1a1a1a" stroke-width="0.60">Nb (211)</text>
<line x1="1492.0" y1="58.5" x2="1539.0" y2="58.5" stroke="#2a5c98" stroke-width="2.6" stroke-linecap="round"/>
<text x="0.0" y="0.0" font-size="20.5" font-weight="bold" text-anchor="start" fill="#000" font-family="'Liberation Sans', Arial, sans-serif" transform="translate(1544.8 64.7) scale(1.020 1)">Ta 3/Nb 15</text>
<line x1="1492.0" y1="84.9" x2="1539.0" y2="84.9" stroke="#2db462" stroke-width="2.6" stroke-linecap="round"/>
<text x="0.0" y="0.0" font-size="20.5" font-weight="bold" text-anchor="start" fill="#000" font-family="'Liberation Sans', Arial, sans-serif" transform="translate(1544.8 91.1) scale(1.020 1)">Ta 3/Nb 9</text>
<line x1="1492.0" y1="111.3" x2="1539.0" y2="111.3" stroke="#fcc22a" stroke-width="2.6" stroke-linecap="round"/>
<text x="0.0" y="0.0" font-size="20.5" font-weight="bold" text-anchor="start" fill="#000" font-family="'Liberation Sans', Arial, sans-serif" transform="translate(1544.8 117.5) scale(1.020 1)">Ta 3/Nb 7</text>
<line x1="1492.0" y1="137.7" x2="1539.0" y2="137.7" stroke="#e97a22" stroke-width="2.6" stroke-linecap="round"/>
<text x="0.0" y="0.0" font-size="20.5" font-weight="bold" text-anchor="start" fill="#000" font-family="'Liberation Sans', Arial, sans-serif" transform="translate(1544.8 143.9) scale(1.020 1)">Ta 3/Nb 5</text>
<line x1="1492.0" y1="164.1" x2="1539.0" y2="164.1" stroke="#ef3038" stroke-width="2.6" stroke-linecap="round"/>
<text x="0.0" y="0.0" font-size="20.5" font-weight="bold" text-anchor="start" fill="#000" font-family="'Liberation Sans', Arial, sans-serif" transform="translate(1544.8 170.3) scale(1.020 1)">Ta 3/Nb 3</text>
<text x="0.0" y="0.0" font-size="20.5" font-weight="bold" text-anchor="start" fill="#000" font-family="'Liberation Sans', Arial, sans-serif" transform="translate(1544.8 197.2) scale(1.020 1)">(in nm)</text>
<line x1="181.8" y1="611.1" x2="181.8" y2="1060.1" stroke="#222" stroke-width="2.4" stroke-dasharray="7.7 6.5" stroke-dashoffset="2.4"/>
<line x1="393.8" y1="611.1" x2="393.8" y2="1060.1" stroke="#222" stroke-width="2.4" stroke-dasharray="7.7 6.5" stroke-dashoffset="2.4"/>
<line x1="568.1" y1="611.1" x2="568.1" y2="1060.1" stroke="#222" stroke-width="2.4" stroke-dasharray="7.7 6.5" stroke-dashoffset="2.4"/>
<line x1="195.4" y1="611.1" x2="195.4" y2="1060.1" stroke="#f68a1e" stroke-width="2.8" stroke-dasharray="2.8 3.7"/>
<line x1="276.0" y1="611.1" x2="276.0" y2="1060.1" stroke="#f68a1e" stroke-width="2.8" stroke-dasharray="2.8 3.7"/>
<line x1="540.0" y1="611.1" x2="540.0" y2="1060.1" stroke="#f68a1e" stroke-width="2.8" stroke-dasharray="2.8 3.7"/>
<path d="M105.6 932.5l.5 .7 .5 .5 .5 1.4 .5 .4 .5 .8 .5 0 .5 1.3 .5-.2 .5 1.2 .5 .2 .5 .7 .5 0 .5-.4 .5 .4 .5 3.1 .5-.6 .5 .5 .5 .1 .5 .3 .5 3.1 .5-2.5 .5 1.3 .5 .5 .5-.3 .5 .4 .5 1 .5 .8 .5 .4 .5 1.4 .5-1 .5 1.7 .5 1.3 .5 .1 .5-1.1 .5-.8 .5 3.3 .5 .2 .5-.3 .5 1.9 .5-.8 .5 .9 .5-.3 .5 1.5 .5-.1 .5 .4 .5 1.7 .5-.1 .5-.8 .5 2.1 .5 .6 .5-.8 .5 .8 .5 .8 .5 .3 .5 .8 .5 .8 .5-.4 .5 2.4 .5-1.6 .5 .6 .5 2.3 .5 .8 .5-1.3 .5 .2 .5-.2 .5 2.1 .5-.3 .5-.4 .5 1.4 .5 1.1 .5-.1 .5 1.6 .5-.4 .5-.2 .5 0 .5 .8 .5 .9 .5 .1 .5 .5 .5-.3 .5 .7 .5 .7 .5-.6 .5-.5 .5 2.6 .5-.4 .5-.4 .5 .9 .5 0 .5-.7 .5 1.5 .5-.6 .5 1.6 .5 .1 .5 1.3 .5-.6 .5 .7 .5-.1 .5 .2 .5-.4 .5 2 .5-.3 .5-.3 .5 .9 .5-.3 .5 0 .5 .9 .5 .9 .5-.9 .5-.8 .5 .7 .5 1.9 .5-1.9 .5 1.6 .5-1.1 .5 .7 .5-.7 .5-1.2 .5 .7 .5 1.7 .5-1.9 .5 .3 .5-.9 .5-.2 .5 0 .5-.2 .5 .9 .5-2 .5-.6 .5-.7 .5-1 .5-.6 .5 1.2 .5-2.3 .5 2 .5-.9 .5-1.3 .5-1.1 .5 .5 .5-.4 .5 .4 .5-1.8 .5-.2 .5-.2 .5-.7 .5-.8 .5-1.4 .5-.6 .5 .1 .5-.3 .5 .3 .5 .3 .5-1.1 .5-1.7 .5 .5 .5-2.2 .5-.9 .5 1.5 .5-3.2 .5-.1 .5-.4 .5 .7 .5-2 .5 .6 .5-1.3 .5-1 .5 .8 .5-.3 .5-1.1 .5 .1 .5 0 .5 1.4 .5-.3 .5 .1 .5 .5 .5-.4 .5 1.1 .5-.3 .5 0 .5 1 .5 1.2 .5 .5 .5 1.3 .5-1.5 .5 1.7 .5 1 .5-.5 .5 1.4 .5 .1 .5 0 .5 2.3 .5-1.2 .5 2.4 .5-.4 .5 .3 .5 .8 .5 .8 .5 .6 .5 1.6 .5-.9 .5 3.1 .5 .5 .5 1.1 .5-1 .5-.2 .5 2 .5 1.1 .5 1.2 .5 .1 .5 1.1 .5 .9 .5-.5 .5 3.2 .5-1.5 .5 1.8 .5 1.3 .5-.7 .5 1.2 .5 1.9 .5-.8 .5 1.6 .5 0 .5 .5 .5 .9 .5-.1 .5 .6 .5 1.5 .5 .1 .5 .8 .5-.7 .5 1.6 .5 1.5 .5 .4 .5 .2 .5 0 .5 .5 .5 1.4 .5 1.3 .5-.4 .5 1.5 .5-.7 .5 1.6 .5-1.1 .5 1.4 .5-.5 .5 1.7 .5 .3 .5-.8 .5 .5 .5 .5 .5-.5 .5 .7 .5 .2 .5 1.4 .5 .5 .5-1.3 .5 0 .5 .1 .5-1 .5-.5 .5 0 .5-1.3 .5-1.2 .5-1.3 .5 .6 .5-2.7 .5-.9 .5-2.5 .5-1.2 .5-.9 .5-1.3 .5 .2 .5-.1 .5-.2 .5 .7 .5 4.2 .5 .6 .5 3.2 .5 .3 .5 .8 .5 2.5 .5 .9 .5 1.6 .5 .4 .5 1.9 .5 .6 .5-1.1 .5 1.9 .5-1.6 .5 .7 .5-1.3 .5-.1 .5 3.1 .5-.4 .5-.1 .5-2 .5 1.5 .5 .2 .5-.2 .5 .3 .5-.9 .5 .7 .5-.7 .5 .6 .5 .6 .5-.8 .5 .4 .5 0 .5 .3 .5 .7 .5-.4 .5 .1 .5-1.3 .5 .8 .5 .9 .5-1.2 .5 .4 .5-.4 .5 1.7 .5-1.3 .5-.1 .5 1 .5 .4 .5-.4 .5 .4 .5-.6 .5-.2 .5-.2 .5 0 .5 0 .5 .8 .5-.4 .5 .2 .5 .5 .5-.5 .5-.9 .5 .5 .5-.2 .5-.5 .5 1.6 .5-.9 .5 0 .5 .3 .5 1.5 .5-.8 .5 1.1 .5-.7 .5-.2 .5 .9 .5 .1 .5-.2 .5-.8 .5 .5 .5-.4 .5 .8 .5 .4 .5 1.1 .5 .1 .5-.4 .5 .3 .5-.4 .5 2 .5-.8 .5 1 .5-1.6 .5 .1 .5 .6 .5-.5 .5 .2 .5-.8 .5 1.6 .5-.5 .5 .6 .5-.6 .5-1 .5 1.8 .5 .6 .5-1.7 .5 .4 .5 .6 .5 .2 .5-.9 .5 2.7 .5-.4 .5-1.1 .5-.8 .5 1.8 .5 1.3 .5-.7 .5 .4 .5-1.5 .5 1 .5-1.1 .5 2.7 .5-.9 .5-1.9 .5 .3 .5 1.9 .5-.2 .5-.2 .5 .8 .5 1.2 .5-1.1 .5-1.5 .5 1.3 .5-.7 .5 .5 .5 .9 .5-.2 .5-.6 .5 .9 .5-.5 .5 1.1 .5-.5 .5 .6 .5-.4 .5 .8 .5-.5 .5 .2 .5-.4 .5 .7 .5-1.4 .5 3.4 .5-2.4 .5 .7 .5-.4 .5 .1 .5 .8 .5-.6 .5 .1 .5-.6 .5 .4 .5-.1 .5 2.3 .5-2.3 .5 .3 .5 1 .5 1 .5-2.2 .5 .2 .5 1.3 .5 .2 .5-1.2 .5-.2 .5 .7 .5 1.4 .5-.6 .5 .7 .5-.6 .5 .2 .5 .5 .5-.4 .5 .3 .5-.8 .5 .3 .5 .9 .5-.5 .5-.3 .5 1.2 .5-.1 .5-.3 .5-.5 .5 1.3 .5 1.3 .5-2.4 .5-.5 .5 .7 .5-.1 .5-.2 .5 .2 .5 1.6 .5 0 .5 .6 .5-.5 .5-.9 .5 1.3 .5-1.2 .5 .2 .5-.5 .5 1.9 .5-.1 .5-1.1 .5 .2 .5 .4 .5 .1 .5 .6 .5-.5 .5 .3 .5-1.4 .5 1 .5-1 .5 2.7 .5-.2 .5-.4 .5 .3 .5 .8 .5-.8 .5-1.8 .5 1.1 .5-1.5 .5 1.2 .5-.2 .5 1 .5 .3 .5-.9 .5 .6 .5 .5 .5-.3 .5 .1 .5-1.6 .5 1.5 .5 1 .5-.3 .5-1.2 .5 .9 .5 .5 .5-.8 .5 1.3 .5-1.1 .5 .5 .5 .2 .5 1.8 .5-1.8 .5-.1 .5 1 .5-.8 .5 .6 .5-1.7 .5 1.9 .5-.1 .5-.9 .5 2.1 .5-1.1 .5 .1 .5-.8 .5-.1 .5 .8 .5-.6 .5 1.6 .5 .3 .5-1 .5-.7 .5 1 .5-.4 .5 1 .5 .1 .5-.4 .5 .5 .5 .8 .5 .6 .5-1.6 .5 1 .5-.7 .5-.5 .5 1.8 .5-.6 .5-.1 .5 .3 .5-.3 .5-.6 .5 2.2 .5-.6 .5-.4 .5 .6 .5 .3 .5-1 .5 .6 .5-.6 .5 .8 .5-.6 .5 2.1 .5-2 .5 .7 .5 .1 .5-.6 .5 1.1 .5-.7 .5-.2 .5 .4 .5-.5 .5 1.5 .5-.4 .5 .4 .5-1.7 .5 1.3 .5-.7 .5 .7 .5 .9 .5-.7 .5-.2 .5 1 .5 0 .5 .7 .5-2.7 .5 1.7 .5-.5 .5-.3 .5 .8 .5-.9 .5-.7 .5 1 .5 .6 .5 1.6 .5-1.9 .5-.3 .5-.5 .5 1.3 .5 .1 .5 .4 .5-1.2 .5 .6 .5-1.1 .5 1.9 .5-1.3 .5-.8 .5 3 .5-.5 .5-.1 .5 .1 .5-1 .5 1.6 .5-1.5 .5 2.2 .5-1.2 .5-1.5 .5 2.1 .5 .8 .5-1.6 .5 1 .5-.9 .5-.2 .5-1.5 .5 2.9 .5-1.2 .5 .7 .5-1.1 .5 .2 .5 1.5 .5-1 .5 0 .5-.6 .5 1.1 .5 .5 .5-.9 .5 .2 .5-.7 .5 2 .5-1.5 .5 .4 .5 1.4 .5-1.4 .5-.9 .5 .5 .5 .4 .5 1.7 .5-1.2 .5-.3 .5 .9 .5 .3 .5-1.5 .5 1.7 .5-.4 .5-.3 .5-2.1 .5 2 .5 .9 .5-1.2 .5 2 .5-1.7 .5-.7 .5 1.2 .5-.2 .5 .4 .5-.7 .5 1.2 .5-1.4 .5 .5 .5-1 .5 .4 .5 .8 .5-.7 .5 .2 .5 .2 .5 .4 .5 .4 .5 .1 .5 .2 .5-.6 .5-.6 .5-.7 .5 .9 .5-.3 .5-.7 .5 2.6 .5-2.6 .5 1.7 .5 .2 .5-.6 .5 2.1 .5-1.9 .5-.5 .5 1.9 .5-1.9 .5-.5 .5 .4 .5 .2 .5 .6 .5 .2 .5-1.4 .5 1.5 .5 1.4 .5-2.2 .5 .5 .5 .6 .5 .4 .5-1.4 .5-.2 .5 0 .5 1.6 .5-.1 .5-2.3 .5 0 .5 .7 .5-.2 .5 1.5 .5-.1 .5 1.3 .5-.9 .5-.5 .5 .9 .5-1.6 .5-.4 .5 1.1 .5 .7 .5-1.9 .5 1.9 .5 0 .5-1 .5 .5 .5-.3 .5 .3 .5 .6 .5-1.2 .5 1.4 .5-.1 .5 0 .5-2.2 .5 .1 .5 2 .5-1 .5 0 .5-.1 .5-.4 .5 .8 .5-.3 .5 .1 .5 .8 .5-1.2 .5 1.8 .5-2.6 .5 3.6 .5-2.9 .5 1.5 .5 .3 .5-.7 .5 .5 .5-.6 .5-1.3 .5 1.7 .5 .6 .5-1.3 .5-.9 .5 .9 .5 .7 .5 0 .5 .6 .5-.4 .5-.1 .5-1.9 .5 3.3 .5-1.7 .5 .6 .5-.9 .5 .2 .5 .1 .5 1.2 .5-.1 .5-.6 .5 1 .5-1.9 .5 .7 .5-.8 .5 1.3 .5-1 .5 .6 .5 .5 .5-3 .5 3.1 .5-1.5 .5-.6 .5-1.3 .5 1.1 .5-1.7 .5 1.7 .5-.4 .5 1.4 .5-1.8 .5 .9 .5-.1 .5 .6 .5-2 .5 .6 .5-1.9 .5 .1 .5 .5 .5 0 .5-1.1 .5 .4 .5 .7 .5-1.1 .5 .1 .5-.7 .5 1.5 .5 .2 .5-1.4 .5-.4 .5 1.2 .5-1.1 .5-1 .5-.7 .5 .5 .5 2 .5-2.3 .5 2.5 .5-2.3 .5-.3 .5 1.1 .5-1.4 .5 .4 .5-1.2 .5-.3 .5 .3 .5 .6 .5-.9 .5-1.1 .5 1.8 .5-.7 .5-.2 .5-.4 .5-1.4 .5 2.9 .5-1.8 .5 .7 .5 .6 .5-.4 .5-.8 .5-.2 .5 .1 .5 .4 .5-.3 .5-.9 .5 .6 .5-.1 .5 .2 .5-.4 .5 .9 .5-.9 .5 .5 .5-.7 .5-.4 .5-.2 .5 .6 .5 .7 .5 .6 .5-.9 .5-.2 .5 .2 .5 1.5 .5-.7 .5-.3 .5 1.2 .5-1.4 .5 1.3 .5 .1 .5 .1 .5-.5 .5 1.8 .5 .8 .5-2.1 .5 1.4 .5 .6 .5 1.5 .5-1.8 .5-.2 .5 .9 .5 1.8 .5-1.3 .5 .3 .5 1.4 .5-2.8 .5 .2 .5 2.6 .5 .1 .5-1.4 .5 1.7 .5-.1 .5 .4 .5-.5 .5 .6 .5-.1 .5 1 .5 0 .5 1.8 .5-.6 .5-1.4 .5 1.8 .5 1 .5-.6 .5 .8 .5-.6 .5 .8 .5-1.1 .5 1.6 .5-1.5 .5 2.2 .5-2 .5-.3 .5 2.2 .5-.5 .5 .4 .5 .3 .5-.3 .5-.6 .5 .9 .5 .2 .5 .2 .5 1.2 .5-2 .5 .7 .5 .5 .5-.8 .5-.5 .5 .6 .5 1.3 .5-.9 .5 .7 .5-1 .5 1 .5-.8 .5-.1 .5 .8 .5 .1 .5 1.1 .5-2.3 .5 1.7 .5 .9 .5-.1 .5-1.3 .5-.2 .5 .2 .5 .7 .5-.1 .5 .2 .5 .2 .5-1.2 .5 0 .5 0 .5-.1 .5 1 .5 .4 .5 1.7 .5-1.5 .5-.3 .5 1.1 .5-1.6 .5 .9 .5 .5 .5-.1 .5-.3 .5-.5 .5-.7 .5 .9 .5-.3 .5 1 .5-.6 .5 .5 .5-1.6 .5 2 .5-1.4 .5-.5 .5 .2 .5 .6 .5 1.3 .5-.3 .5-1.4 .5 1 .5-.2 .5-1.1 .5 .5 .5-.8 .5 .9 .5-1.4 .5 1.5 .5-.1 .5 .1 .5 0 .5 1.5 .5-1.2 .5 .5 .5 .4 .5 .1 .5-.2 .5-.9 .5-.4 .5 .2 .5 .2 .5 .4 .5-.1 .5 .9 .5-.9 .5 1.5 .5-.6 .5-1.2 .5 1.1 .5-2.9 .5 3.3 .5-.8 .5 0 .5-1.6 .5 3.2 .5-2.1 .5 .1 .5 1 .5-1.1 .5-.5 .5 1.2 .5-1.3 .5 1.4 .5-.5 .5 .8 .5-1.8 .5 1.8 .5-.7 .5 1.3 .5-2 .5 1.9 .5-.9 .5 .1 .5-1.2 .5 1 .5 .1 .5-1.2 .5-.2 .5 .3 .5 1.7 .5-1 .5 .6 .5-.5 .5-.2 .5 .1 .5-.5 .5 1.3 .5-.8 .5 0 .5-1.2 .5 1.3 .5-.8 .5 .1 .5 1.2 .5-1.6 .5 .7 .5 .6 .5 .4 .5-1.3 .5 .6 .5 0 .5-1.1 .5-.8 .5 .2 .5 1.9 .5-.4 .5-1.1 .5 .5 .5 .2 .5 .1 .5 .2 .5 1.7 .5-2.3 .5 .7 .5-.7 .5 .1 .5-.2 .5 .5 .5-.3 .5 .7 .5-.1 .5-.9 .5 2.2 .5-2.4 .5 1.2 .5 1.4 .5-2.3 .5 1.6 .5 .1 .5-.9 .5-1.7 .5 2.5 .5-1 .5-.5 .5 1.4 .5-1.6 .5 1.4 .5-1.3 .5 .9 .5-1.3 .5 .5 .5-.4" fill="none" stroke="#ef3038" stroke-width="3.20" stroke-linejoin="round" stroke-linecap="round"/>
<path d="M105.6 857.0l.5 1.6 .5 .7 .5 1.2 .5 1.8 .5-.1 .5-.4 .5 2.2 .5 1.2 .5 1.6 .5 .9 .5 .9 .5 0 .5 1.5 .5-.7 .5 3 .5 .2 .5 .9 .5 .1 .5 1.2 .5 .3 .5 1.7 .5-.6 .5 2.5 .5 .4 .5 1.9 .5-.8 .5 .7 .5 .9 .5 .6 .5 .6 .5-.1 .5 .7 .5 1.1 .5 .8 .5-.1 .5 .7 .5 1.3 .5 1.4 .5-.1 .5 1.2 .5 .9 .5 .4 .5-.3 .5 .6 .5-.6 .5 1.5 .5 1.4 .5-.6 .5 2.4 .5 .6 .5-.8 .5 1.5 .5-1.3 .5 .8 .5 1.1 .5 .8 .5 .3 .5 0 .5 2.6 .5-.8 .5 .5 .5 .8 .5 .1 .5 .1 .5 .2 .5-.4 .5 2.9 .5-1.5 .5-.1 .5 1.1 .5-.2 .5 3.1 .5-.8 .5 1.2 .5 .4 .5-.3 .5 .4 .5-.6 .5 .8 .5 0 .5 .8 .5-.2 .5 1.9 .5 0 .5-.3 .5-.8 .5 2.2 .5 .5 .5-.3 .5-.6 .5 1.7 .5 .9 .5-1.9 .5 2.2 .5-1.4 .5 1.8 .5 1.6 .5-.9 .5 .6 .5-.3 .5 .6 .5 2.1 .5-.5 .5-1 .5 .3 .5 .5 .5 1.9 .5-1.3 .5 .9 .5-.9 .5-.5 .5 2.1 .5-.9 .5-.4 .5 .2 .5 .1 .5 .1 .5-.7 .5 2.1 .5-.6 .5 .3 .5-1.2 .5 .2 .5-.5 .5 .3 .5-.7 .5-.9 .5-1.3 .5-1 .5-.3 .5-.5 .5-.5 .5-1.1 .5 1.7 .5-1.6 .5-2.2 .5 .3 .5-.5 .5 .8 .5 .3 .5-2 .5 .8 .5-1.1 .5 .7 .5-.2 .5-1.2 .5-.1 .5-.9 .5-.6 .5-1 .5 .9 .5-.6 .5-.5 .5-.1 .5-.2 .5-.9 .5 .3 .5 1.1 .5-1.1 .5 1.3 .5-2 .5-.1 .5 1.2 .5 .6 .5-.9 .5 1.1 .5 .4 .5 .3 .5-.7 .5 .3 .5-1 .5 1.5 .5 .5 .5 1.1 .5-1.8 .5 .6 .5 .2 .5 1.7 .5-2.3 .5 1.5 .5 2.8 .5-.5 .5-1 .5 1.6 .5 1.3 .5 .4 .5 .1 .5 .3 .5 2 .5 .2 .5 1.4 .5 .6 .5 .2 .5 2.3 .5-.6 .5 1.6 .5 .1 .5 1.3 .5 .9 .5 .6 .5 1.6 .5 1.7 .5 1.3 .5 .6 .5-.4 .5 2.1 .5 .1 .5 1.8 .5-1.5 .5 2.8 .5-.9 .5 2.1 .5-.6 .5 1.6 .5-.3 .5-.5 .5 1.3 .5 1.2 .5 .8 .5-1 .5 1.4 .5 1.1 .5 1 .5 1 .5-.1 .5 .1 .5 2.1 .5 .2 .5 1.5 .5-.4 .5 1.6 .5-.6 .5 1.5 .5 .5 .5 .8 .5-.4 .5 1.1 .5 0 .5 1 .5 1.1 .5 2.3 .5-1.8 .5 .9 .5 0 .5 1.1 .5-.2 .5 .7 .5-.2 .5 1.8 .5-.6 .5-2.2 .5 1.6 .5-.1 .5-1.7 .5 1 .5 0 .5-.6 .5 0 .5-2.2 .5 1.2 .5-.9 .5-1.1 .5-1.4 .5-1 .5-2 .5-.6 .5-2.2 .5-.4 .5-2.7 .5 1.1 .5-1 .5 1.3 .5 .8 .5 2.9 .5 1.5 .5 2.3 .5 2.4 .5 .2 .5 1.7 .5 1.9 .5 .8 .5 1.1 .5 1.9 .5 1 .5 .8 .5 .3 .5-1.1 .5 .9 .5 .7 .5-1.2 .5 .7 .5-.7 .5 .7 .5 1.2 .5-1.1 .5-.8 .5 1.1 .5-.1 .5 .7 .5-1.8 .5 .4 .5 .7 .5-1.1 .5 2.1 .5-2.4 .5 .9 .5-.4 .5 .6 .5 1.2 .5-.2 .5 .3 .5-.2 .5-2 .5 1.8 .5-1.6 .5 1 .5 .1 .5-.1 .5 .8 .5-.9 .5 1.9 .5-.8 .5 .4 .5-.3 .5 .1 .5-.7 .5 1.6 .5-2.3 .5 1.2 .5-.4 .5-.1 .5 .4 .5-.8 .5 1.3 .5-.1 .5-.5 .5 .5 .5-1.3 .5-.5 .5 .9 .5 .3 .5 2.1 .5-2 .5 1 .5-.1 .5 1 .5-1.5 .5 .5 .5-.6 .5-.5 .5 0 .5 .2 .5 1.7 .5-.8 .5-.3 .5 .2 .5-.3 .5 .4 .5 .1 .5 .6 .5 .2 .5-1.8 .5 1.5 .5 .9 .5-1.7 .5 .6 .5 .4 .5 .8 .5-.3 .5-.5 .5 .6 .5 .5 .5-.4 .5 1.2 .5-1 .5-1.1 .5 .3 .5 .6 .5 0 .5 .8 .5-.1 .5 1.1 .5-.6 .5 .6 .5-1.6 .5 .3 .5 1 .5-.4 .5 .5 .5-.2 .5-.5 .5 1.8 .5-.3 .5-1.9 .5 .8 .5 .6 .5 .6 .5-.5 .5-.9 .5 1.8 .5-.7 .5 1.1 .5-.5 .5 .6 .5 0 .5 .1 .5-.9 .5 1.2 .5-.5 .5-1 .5 .8 .5 .1 .5 .7 .5 .3 .5-1.3 .5 1.5 .5-.5 .5-.6 .5 1.5 .5-1.1 .5-.2 .5 1.5 .5 .2 .5-1.1 .5 1.4 .5 .1 .5-1.1 .5 2 .5-1.4 .5 .3 .5-1.9 .5 2.3 .5-.8 .5 .9 .5-1.6 .5 2.3 .5 .3 .5 .4 .5-3.6 .5 2.8 .5-.1 .5-2.5 .5 1.8 .5 .6 .5 1.2 .5-1.6 .5 .8 .5-.1 .5 .4 .5-.5 .5 1.1 .5 .1 .5-1.7 .5 2 .5-1.4 .5 .5 .5 1.1 .5-.7 .5 .4 .5 .2 .5 0 .5-.8 .5-.2 .5 1.3 .5 .1 .5-.2 .5-.4 .5 .9 .5-.6 .5-1 .5 1.4 .5 .2 .5 .3 .5-1.2 .5 .2 .5 .8 .5-.5 .5 .4 .5 .8 .5-.3 .5 1.1 .5-1.1 .5 1.2 .5-.4 .5 1.1 .5-1.8 .5 0 .5 1.1 .5-1.3 .5 .1 .5 .6 .5 .2 .5-1.2 .5 1.3 .5-.4 .5 .3 .5 .2 .5-.2 .5 1 .5-.3 .5-.4 .5 .2 .5 .8 .5-.1 .5 .4 .5-.9 .5 .2 .5 1.5 .5-1.4 .5 1.3 .5-.5 .5-.9 .5-.6 .5 1.6 .5-1 .5 .1 .5-.7 .5 2.3 .5-.7 .5 0 .5 .3 .5 0 .5 0 .5 .4 .5-.5 .5-1.7 .5 2.6 .5-.1 .5-.3 .5 1.3 .5-2.1 .5-1.1 .5 3.4 .5-.7 .5-1.4 .5 1 .5 .9 .5-1.3 .5 1.4 .5 1.3 .5-.4 .5-1 .5 .4 .5-.8 .5 .9 .5-.3 .5-.3 .5-.2 .5 2.6 .5-1.3 .5-.7 .5 .6 .5 1.5 .5 .3 .5-1.6 .5 .7 .5 .7 .5-.8 .5-.5 .5 .3 .5 .8 .5-.4 .5-.3 .5 .9 .5 1 .5 0 .5-.6 .5 1.7 .5-1.8 .5 .6 .5-.8 .5 1.7 .5-.5 .5-1.1 .5 .8 .5 2.1 .5-.7 .5-.3 .5 .6 .5-1.7 .5 .7 .5-.2 .5 .5 .5 .4 .5 .8 .5 .5 .5 .1 .5 1.4 .5-2.3 .5 .5 .5 .5 .5-.9 .5 .5 .5 .6 .5-.8 .5 1.1 .5 .6 .5-1.6 .5-.8 .5 1.9 .5-.8 .5 1 .5-.4 .5 .7 .5 .7 .5-.2 .5-.8 .5-.5 .5-.9 .5 .3 .5 1.1 .5 .7 .5-.5 .5 .1 .5-.7 .5 .1 .5-.1 .5 1.8 .5-1.9 .5 2.1 .5-1.2 .5 1.1 .5-.2 .5 .5 .5 .3 .5-1.4 .5-.1 .5 .4 .5-.2 .5 1.1 .5-.6 .5 .1 .5 .4 .5-.7 .5 1.2 .5-2.1 .5 1.5 .5 .3 .5-.9 .5 0 .5 1.2 .5-.8 .5-1.2 .5 .4 .5 1.8 .5-1.4 .5 1.7 .5 .1 .5-1.2 .5 .6 .5-1 .5 .3 .5-.2 .5 1 .5-1.4 .5 .9 .5 .2 .5 .4 .5-2 .5 .3 .5 .7 .5 .5 .5 .3 .5 0 .5 1.4 .5-1 .5 0 .5-.8 .5 1 .5-.1 .5 0 .5-.6 .5 .6 .5 .7 .5-1.7 .5-1 .5 2.2 .5 0 .5-.7 .5-.2 .5 2.4 .5-2.3 .5-.6 .5 .6 .5 .7 .5-.8 .5 .2 .5 .5 .5-.5 .5 .4 .5-.1 .5-.7 .5 .8 .5-.9 .5 1.6 .5-1.4 .5 .6 .5-1.2 .5 1 .5-.6 .5 2.1 .5-1.2 .5 .5 .5-1.7 .5 .4 .5 .8 .5-.8 .5 1.8 .5-1.1 .5 .4 .5 .2 .5-.4 .5 .7 .5-1 .5 .8 .5 .6 .5-.7 .5-.1 .5-.3 .5 .3 .5 .5 .5-.7 .5-1 .5 1.4 .5-.3 .5 .5 .5-.3 .5 1.2 .5-2.1 .5 .2 .5 1.2 .5-1.2 .5 1 .5-.2 .5-1.4 .5 1.9 .5 .6 .5-.9 .5-1.1 .5 1.6 .5-1.3 .5 .6 .5 .5 .5-.9 .5-.7 .5 1.2 .5 .1 .5-.6 .5 .1 .5 1.1 .5-.6 .5-.3 .5 0 .5 .5 .5 0 .5-.2 .5-.9 .5 .8 .5-.2 .5 .5 .5 .9 .5-.2 .5-.2 .5-.4 .5-.3 .5 .5 .5-.6 .5 .1 .5-.3 .5 .6 .5-.1 .5 1.5 .5-1 .5-.7 .5 .9 .5-.9 .5 1.1 .5-.2 .5 1.6 .5-2.9 .5 .7 .5 0 .5 .3 .5 .3 .5-1.2 .5 .1 .5 .8 .5 .5 .5-1.6 .5-.3 .5 1.9 .5-.2 .5 .1 .5-1.5 .5 .5 .5 .2 .5 .1 .5-.5 .5 0 .5 .6 .5-1.1 .5-.2 .5 0 .5-.2 .5 .3 .5-.4 .5-.2 .5 1.2 .5-1 .5-.6 .5 1 .5-1.4 .5 .2 .5-.2 .5-.5 .5 0 .5 .2 .5-1.3 .5 .6 .5 .3 .5-.1 .5-.1 .5 1.3 .5-1.4 .5-.7 .5-.1 .5-.1 .5 .2 .5-.7 .5 1.2 .5-2 .5 1.1 .5-.2 .5-1.3 .5 1.1 .5-.1 .5-1 .5 2 .5-1.3 .5-.9 .5-.2 .5-.3 .5 .5 .5-.2 .5-1.2 .5 .1 .5 .1 .5 .1 .5-.1 .5-.4 .5 .8 .5 .1 .5-.8 .5-1.7 .5 1.3 .5 .4 .5-.6 .5 .2 .5-.2 .5-1.3 .5-.8 .5 2.2 .5-.9 .5 .6 .5-.6 .5 0 .5 1.1 .5-1.9 .5 .9 .5-.8 .5 .8 .5 .3 .5 .2 .5-.3 .5-1 .5 1.2 .5 .6 .5 .2 .5 .9 .5-1 .5-1 .5 .5 .5 .6 .5 .8 .5-1.3 .5 1.6 .5 0 .5-.9 .5 1.2 .5-.8 .5 .7 .5 0 .5 .6 .5-.9 .5 1.4 .5-1.7 .5 1.4 .5 .1 .5 1.7 .5-.6 .5-.5 .5-.1 .5 .9 .5-.2 .5 2.3 .5-3.3 .5 2.2 .5-1.5 .5 2.8 .5-1.1 .5 2 .5-1.2 .5 1.4 .5-.4 .5 1 .5-.6 .5-1.8 .5 1.8 .5-.3 .5 2 .5-.1 .5-.1 .5 .5 .5 0 .5-.4 .5 2 .5-1.1 .5-.1 .5-.8 .5 .7 .5 .5 .5 0 .5-.1 .5 .3 .5-.6 .5 .8 .5-1 .5 .6 .5 .2 .5 1.2 .5-.2 .5-.2 .5-.8 .5 .6 .5 .9 .5 .4 .5-1.9 .5 .9 .5 .4 .5 .3 .5-.2 .5 .5 .5-1.4 .5 2.2 .5-1.9 .5 1 .5 .3 .5 .6 .5-.2 .5 .1 .5 .3 .5-.9 .5 .7 .5 .6 .5-1.6 .5-.4 .5 .3 .5 1.8 .5-.1 .5-1 .5 .4 .5 .2 .5 .5 .5-2 .5 .9 .5 .3 .5 .5 .5-.2 .5-.2 .5 .5 .5-2.1 .5 4.1 .5-1.6 .5 .1 .5-1 .5 .7 .5 1.3 .5-.2 .5-1.2 .5-.9 .5 1 .5-.3 .5 .8 .5-1.5 .5 .8 .5 .4 .5-.5 .5 1.1 .5-1.6 .5 0 .5 .6 .5 .9 .5-.8 .5-.2 .5 1 .5-.5 .5-.5 .5 .5 .5-.3 .5 .6 .5-.3 .5-.7 .5 .2 .5 .1 .5 .6 .5 0 .5-.9 .5 .5 .5 .3 .5 .6 .5-.6 .5 1.2 .5-1.4 .5 .5 .5-.7 .5-.5 .5 .8 .5 .2 .5-.1 .5-.1 .5-.4 .5-.3 .5 .4 .5 .5 .5 .4 .5-3.1 .5 2.8 .5 .4 .5 .1 .5-.6 .5 .2 .5-.8 .5 .2 .5 .5 .5-1.2 .5 .2 .5 .7 .5-1.1 .5 1 .5-1.1 .5 1.2 .5-.1 .5-.4 .5-.3 .5 .3 .5-1.2 .5 1.3 .5 .4 .5 .8 .5-1.3 .5 .3 .5 1.1 .5 .2 .5-1.6 .5 1.1 .5 .1 .5-.4 .5-1.1 .5 0 .5 1.1 .5 1.3 .5-1.8 .5 1.2 .5 .2 .5-2.2 .5 .5 .5 1.5 .5-.4 .5-.3 .5-.4 .5 .4 .5-.9 .5 2.3 .5-2.6 .5-.5 .5 1.4 .5 .9 .5-1.4 .5 .3 .5-.6 .5 .6 .5-.6 .5 0 .5-.4 .5 .7 .5 1.7 .5-1.4 .5 .2 .5 1.5 .5-2.1 .5-.2 .5 1.1 .5-1.3 .5 1.1 .5 .6 .5-1.6 .5 .4 .5 1.6 .5-2 .5 .3 .5 .7 .5-.4 .5-.4 .5 1.7 .5-1.5 .5 .6 .5-.5" fill="none" stroke="#e97a22" stroke-width="3.20" stroke-linejoin="round" stroke-linecap="round"/>
<path d="M105.6 842.7l.5-.2 .5 2.3 .5-.3 .5 1.8 .5-1.1 .5 1.1 .5 1.3 .5 .3 .5 0 .5 1 .5-.2 .5 1.5 .5-1.4 .5 2.6 .5 1.4 .5 .3 .5 .5 .5-.4 .5 1.2 .5-.1 .5 .7 .5 .5 .5-1.8 .5 3.5 .5 .2 .5 .7 .5-.8 .5 1.7 .5 .2 .5-1.5 .5 .8 .5 1.7 .5-.1 .5 .9 .5-.1 .5 1.9 .5-2 .5 .8 .5 .7 .5 .1 .5 1 .5 .8 .5-.6 .5 1.7 .5 1.1 .5 .2 .5 1.1 .5-.2 .5-.5 .5 1.7 .5-.3 .5 1.2 .5-1.1 .5-1 .5 1 .5 1.3 .5 .7 .5-.2 .5 1.2 .5-1.3 .5 .7 .5 1.5 .5-.4 .5 .3 .5 1.2 .5 0 .5-1.1 .5 .9 .5-1.1 .5 1.4 .5 .4 .5-1.3 .5 2.5 .5 .4 .5-1 .5 .4 .5 .4 .5-1.1 .5 .8 .5-.4 .5-1.4 .5 .4 .5 .3 .5 1.1 .5-.7 .5 .7 .5-1.1 .5-.6 .5 2.4 .5 .5 .5-1.8 .5-.4 .5 1 .5-1.7 .5 .6 .5-.9 .5 1.3 .5-.2 .5-.5 .5-.2 .5-.6 .5 .4 .5 1.5 .5-1.2 .5 1.1 .5-1.6 .5 .5 .5-.3 .5 .1 .5 .7 .5-2.1 .5 2 .5-.1 .5-.6 .5 0 .5-.3 .5 .6 .5-.7 .5-.9 .5 .5 .5 .2 .5-.7 .5-.6 .5-.3 .5-.9 .5-.4 .5-1.5 .5 .8 .5 .3 .5-1.4 .5-.9 .5 .9 .5-1 .5-.5 .5-.2 .5-.2 .5-.9 .5-1 .5 1.5 .5-1.5 .5-.9 .5 .5 .5 .5 .5-2 .5 1.9 .5-1.1 .5 1.5 .5-.9 .5-.5 .5 1 .5 .1 .5-1.2 .5 .5 .5-.4 .5 1.1 .5-1.6 .5 1 .5-1.3 .5 2.1 .5-1.9 .5 1 .5 1.1 .5-.3 .5 .1 .5-.2 .5 .6 .5-.8 .5 1.7 .5 .6 .5 .1 .5-.3 .5 1.1 .5-.3 .5 .5 .5-.1 .5-.1 .5-.3 .5-1.1 .5 2.7 .5-.2 .5 1.9 .5-2.4 .5 2.6 .5-.7 .5 1.3 .5 0 .5 1.5 .5 .5 .5 1.4 .5 .2 .5 1 .5 1.4 .5 .3 .5 .3 .5 1.8 .5-.2 .5 1.2 .5 .3 .5 .5 .5-.9 .5 3.3 .5-.6 .5 2 .5 1.4 .5-1.6 .5 2.2 .5-.1 .5 1 .5-.5 .5 1.5 .5 .8 .5 1.6 .5 1.2 .5-.6 .5 .2 .5 2.5 .5-.9 .5 .7 .5 .8 .5 1 .5 .9 .5-.3 .5 1 .5 2.1 .5 .5 .5-.2 .5 .6 .5 .2 .5 1.6 .5-.5 .5 1 .5 .2 .5 .4 .5 1 .5 .5 .5 0 .5 .9 .5 .5 .5 0 .5 .2 .5 .7 .5 1 .5 .5 .5-.4 .5-.1 .5 .3 .5 1.5 .5-.6 .5-1.3 .5 .7 .5-.4 .5-.1 .5-1.1 .5 .9 .5-1.3 .5 .2 .5 1.1 .5-.9 .5-1.8 .5-.6 .5-.4 .5-1.2 .5-.2 .5-.5 .5-1.8 .5-.1 .5-1.9 .5-1.6 .5 .6 .5-1.4 .5-.8 .5 1.5 .5 .4 .5-.2 .5 2.3 .5 1.2 .5 .9 .5 3.9 .5 .9 .5-.7 .5 2.6 .5-.2 .5 3.1 .5 .1 .5 .5 .5 1.4 .5-.7 .5 0 .5 1 .5-.6 .5 1 .5-.5 .5 .8 .5 0 .5 .3 .5-1.2 .5 2.2 .5-1.3 .5 1.5 .5-1.6 .5 .4 .5 .1 .5 1.1 .5-1 .5 .7 .5-1.3 .5 .8 .5 .6 .5-.1 .5-1.2 .5 1.8 .5-1 .5 2.2 .5-1.5 .5 1.8 .5-1.1 .5 0 .5-.7 .5 .4 .5 .4 .5-1.7 .5 2.2 .5-1.5 .5 .7 .5-1.7 .5 2.3 .5 .3 .5-.3 .5 .1 .5-.5 .5 .5 .5 .8 .5-1.2 .5 .8 .5 .2 .5-.7 .5 .4 .5 .1 .5-.5 .5 2.2 .5-2 .5 1.6 .5-.4 .5-2.2 .5 1.7 .5 .7 .5-.1 .5-1.2 .5 .9 .5-.9 .5 .2 .5 .6 .5 .4 .5 1.1 .5-.8 .5 .6 .5-1.6 .5 .1 .5 .6 .5 1.7 .5-2.2 .5 0 .5 1.1 .5 1 .5-1.9 .5 1 .5-.7 .5 2.1 .5-.4 .5-.3 .5-.1 .5-.1 .5 .4 .5-.5 .5-.1 .5-.1 .5 .9 .5-.5 .5 1.3 .5-2.1 .5 2 .5 .1 .5 .5 .5-1 .5-.8 .5 .5 .5 1.6 .5-1 .5 0 .5 0 .5 .4 .5 0 .5-.9 .5 .8 .5 1.2 .5 .4 .5-1.1 .5-.2 .5 1.5 .5-1.1 .5-.6 .5 .8 .5 .7 .5 .7 .5-1.4 .5 .8 .5-.6 .5 1.2 .5-.6 .5 .1 .5-.9 .5 .6 .5 .1 .5-2.4 .5 3.4 .5-.6 .5-.1 .5 0 .5 .4 .5 .2 .5-1.1 .5 1.1 .5 .1 .5 0 .5-1 .5 1 .5-.7 .5 1.2 .5 .8 .5-.3 .5-.8 .5 0 .5 0 .5 .7 .5-.6 .5 .1 .5-1.3 .5 1.2 .5 .2 .5 .2 .5 1.4 .5-1.9 .5 .1 .5 1.5 .5-1.1 .5 .7 .5 .3 .5-.1 .5-.5 .5 1.3 .5 .5 .5-1.8 .5 .6 .5 1 .5-.8 .5-.5 .5 .5 .5 .9 .5-1.2 .5 .9 .5 .2 .5-.7 .5 .9 .5 .2 .5 .3 .5 0 .5-1.7 .5 1.8 .5-.2 .5 .3 .5-1.2 .5 1.3 .5-.3 .5-1.1 .5 1.8 .5-1.4 .5-.1 .5 1.1 .5-.7 .5 .8 .5-.4 .5 .4 .5 .5 .5-.6 .5 .7 .5 0 .5-1.1 .5 1.3 .5-.1 .5-.3 .5 .7 .5 .5 .5-.6 .5-1.6 .5 1.5 .5-.4 .5 0 .5 .5 .5-.4 .5 1.4 .5-.9 .5-.1 .5 .6 .5 .1 .5 .3 .5-.3 .5-.4 .5 .2 .5-1.6 .5 .5 .5 1.9 .5-.9 .5 1.6 .5 .1 .5-2.2 .5 1.2 .5 2 .5-2.6 .5 .9 .5-.4 .5 .1 .5 0 .5 .3 .5 .6 .5-1 .5 1 .5-.8 .5 1 .5-.1 .5-.7 .5 .7 .5-.5 .5 0 .5 1.5 .5-2 .5 1.8 .5 .2 .5-.9 .5 1.4 .5-.1 .5-1.5 .5 1.5 .5 0 .5-.7 .5 1 .5 .3 .5-1 .5-.8 .5 1.9 .5-.7 .5-.6 .5 1.1 .5-1.4 .5 1.6 .5 1.5 .5-3 .5 2.5 .5-.9 .5 .5 .5-.2 .5 1.2 .5-.3 .5-.4 .5-.3 .5 .8 .5 1.3 .5-1.6 .5 1.3 .5 .1 .5-1.6 .5 2.4 .5-.7 .5 1.8 .5-.3 .5-1.3 .5 .2 .5-.5 .5-.1 .5 1.7 .5-.6 .5 0 .5 .3 .5 .7 .5 .3 .5-.5 .5-.1 .5 .4 .5 1.5 .5-2.9 .5 .8 .5 1.3 .5-.1 .5 .9 .5 .2 .5 .6 .5-1.9 .5 1.1 .5-.5 .5 1 .5-.5 .5 .6 .5-1.1 .5 .8 .5-.4 .5 .3 .5-.1 .5-.3 .5 1.7 .5-.5 .5 .6 .5-1.4 .5-.7 .5 1.1 .5 .4 .5 .8 .5 .2 .5 .2 .5 .3 .5-.5 .5-.4 .5-.6 .5 1.1 .5-.8 .5-.2 .5 1.1 .5-.2 .5 .5 .5-1.1 .5 1.4 .5-.6 .5-.3 .5-.4 .5-.2 .5-.2 .5 2.1 .5-2 .5 1.5 .5-.6 .5-.2 .5 .1 .5 .4 .5 .7 .5-.2 .5-.3 .5-1 .5-.3 .5 2.7 .5-2 .5-.4 .5 2 .5-1.9 .5 1.7 .5 .2 .5-.5 .5 .6 .5-1.7 .5 .1 .5 .8 .5 .2 .5 0 .5 .4 .5-.9 .5-1 .5 1.9 .5-.4 .5 .8 .5 1 .5-1.5 .5 .4 .5-1 .5 1.3 .5-.4 .5 0 .5 .5 .5-1.5 .5 1.3 .5 0 .5 .8 .5-2.5 .5 1.3 .5 1.7 .5-1.9 .5 0 .5 1.7 .5 .6 .5-1.8 .5-.6 .5 .2 .5 .1 .5-.3 .5 .1 .5 .7 .5-.1 .5 .4 .5-.3 .5-.9 .5 1.4 .5-.3 .5-.6 .5 .3 .5 .4 .5-.1 .5-.2 .5 .7 .5 .2 .5-1 .5 .3 .5-.8 .5 .7 .5 .5 .5 .3 .5-.5 .5-.2 .5-.4 .5 .7 .5-1 .5 1 .5-.1 .5-.7 .5 1 .5-.4 .5 .6 .5-.8 .5 .7 .5 .9 .5-1 .5 .4 .5-1 .5 .2 .5-1.1 .5 1.3 .5-.7 .5 .9 .5-1.6 .5 .9 .5 .8 .5 .2 .5-1.5 .5 .9 .5 2.2 .5-1.2 .5-.5 .5-2.1 .5 1.3 .5 1.1 .5-.2 .5 .2 .5 .4 .5-.6 .5 .5 .5-1.9 .5 3.2 .5-2.1 .5-.2 .5 1.6 .5-.7 .5 .3 .5-1.1 .5 .6 .5 .4 .5-1.4 .5 .7 .5 0 .5 0 .5-.3 .5-.4 .5 1.2 .5-.1 .5 .7 .5-.9 .5-.4 .5-.6 .5 1.1 .5-.3 .5 1.7 .5 .3 .5-.6 .5-1.8 .5-.3 .5 .8 .5-.5 .5 1.7 .5-.9 .5-.4 .5 .3 .5 .9 .5-1.6 .5 1.1 .5-1.4 .5 .8 .5-.3 .5 .6 .5-.1 .5 .7 .5-.5 .5-1 .5-.6 .5 .3 .5 .1 .5 .1 .5-.5 .5 1.2 .5-.2 .5-1.1 .5-.3 .5 .1 .5 0 .5-.2 .5-1.3 .5 .7 .5-1.2 .5 1.2 .5 .3 .5-1.4 .5 .7 .5-.7 .5-.3 .5 1.8 .5-1 .5-.4 .5-.9 .5 .5 .5-.7 .5 .3 .5-1.1 .5 .4 .5-.4 .5-.9 .5 2.1 .5-.8 .5-1.4 .5-.6 .5 .4 .5-.3 .5 .1 .5-.9 .5 .4 .5 .5 .5 .1 .5-2 .5 1.3 .5-.9 .5-.2 .5 .3 .5-.5 .5 .9 .5-.2 .5-1 .5-.4 .5 1.6 .5-.2 .5-1.2 .5-.6 .5 .6 .5 .2 .5-1.7 .5 1.6 .5-1.6 .5 .7 .5-1.3 .5 .3 .5-.5 .5 .2 .5 .6 .5-1.5 .5 .3 .5 .6 .5-.8 .5 1.8 .5-2.7 .5 3 .5-2.4 .5 1.2 .5 .6 .5-.8 .5-1.3 .5 .9 .5 .5 .5 .5 .5 .5 .5 .3 .5 .5 .5-1.5 .5 1.7 .5-1.8 .5 1.7 .5-.7 .5-.2 .5 2.3 .5-.4 .5 1 .5-1.6 .5 .5 .5 1.1 .5-.1 .5 .8 .5-.3 .5 .5 .5-.3 .5 2 .5-.9 .5-.3 .5 1.7 .5 .2 .5 .1 .5 .3 .5-.1 .5 .6 .5-1.2 .5 .8 .5 .6 .5 1.4 .5 1.1 .5-.7 .5 .2 .5 1.4 .5-.9 .5 1.1 .5 .1 .5-1.1 .5 1.5 .5 .1 .5-.8 .5 .3 .5-.1 .5 2.1 .5 .7 .5-1 .5 .8 .5-2.1 .5 2.1 .5 .5 .5-.2 .5-1.8 .5 1.6 .5-.8 .5 .9 .5-1.2 .5 .6 .5-.4 .5 .9 .5-.4 .5 1 .5-.1 .5-.3 .5-.3 .5-.1 .5 .3 .5 .6 .5-.4 .5 .2 .5-.2 .5 0 .5-.3 .5-.9 .5 1.9 .5 0 .5-1.1 .5 2.2 .5-2.2 .5 1.7 .5-.5 .5 0 .5 .7 .5-.1 .5-.6 .5-.8 .5-.1 .5 1.1 .5 1.1 .5-.5 .5-.6 .5 .3 .5 .3 .5 .8 .5-1.8 .5 1.1 .5-.3 .5-.7 .5-.2 .5 1.8 .5-.7 .5-.4 .5 .3 .5 .7 .5-.7 .5 1.2 .5-1.4 .5-.3 .5 .5 .5-.6 .5 .5 .5 1.2 .5 .3 .5-.7 .5-.4 .5-.8 .5 0 .5 1 .5-.1 .5-.5 .5 .1 .5 1.5 .5-.4 .5-.7 .5 .2 .5 .8 .5-.7 .5-.1 .5-1.3 .5-.1 .5-.2 .5-.2 .5 1.7 .5 .3 .5-.9 .5 1 .5 0 .5-.4 .5-1 .5 2.2 .5-.1 .5-1.4 .5 1.9 .5-1.4 .5-.6 .5 .3 .5-1.1 .5 1.1 .5-.9 .5 2.1 .5-.6 .5-1.3 .5 1.5 .5-1.7 .5 1.4 .5 .2 .5-.2 .5-.9 .5 .7 .5 0 .5 .2 .5 1.1 .5 .1 .5 0 .5-1.7 .5-.1 .5 .6 .5 .3 .5-1.8 .5 1.1 .5 1.8 .5-2.3 .5 .4 .5 .1 .5 .9 .5-.4 .5-.2 .5-.9 .5 1.6 .5-.5 .5-.5 .5 .6 .5 .6 .5-1.7 .5-.1 .5 .4 .5 .1 .5-1.6 .5 1.9 .5 1.3 .5-1.1 .5 1 .5-2.9 .5 2.1 .5 1.1 .5 .1 .5-1.5 .5-.2 .5 .9 .5-1.2 .5 .6 .5-1 .5 1.4 .5-.1 .5 1.2 .5-.9 .5-.8 .5 .5 .5-.9 .5 1 .5-.2 .5 .5 .5 .4 .5-2.2 .5 1.7 .5 .3 .5-1.4 .5 2.3 .5-2 .5 2.4 .5-1.2 .5 .1 .5-.5 .5 .5 .5-1.5 .5 .2 .5-.9 .5 1.9 .5-.9 .5 1.1 .5-.2 .5-1.4 .5 1.5 .5-.3 .5 0 .5 .1" fill="none" stroke="#fcc22a" stroke-width="3.20" stroke-linejoin="round" stroke-linecap="round"/>
<path d="M105.6 762.0l.5 .7 .5 1.6 .5-.8 .5 .5 .5 1.1 .5 2.1 .5-.3 .5 2.4 .5-3.1 .5 2.5 .5 .9 .5 1.3 .5 1.5 .5-.5 .5 .1 .5 2 .5 1.2 .5-2.4 .5 3.1 .5 .4 .5-.2 .5 .9 .5 1.2 .5 .5 .5 .4 .5-.1 .5 1.7 .5-.1 .5 1.1 .5 .1 .5 1.2 .5 1 .5 .1 .5 .9 .5-1 .5 2 .5 .4 .5-.1 .5 .9 .5-1.4 .5 2.8 .5 .2 .5-.8 .5 2.7 .5-.3 .5 1.3 .5 .2 .5 1.2 .5 .3 .5 .3 .5 1.2 .5 .8 .5-1.7 .5 2.3 .5 .2 .5 .2 .5 2.4 .5 .3 .5-.9 .5 .5 .5 2 .5-.5 .5 .8 .5-.7 .5 1.9 .5 1.5 .5-.7 .5 .8 .5 1.9 .5-.1 .5 .8 .5-.1 .5 .9 .5-1.7 .5 1.1 .5-.2 .5 3.3 .5-1.2 .5 .2 .5-.1 .5 .1 .5-1 .5 4.1 .5-1.5 .5 .4 .5-.8 .5 1.2 .5 .6 .5-.2 .5 .7 .5-.9 .5 1 .5 .5 .5-.2 .5-.1 .5-.3 .5-.6 .5 1 .5-.9 .5-.7 .5 .8 .5-2.3 .5 .2 .5 .3 .5-.6 .5-1.9 .5-.5 .5-.6 .5-1.4 .5-1.5 .5-.1 .5-1.2 .5-1 .5-.3 .5-1.5 .5-1.6 .5-.4 .5 .4 .5-2.8 .5-.5 .5-1.2 .5-.1 .5-2.2 .5 .2 .5-.8 .5-2.3 .5-1.1 .5-1.5 .5 .1 .5-1.9 .5-.5 .5-.8 .5-1 .5 .5 .5 0 .5-3.3 .5 .7 .5 .6 .5-1 .5 .6 .5 1 .5 1.6 .5 .6 .5-.1 .5 1.4 .5 .8 .5 1.4 .5 .5 .5 .8 .5 2.3 .5 2.3 .5 1 .5-1 .5 2.2 .5 .5 .5 1.3 .5-.4 .5 2.1 .5-.3 .5 1.1 .5 .8 .5-1.6 .5 1.7 .5 1.8 .5-.7 .5 1.2 .5 0 .5-.3 .5 1 .5 1.1 .5 .6 .5 .6 .5-1.5 .5 2 .5-1.2 .5 1.5 .5 .5 .5 1.2 .5 .4 .5 1.3 .5-.7 .5 1.7 .5 .4 .5 .4 .5-.2 .5 2.1 .5 .5 .5 1.1 .5 .2 .5 .6 .5 1.3 .5 .8 .5 1 .5 1.7 .5-1.1 .5 2.8 .5-2.9 .5 3.7 .5-.5 .5 2.9 .5-1.3 .5 2.3 .5-.8 .5 .7 .5 2.2 .5 .9 .5-.5 .5 3.1 .5-1.3 .5 2.2 .5-1.2 .5 .7 .5 1.5 .5-.2 .5 1.8 .5-1.3 .5 2.5 .5 .2 .5 .5 .5 1.6 .5 .5 .5 .6 .5 1.7 .5 .4 .5 .9 .5 1.5 .5-.3 .5 1.5 .5-.2 .5 1.6 .5 .6 .5 0 .5-.1 .5 .9 .5 .9 .5 1.8 .5 .1 .5 .4 .5 1.1 .5 .7 .5 1 .5-1.1 .5 1.3 .5 .4 .5-.9 .5 1 .5-.6 .5 .7 .5 .5 .5-1.6 .5 .6 .5-.2 .5 .5 .5-1 .5 .5 .5-1.3 .5-.2 .5 .3 .5-.8 .5-.7 .5-.7 .5 .2 .5-.3 .5-2.1 .5-1.4 .5-1.5 .5 .7 .5-3.3 .5-1.5 .5 .2 .5-.2 .5-2 .5 1.1 .5-.1 .5 2 .5 3.5 .5 .8 .5 1.4 .5 1.8 .5 1.8 .5 1.6 .5 1 .5 1.7 .5 3.8 .5-1.2 .5 1.8 .5-1.3 .5 1.7 .5-.3 .5-.5 .5 1.8 .5-2.1 .5 .7 .5-.4 .5 .2 .5 .4 .5-.3 .5 .6 .5 1.5 .5-2.4 .5 .5 .5 .3 .5 .4 .5 1.2 .5-.1 .5-.1 .5-.2 .5 1.7 .5-2.5 .5 0 .5 .9 .5 .2 .5-.3 .5-.4 .5-.3 .5 .9 .5-.3 .5 .2 .5-.4 .5 1.8 .5-.6 .5 1.1 .5-1.7 .5 .4 .5-.2 .5 .3 .5-.2 .5 .1 .5-1.3 .5 1.3 .5 .7 .5-1.9 .5 1.2 .5 .8 .5 .5 .5-.9 .5 .4 .5 1 .5-.3 .5-1.2 .5-.1 .5 1.3 .5-.5 .5-.5 .5 .3 .5 .4 .5-.3 .5 .1 .5 .1 .5-.9 .5 2.5 .5-.3 .5 .3 .5-1.1 .5 .3 .5 .4 .5 .3 .5-1.9 .5 1.7 .5-.9 .5 .8 .5-.3 .5 1.8 .5-.7 .5-.3 .5 1.1 .5-1 .5-.3 .5 .5 .5-.1 .5 .5 .5 .7 .5-.6 .5 .1 .5 .9 .5-.4 .5 .6 .5-.5 .5-1 .5 .3 .5-.3 .5 2.2 .5-.4 .5-.6 .5-.3 .5 1.2 .5-.3 .5 .5 .5-.8 .5-.1 .5 2.1 .5-1.8 .5 .8 .5 1.2 .5-2.3 .5 2 .5-.4 .5 0 .5 .4 .5-1 .5-.7 .5 3.2 .5-1.6 .5 1 .5 .3 .5-.6 .5 .2 .5 .3 .5 .7 .5-.7 .5 .7 .5-1.1 .5 0 .5 .4 .5 .3 .5 .2 .5 1.1 .5-.7 .5-.6 .5 1.5 .5-1.1 .5 0 .5 .2 .5-.6 .5-.5 .5 1 .5-.3 .5-.3 .5 .8 .5-.2 .5-.3 .5-.8 .5 1.2 .5 1.5 .5-.6 .5 .2 .5-.8 .5 .9 .5-1.2 .5 .2 .5 .7 .5-1.4 .5 1.2 .5 .2 .5 1.1 .5-1.8 .5 .9 .5-.7 .5 .1 .5-1.6 .5 1.4 .5 1.6 .5-.5 .5-.2 .5 1.8 .5-1.4 .5-1.3 .5 .8 .5 .2 .5 1.3 .5-1.9 .5 1.1 .5 .4 .5-1.2 .5 .7 .5-1.5 .5 1.6 .5-1.7 .5 1.4 .5 1.6 .5-.9 .5-.2 .5 .1 .5 1.5 .5-1.1 .5 .4 .5-1 .5 0 .5-.4 .5 .8 .5-.4 .5 1.3 .5-.2 .5-.5 .5-.2 .5-1.7 .5 1.8 .5 .7 .5 .4 .5-2.7 .5 .5 .5 2 .5-.8 .5 .7 .5-.1 .5 .8 .5-1.7 .5 1 .5 1.2 .5-.4 .5-.7 .5 1 .5 0 .5-.8 .5 1.3 .5 .1 .5-.5 .5 .8 .5-1.4 .5 1.5 .5-.6 .5-.5 .5 .4 .5 1.4 .5-1.2 .5 .3 .5-.2 .5 0 .5 1.4 .5 1.1 .5-.6 .5-.5 .5 .3 .5-.7 .5 0 .5-.4 .5 2 .5-1.2 .5-.2 .5 .2 .5 .7 .5-.4 .5 .5 .5 .2 .5 1 .5-1.8 .5 1.2 .5-.6 .5 .3 .5 1.6 .5-.6 .5-.6 .5 .7 .5-.2 .5 .9 .5-1.1 .5 .9 .5-.4 .5 .2 .5 0 .5-.2 .5 .6 .5 .8 .5-1.1 .5 .3 .5 .7 .5-.8 .5 1.3 .5 0 .5-2.1 .5 1.3 .5-.2 .5 1.5 .5 .2 .5-1.5 .5 .5 .5 .6 .5-.1 .5 .9 .5 .3 .5-.2 .5 .5 .5-.1 .5-.6 .5-.2 .5-.1 .5 1.2 .5 .2 .5 .2 .5-.9 .5 0 .5 .6 .5 .8 .5-.6 .5 0 .5-.7 .5 1.1 .5 .1 .5-1 .5 2.1 .5-1.9 .5 1.4 .5-.7 .5 .3 .5-.6 .5 .2 .5 1.1 .5-.6 .5-.1 .5 1 .5 0 .5-.4 .5 .1 .5 1.2 .5-1.3 .5 .4 .5 .1 .5-1.3 .5-.3 .5 1.6 .5 .6 .5-.4 .5-.5 .5 0 .5 1.1 .5-.7 .5-.9 .5 1.7 .5-.2 .5 .1 .5 .6 .5 .3 .5-.5 .5-.5 .5-1.4 .5 1.9 .5-.3 .5 1.1 .5 .1 .5-.6 .5 .8 .5-1.1 .5 .1 .5-.5 .5 .5 .5 .4 .5 .7 .5-1.3 .5 1.2 .5 1.2 .5-2.7 .5 .9 .5 .2 .5 .8 .5 .8 .5-.5 .5-.9 .5-.5 .5 .6 .5 .1 .5 .2 .5-.8 .5 1.9 .5-1.7 .5 1.1 .5-.3 .5-.9 .5 .9 .5 0 .5-.1 .5 .8 .5-1 .5 2.3 .5-1 .5-1.5 .5-1.1 .5 2.8 .5-.7 .5-.1 .5-.8 .5-.3 .5-.3 .5 3.3 .5-.7 .5-1.5 .5 1.8 .5-2.8 .5 1.9 .5 .1 .5-1.2 .5 .3 .5-.4 .5 .8 .5 1 .5-.2 .5-.4 .5 .5 .5-2.1 .5 2.8 .5-1.5 .5-.9 .5 .7 .5-.2 .5 .5 .5 .2 .5-1.9 .5 2.7 .5 .3 .5-2 .5 1.9 .5-.2 .5-.2 .5 .5 .5-2.2 .5 1.6 .5-1.3 .5 2.5 .5-2.5 .5-.1 .5 1.7 .5-.3 .5-.5 .5 .1 .5 .4 .5 .8 .5-1.8 .5 .2 .5 0 .5 .3 .5 .1 .5-.9 .5 1.2 .5-1.2 .5 .7 .5 .1 .5 0 .5 1.3 .5 .1 .5-.4 .5 .4 .5-1.4 .5 1.3 .5-1.1 .5 .2 .5 .1 .5-1.2 .5 .5 .5 .4 .5 .4 .5-.4 .5-.5 .5-.3 .5 .9 .5-.9 .5 0 .5 .9 .5 .2 .5-.8 .5-.7 .5 1.6 .5 .4 .5-.9 .5 0 .5-1.5 .5 2.5 .5-1.5 .5 1.3 .5-1 .5 .4 .5-.1 .5-1.2 .5 3.5 .5-3.3 .5 1.3 .5-.7 .5 .4 .5 1.2 .5-2.4 .5 1.3 .5 .5 .5-.3 .5 .2 .5-.9 .5-.7 .5 .2 .5 .6 .5 .9 .5-.6 .5 1.1 .5-1.2 .5 0 .5 0 .5-1.5 .5 1.6 .5-1.3 .5 .4 .5 2 .5-2.8 .5 .9 .5 .1 .5-.3 .5-.2 .5-.5 .5 1.8 .5-3.1 .5 .6 .5 1.8 .5-.8 .5-1.1 .5-.3 .5 .4 .5 2 .5-1.7 .5-1.3 .5 .8 .5-.7 .5 1.4 .5-1 .5 .6 .5-1 .5 1.3 .5-1.4 .5-.2 .5-1.1 .5 .3 .5 .5 .5-.8 .5 2.1 .5-2 .5-.7 .5 1.1 .5-1.2 .5 .5 .5-.5 .5-.6 .5 1.5 .5-1.2 .5 .6 .5-1.2 .5-1 .5-.1 .5 .4 .5 0 .5 0 .5 .1 .5-1.5 .5 .9 .5-1.4 .5 .2 .5 2.2 .5-1.2 .5-1.5 .5 1.4 .5-.5 .5-.7 .5 .2 .5-1.5 .5-.2 .5-.8 .5 .9 .5-1.7 .5 .4 .5 .4 .5-.9 .5 .4 .5 .9 .5-2.4 .5 1.6 .5-1.8 .5-.4 .5 .7 .5 .4 .5-1.5 .5-.2 .5 .1 .5-.4 .5 .5 .5-.8 .5 .2 .5 .3 .5-.7 .5 1.1 .5-1.4 .5-.2 .5 2 .5-.4 .5-1.1 .5 .5 .5-.3 .5-.7 .5 1 .5-.3 .5 .8 .5-2.2 .5 2.1 .5-.4 .5-.5 .5 .4 .5 .2 .5-.5 .5 .7 .5 1.3 .5-1.6 .5 1.1 .5-1.3 .5 1.6 .5 1 .5-.1 .5 .3 .5-.7 .5 1.5 .5-.8 .5 1.6 .5-.2 .5-.1 .5 1.8 .5-1 .5 1.5 .5-.2 .5 .3 .5 1.3 .5 0 .5 .2 .5 .4 .5 .7 .5 .4 .5 .1 .5 0 .5-.8 .5 2.3 .5 .3 .5 1.5 .5-.2 .5 .8 .5 .7 .5-1.1 .5-.4 .5 1.4 .5-.9 .5 .5 .5 1.4 .5-.5 .5 .6 .5-1.7 .5 1.2 .5 1 .5-1.7 .5 1.3 .5 .3 .5-1.9 .5 3.1 .5-1.6 .5 .6 .5 1.5 .5-2.5 .5 1.9 .5-.6 .5 .5 .5-.5 .5 1.7 .5-1.7 .5 1.2 .5 .3 .5-.4 .5 0 .5 .1 .5 1.1 .5-.3 .5-.3 .5-.7 .5 1.1 .5 .3 .5-.3 .5 1.2 .5-2.4 .5 3.4 .5-2 .5-.6 .5-.4 .5 2.1 .5-.2 .5-.5 .5 .2 .5 .2 .5-.4 .5 1.3 .5-.3 .5-.5 .5-1.1 .5 2.3 .5-1.4 .5-.3 .5 1.8 .5-.6 .5-1.8 .5 .3 .5 .9 .5-.6 .5 .9 .5 2.1 .5 .3 .5-2.3 .5 .7 .5 .1 .5-.7 .5-1 .5 1.9 .5-.9 .5 .5 .5 .2 .5-1.1 .5 1.9 .5-1.2 .5 .2 .5-.5 .5 .9 .5 .2 .5-1.1 .5 .8 .5-.7 .5-.6 .5 .7 .5 .8 .5-.1 .5 .5 .5-1.3 .5 .3 .5 .3 .5 .4 .5-.5 .5-.6 .5-.5 .5 2.1 .5-.1 .5-1.2 .5 1.6 .5-1.2 .5 .5 .5 .6 .5-1.3 .5-.2 .5-.7 .5 1.5 .5 .2 .5 .3 .5-.2 .5-.3 .5 .8 .5-1.7 .5 1.1 .5 .1 .5-.4 .5 1.4 .5-1 .5 .7 .5-.3 .5-.8 .5 1.6 .5-.6 .5-.8 .5-.1 .5-.7 .5 .7 .5 0 .5 .3 .5-.4 .5 .7 .5-.5 .5-1.1 .5 .9 .5-.3 .5-.3 .5 .8 .5 .9 .5-1.5 .5-.7 .5 1.4 .5 2.4 .5-2.7 .5 .7 .5-.5 .5 .9 .5 .5 .5-1.2 .5 1 .5-1.7 .5 1 .5-1.1 .5 1.1 .5-.6 .5 .6 .5-1 .5 1.1 .5-.1 .5-.5 .5-.2 .5-.3 .5 .6 .5 .6 .5-.4 .5 .3 .5 .8 .5-1.2 .5 .5 .5 .4 .5-.2 .5-.1 .5-.3 .5 1.4 .5-1.5 .5-.2 .5 .7 .5 .8 .5-.1 .5-1.1 .5 .6 .5-.2 .5-.3 .5 .4 .5 0 .5-.4 .5 1.2 .5-1.6 .5 1.4 .5 .5 .5 0 .5-1.4" fill="none" stroke="#2db462" stroke-width="3.20" stroke-linejoin="round" stroke-linecap="round"/>
<path d="M105.6 740.5l.5-.7 .5 1.5 .5 2.2 .5-2.6 .5 .3 .5 2.2 .5 .2 .5-1.5 .5 1.7 .5 .6 .5-1 .5 2.2 .5-1.3 .5 2.2 .5-.3 .5-.4 .5-.3 .5 1.3 .5 .6 .5 .3 .5 .1 .5 .6 .5 1.2 .5-1 .5 .9 .5 .9 .5 0 .5 1.1 .5 .9 .5-1.1 .5 .8 .5-2 .5 2.4 .5 1.1 .5-1 .5 2.3 .5-2 .5 2.9 .5-1 .5 .1 .5 .9 .5 .7 .5-.1 .5 .3 .5 1.1 .5 1.7 .5 .1 .5 1.2 .5-.9 .5 .7 .5 .5 .5 .9 .5 .8 .5 1.5 .5-.3 .5 .1 .5 1.4 .5-1.1 .5 .1 .5 2 .5 0 .5 .5 .5 1 .5-.6 .5 .6 .5 .8 .5 .5 .5 .6 .5-.4 .5 .4 .5-1.7 .5 3 .5-1.9 .5 1.3 .5 2.1 .5-2.1 .5-.8 .5 2.4 .5-1.6 .5 .3 .5-.1 .5 .7 .5-.1 .5-.7 .5 .8 .5-1.7 .5 1.1 .5-1.2 .5 .9 .5-1.3 .5 0 .5 1.2 .5-2.2 .5-.3 .5 1 .5-.9 .5-.4 .5-.2 .5 1.4 .5-2.7 .5 .2 .5-.2 .5-1.8 .5-.7 .5-1.3 .5-3 .5-.8 .5-4.2 .5-1.9 .5-2.5 .5-.8 .5-6.7 .5-1.6 .5-1.3 .5-5.3 .5-1.6 .5-3.5 .5-3.8 .5-1 .5-3.1 .5-1.6 .5-3.5 .5-.6 .5-4.6 .5-.4 .5-.8 .5-2.3 .5-2 .5-1.3 .5-1.5 .5 1.1 .5-3.2 .5-.8 .5-1.1 .5-.1 .5 1.2 .5-.1 .5 1.2 .5 1.7 .5 1.8 .5 2.1 .5 1.5 .5 2.6 .5 2.2 .5 4.2 .5 1.8 .5 2.2 .5 3.2 .5 2.7 .5 1.7 .5 3.9 .5 4.1 .5 1.5 .5 2.6 .5 .2 .5 .7 .5 1.7 .5 2.7 .5-.7 .5 1.1 .5 2.4 .5-.2 .5 .9 .5 1.2 .5 .5 .5 .5 .5 1.1 .5-.1 .5 1.1 .5 1.2 .5-.7 .5 1.2 .5-.1 .5 2 .5 .5 .5 .8 .5 .6 .5 .7 .5 .4 .5-.5 .5 1.9 .5-.6 .5 3.1 .5-.8 .5 1 .5-.6 .5 2.5 .5 .8 .5-1.3 .5 1.5 .5 .8 .5 .6 .5 2.3 .5 1.4 .5-1.7 .5 2.3 .5-.2 .5 2 .5-2.2 .5 2.3 .5 1.9 .5-.7 .5 2.1 .5-.5 .5 1.9 .5 .3 .5-.1 .5 .4 .5 1.1 .5 1.6 .5-.2 .5 .1 .5 3.6 .5-3 .5 1.6 .5 1.2 .5-.6 .5 1.4 .5 .4 .5-.2 .5 2.1 .5-.5 .5 1 .5 2.1 .5-1 .5 1.9 .5 1.1 .5 .5 .5 .3 .5 .1 .5-.2 .5 1.8 .5 .8 .5-.1 .5 .3 .5 1.9 .5-.9 .5 1.7 .5-.2 .5-.4 .5 3 .5-.3 .5 .3 .5-1 .5 1.3 .5 .6 .5-.4 .5 2 .5-2.5 .5 2.2 .5-1.8 .5 .4 .5 .3 .5 1.4 .5-1 .5-.2 .5-.5 .5-.8 .5-.1 .5-.7 .5-.1 .5-.7 .5-2.3 .5 .6 .5 .4 .5-2.6 .5-1.3 .5-2.1 .5-1.5 .5-.8 .5-1.9 .5 .4 .5-.8 .5 2.6 .5 .2 .5 3.6 .5 2.2 .5-.1 .5 3.1 .5 .5 .5 2.4 .5 0 .5 1.3 .5 .9 .5 1.8 .5-2.1 .5 2.2 .5-.4 .5-.2 .5 .3 .5 1.1 .5 0 .5 .8 .5-1.6 .5-.8 .5 1.1 .5 .4 .5-.1 .5 1.4 .5 .9 .5-1.4 .5-1.5 .5 2.2 .5-1.2 .5 .6 .5 .6 .5-.2 .5-.3 .5 .3 .5 .4 .5 0 .5 1.1 .5-3.7 .5 1.7 .5 .2 .5 1.1 .5-.4 .5 .5 .5-1.7 .5 1 .5 .6 .5-.4 .5-.2 .5 .5 .5 1.1 .5-2.8 .5 2.8 .5-.9 .5-.8 .5 1.2 .5-.4 .5 1 .5-1.5 .5 1.4 .5-1.3 .5 1 .5 .4 .5-.5 .5 .6 .5-.8 .5 1.4 .5-1.1 .5 0 .5 .5 .5 .2 .5-.4 .5 1.3 .5-.5 .5 .7 .5-1.4 .5 .2 .5 1 .5-.4 .5 .8 .5 .7 .5 .6 .5 .4 .5-.3 .5-1 .5 1.1 .5-.6 .5 1 .5-1.1 .5 2 .5-.5 .5-.4 .5-.6 .5 1.4 .5-.4 .5 .7 .5-.5 .5 .3 .5 1 .5 .8 .5-1.9 .5 1 .5 .6 .5-.3 .5 0 .5 2.1 .5-2.1 .5 1 .5-.5 .5 .4 .5-1.5 .5 2.5 .5-.7 .5-.4 .5 2 .5-1.3 .5-.2 .5 0 .5 1.5 .5-.7 .5-.2 .5-.7 .5 .4 .5 1 .5-.2 .5-1.4 .5 .9 .5 .9 .5 1.9 .5-2.5 .5-1 .5 2.3 .5-.9 .5-.6 .5 1.5 .5-.5 .5-.5 .5-.2 .5 .9 .5 .2 .5-1.3 .5 2.1 .5-1.6 .5 2 .5-.7 .5-.4 .5 .5 .5-.7 .5 .5 .5 1.3 .5-1.6 .5 1.1 .5-1.3 .5 .7 .5 .8 .5-1.6 .5 1.2 .5-1.8 .5 .8 .5 .6 .5 1 .5-.1 .5-1.2 .5 .7 .5 .2 .5-1.2 .5 1.5 .5 .7 .5 0 .5-1.3 .5 .1 .5-.3 .5 .3 .5 .3 .5 .7 .5-.4 .5-.7 .5 1.3 .5 .1 .5-1.1 .5 .4 .5 .1 .5-1.1 .5 1.4 .5 .4 .5 1 .5-1.3 .5-.3 .5 .2 .5 .6 .5 .2 .5-1.2 .5 .8 .5 .4 .5-2 .5 2.6 .5-1.1 .5 .9 .5-.7 .5-.1 .5 .2 .5 .3 .5 .5 .5-.8 .5-.6 .5 .4 .5-.2 .5 1.4 .5-1.2 .5 1.9 .5-1 .5-.1 .5 1.1 .5-1.2 .5 .1 .5 .9 .5 0 .5-1.2 .5 2.7 .5-1.4 .5-1.3 .5 .9 .5 .9 .5-.5 .5 .6 .5 1.2 .5-1 .5 .8 .5-.9 .5-.9 .5 1.7 .5-1.6 .5 1.3 .5-.1 .5-1.1 .5 .2 .5 .5 .5 .5 .5 .7 .5-.8 .5 1.4 .5-.7 .5-1 .5 .1 .5 .6 .5-.4 .5 .4 .5 .7 .5-.3 .5 .6 .5-1.2 .5 0 .5-.3 .5-.2 .5 1 .5 .5 .5-.1 .5 .2 .5 1.6 .5-2.3 .5 .7 .5 0 .5-.3 .5 1.8 .5-1 .5 1.1 .5-1.7 .5 2.3 .5 .4 .5-2.3 .5 .7 .5 0 .5 .6 .5-1.3 .5 1.4 .5 .3 .5-1 .5-1.1 .5 1.2 .5 .3 .5 1 .5-1 .5-.3 .5 1.4 .5-.1 .5 .3 .5-.4 .5 .8 .5-.3 .5-1.7 .5 1.6 .5 .5 .5-.5 .5 1.2 .5-1.4 .5 1 .5-1.4 .5 1 .5-.4 .5-.2 .5-.2 .5 1.2 .5 .2 .5-.7 .5-.4 .5 .4 .5 1.3 .5-1.4 .5 1.8 .5-2 .5 1.5 .5 .4 .5 .5 .5-1.2 .5-.2 .5-.4 .5 1.8 .5-.7 .5-.2 .5 .2 .5 .5 .5-.1 .5 1 .5-2.4 .5 2.3 .5-1 .5 .4 .5-.1 .5 .3 .5 .7 .5-.3 .5-1.2 .5 1.1 .5 0 .5 .5 .5-.2 .5 0 .5 .9 .5-1.5 .5 2.5 .5-2 .5-.3 .5 1.5 .5 .2 .5 .3 .5 .2 .5-.7 .5-.2 .5 .3 .5-.2 .5-.4 .5 1.7 .5 .2 .5-1.3 .5-.1 .5-.1 .5-.8 .5 .8 .5 .2 .5 .4 .5-.6 .5-.7 .5 2 .5 .9 .5-2.8 .5 1.5 .5 .8 .5-1.4 .5-.2 .5 1.2 .5-.2 .5-.2 .5 1.8 .5-.1 .5-.6 .5-.5 .5-.1 .5 .9 .5-.7 .5 1.3 .5-.1 .5-1.4 .5 1.1 .5 .7 .5-.7 .5-1.1 .5 .5 .5 0 .5 .4 .5 0 .5-.3 .5 1 .5 .4 .5-1.4 .5-.6 .5 1.4 .5-.2 .5 .3 .5-.7 .5 .7 .5-.8 .5 1.5 .5 .5 .5-1.9 .5-1.2 .5 1.6 .5 0 .5 .6 .5-.1 .5 .4 .5 1.8 .5-2.5 .5 .2 .5 .7 .5-1.7 .5 2 .5-1 .5-.6 .5 .5 .5 1.1 .5 .3 .5 .3 .5-.6 .5-.8 .5 1 .5-.4 .5 1.8 .5-3.3 .5 2.8 .5-.6 .5-.2 .5-.3 .5-.4 .5-.2 .5-.5 .5 2.8 .5-.8 .5-.2 .5-.2 .5-1.7 .5 1.3 .5 .3 .5 .8 .5-1.6 .5 1 .5-.4 .5 .2 .5-.6 .5 .9 .5-.2 .5-1.5 .5 2.4 .5 .7 .5-2.3 .5 1.5 .5-1.6 .5 .4 .5 1.7 .5-1.2 .5 1 .5-.9 .5 .5 .5-.8 .5 1.2 .5 .2 .5-.8 .5-1 .5 .2 .5-.4 .5 1.1 .5-.1 .5-.9 .5 1.2 .5-1.1 .5 1.8 .5-.8 .5 .6 .5-1.7 .5-.3 .5-.6 .5 1.9 .5-1.4 .5 1.9 .5-1 .5 .5 .5-1.6 .5 .5 .5 .6 .5 .4 .5-1.5 .5 1.2 .5-.9 .5 1.2 .5-.8 .5-.1 .5 .6 .5 .5 .5-1.1 .5 1.1 .5-1.7 .5 .9 .5-1 .5 .9 .5-.8 .5 .7 .5 .4 .5-1.2 .5-.6 .5 1.1 .5 .5 .5-.2 .5-.9 .5 1.3 .5-.9 .5 .7 .5-1.2 .5 .9 .5 .6 .5-1.4 .5 .2 .5 .6 .5-.1 .5-.1 .5-.4 .5-1.1 .5 1.1 .5-1 .5 1 .5-1.9 .5 2.8 .5 .3 .5-1.1 .5-1 .5 .3 .5 .8 .5-.3 .5-1.1 .5 1.3 .5-.5 .5-.4 .5-.8 .5 .1 .5-.8 .5 .5 .5-.9 .5 1.2 .5-1.1 .5-.2 .5-.1 .5-.3 .5-1.6 .5 1.8 .5-1.2 .5-.8 .5-.6 .5 0 .5-.3 .5 .2 .5-.9 .5 .4 .5-.3 .5-.9 .5 1.9 .5-2 .5 .1 .5-.4 .5-.5 .5 .4 .5 .3 .5-1.4 .5-.8 .5 .8 .5-2.2 .5 1.4 .5-.5 .5 .2 .5-1.6 .5 .5 .5-.7 .5 .1 .5 .6 .5-.8 .5-.6 .5 1.1 .5-1.1 .5-1.8 .5 .5 .5 .8 .5-.2 .5-.4 .5-.3 .5-1.1 .5 .3 .5-1 .5 0 .5-.4 .5-.2 .5 0 .5-.3 .5-.7 .5 1 .5-1.5 .5 1.1 .5-.7 .5-2 .5 1.2 .5-2 .5 1.8 .5-1.1 .5-1.3 .5-1.2 .5 1.1 .5-.9 .5 1.7 .5-1.9 .5 .6 .5 .5 .5-.4 .5 .2 .5-.2 .5 .9 .5-1 .5 1.5 .5-.9 .5 1.4 .5-.4 .5 1.2 .5 1.1 .5 1.1 .5-1.6 .5 1.4 .5 .5 .5 2.3 .5-.9 .5 1.8 .5-.2 .5-.1 .5 1.8 .5-.3 .5 1.9 .5 .6 .5 .9 .5-1.3 .5 2.4 .5 .1 .5-1.5 .5 3.5 .5 .1 .5-1.5 .5 1.5 .5-.7 .5 1.4 .5 .7 .5 .8 .5-.7 .5 1 .5-.3 .5 1.3 .5 .5 .5-.2 .5 1 .5-.1 .5-.1 .5 .8 .5-1.6 .5 1.1 .5-1.1 .5 1.5 .5-.2 .5 1.2 .5-.8 .5 0 .5 .6 .5 .1 .5 .7 .5-.9 .5-.3 .5 .1 .5 2.1 .5-1.6 .5 .7 .5-.3 .5 1.6 .5-.9 .5 1.4 .5-1.3 .5 .9 .5 .4 .5 .3 .5-1.5 .5 .7 .5 .4 .5-1.2 .5 1.9 .5-.1 .5 .2 .5-1.3 .5 1.2 .5 .3 .5 .5 .5-1.1 .5 1 .5 1 .5-1.7 .5 .1 .5 .1 .5-.8 .5 .9 .5 1.5 .5-1.8 .5 .6 .5 1.1 .5-.5 .5-.2 .5-.4 .5 .2 .5 .2 .5 .5 .5-.4 .5 .7 .5-2.1 .5 2 .5-.9 .5 .4 .5-.3 .5 .8 .5-.5 .5 .6 .5-1.1 .5 .8 .5 .8 .5 0 .5-1.1 .5 .4 .5-.4 .5 .3 .5 .1 .5 .9 .5-.4 .5 .6 .5 .1 .5-2 .5 1.2 .5-.6 .5-.8 .5 .4 .5 .5 .5 1.6 .5-1.1 .5-.2 .5 .1 .5-.5 .5 .7 .5-.2 .5-1.1 .5 .9 .5 2.9 .5-2 .5-.5 .5 .5 .5-1.1 .5 .8 .5 .6 .5-1.8 .5 .6 .5 .3 .5 .1 .5-.2 .5 .6 .5 .6 .5-.5 .5 .6 .5 0 .5-1.2 .5 .7 .5-.5 .5 .8 .5-.7 .5 .1 .5 1.4 .5-1.4 .5-1 .5 1.3 .5 .1 .5-.5 .5 .4 .5 .7 .5-1.1 .5 .3 .5-.4 .5 .8 .5-.4 .5-.5 .5 .6 .5 1.4 .5-2.6 .5 .3 .5 1.3 .5-1.3 .5 2.5 .5-2.5 .5 .1 .5 .6 .5 1.2 .5-.2 .5-.2 .5-.2 .5 .8 .5-2.3 .5 1.6 .5 .8 .5-1.8 .5 1 .5 .7 .5 0 .5-1 .5 1.5 .5-1 .5 .4 .5-1.6 .5 .3 .5 0 .5 1.8 .5-2.9 .5 .3 .5 2 .5-.5 .5-2.3 .5 1.9 .5 .1 .5 1.1 .5-2.3 .5 1 .5 1.2 .5-.2 .5-1.3 .5 .5 .5-.9 .5 2.1 .5-1.3 .5 1.2 .5-.3 .5-1.2" fill="none" stroke="#2a5c98" stroke-width="3.20" stroke-linejoin="round" stroke-linecap="round"/>
<path d="M136.7 609.9v9.0M136.7 1061.3v-9.0M198.6 609.9v9.0M198.6 1061.3v-9.0M260.5 609.9v9.0M260.5 1061.3v-9.0M322.4 609.9v9.0M322.4 1061.3v-9.0M384.3 609.9v9.0M384.3 1061.3v-9.0M446.2 609.9v9.0M446.2 1061.3v-9.0M508.1 609.9v9.0M508.1 1061.3v-9.0M570.0 609.9v9.0M570.0 1061.3v-9.0M631.9 609.9v9.0M631.9 1061.3v-9.0M167.6 609.9v4.8M167.6 1061.3v-4.8M229.6 609.9v4.8M229.6 1061.3v-4.8M291.4 609.9v4.8M291.4 1061.3v-4.8M353.4 609.9v4.8M353.4 1061.3v-4.8M415.2 609.9v4.8M415.2 1061.3v-4.8M477.2 609.9v4.8M477.2 1061.3v-4.8M539.0 609.9v4.8M539.0 1061.3v-4.8M601.0 609.9v4.8M601.0 1061.3v-4.8M105.2 1044.8h9.0M664.6 1044.8h-9.0M105.2 977.9h9.0M664.6 977.9h-9.0M105.2 911.0h9.0M664.6 911.0h-9.0M105.2 844.1h9.0M664.6 844.1h-9.0M105.2 777.2h9.0M664.6 777.2h-9.0M105.2 710.3h9.0M664.6 710.3h-9.0M105.2 643.4h9.0M664.6 643.4h-9.0M105.2 1011.3h4.8M664.6 1011.3h-4.8M105.2 944.4h4.8M664.6 944.4h-4.8M105.2 877.5h4.8M664.6 877.5h-4.8M105.2 810.6h4.8M664.6 810.6h-4.8M105.2 743.8h4.8M664.6 743.8h-4.8M105.2 676.8h4.8M664.6 676.8h-4.8" stroke="#000" stroke-width="2.9" fill="none"/>
<rect x="105.2" y="609.9" width="559.4" height="451.4" fill="none" stroke="#000" stroke-width="2.9"/>
<text x="136.7" y="1090.5" font-size="25.5" font-weight="bold" text-anchor="middle" fill="#000" font-family="'Liberation Sans', Arial, sans-serif">35</text>
<text x="198.6" y="1090.5" font-size="25.5" font-weight="bold" text-anchor="middle" fill="#000" font-family="'Liberation Sans', Arial, sans-serif">40</text>
<text x="260.5" y="1090.5" font-size="25.5" font-weight="bold" text-anchor="middle" fill="#000" font-family="'Liberation Sans', Arial, sans-serif">45</text>
<text x="322.4" y="1090.5" font-size="25.5" font-weight="bold" text-anchor="middle" fill="#000" font-family="'Liberation Sans', Arial, sans-serif">50</text>
<text x="384.3" y="1090.5" font-size="25.5" font-weight="bold" text-anchor="middle" fill="#000" font-family="'Liberation Sans', Arial, sans-serif">55</text>
<text x="446.2" y="1090.5" font-size="25.5" font-weight="bold" text-anchor="middle" fill="#000" font-family="'Liberation Sans', Arial, sans-serif">60</text>
<text x="508.1" y="1090.5" font-size="25.5" font-weight="bold" text-anchor="middle" fill="#000" font-family="'Liberation Sans', Arial, sans-serif">65</text>
<text x="570.0" y="1090.5" font-size="25.5" font-weight="bold" text-anchor="middle" fill="#000" font-family="'Liberation Sans', Arial, sans-serif">70</text>
<text x="631.9" y="1090.5" font-size="25.5" font-weight="bold" text-anchor="middle" fill="#000" font-family="'Liberation Sans', Arial, sans-serif">75</text>
<text x="95.6" y="1052.3" font-size="25.5" font-weight="bold" text-anchor="end" fill="#000" font-family="'Liberation Sans', Arial, sans-serif">0</text>
<text x="95.6" y="985.4" font-size="25.5" font-weight="bold" text-anchor="end" fill="#000" font-family="'Liberation Sans', Arial, sans-serif">5</text>
<text x="95.6" y="918.5" font-size="25.5" font-weight="bold" text-anchor="end" fill="#000" font-family="'Liberation Sans', Arial, sans-serif">10</text>
<text x="95.6" y="851.6" font-size="25.5" font-weight="bold" text-anchor="end" fill="#000" font-family="'Liberation Sans', Arial, sans-serif">15</text>
<text x="95.6" y="784.7" font-size="25.5" font-weight="bold" text-anchor="end" fill="#000" font-family="'Liberation Sans', Arial, sans-serif">20</text>
<text x="95.6" y="717.8" font-size="25.5" font-weight="bold" text-anchor="end" fill="#000" font-family="'Liberation Sans', Arial, sans-serif">25</text>
<text x="95.6" y="650.9" font-size="25.5" font-weight="bold" text-anchor="end" fill="#000" font-family="'Liberation Sans', Arial, sans-serif">30</text>
<text x="394.4" y="1136.3" font-size="38.3" font-weight="bold" text-anchor="middle" font-family="'Liberation Sans', Arial, sans-serif">2<tspan font-family="'Liberation Serif', 'Times New Roman', serif" font-weight="normal">&#952;</tspan> (degree)</text>
<text x="0.0" y="0.0" font-size="38.2" font-weight="bold" text-anchor="middle" fill="#000" font-family="'Liberation Sans', Arial, sans-serif" transform="translate(44.4 835.0) rotate(-90)">Intensity (a.u.)</text>
<text x="0.0" y="0.0" font-size="25.5" font-weight="normal" text-anchor="start" fill="#1a1a1a" font-family="'Liberation Sans', Arial, sans-serif" transform="translate(139.9 622.0) rotate(90)" xml:space="preserve" stroke="#1a1a1a" stroke-width="0.60">Nb (110)</text>
<text x="0.0" y="0.0" font-size="25.5" font-weight="normal" text-anchor="start" fill="#1a1a1a" font-family="'Liberation Sans', Arial, sans-serif" transform="translate(409.0 622.0) rotate(90)" xml:space="preserve" stroke="#1a1a1a" stroke-width="0.60">Nb (200)</text>
<text x="0.0" y="0.0" font-size="25.5" font-weight="normal" text-anchor="start" fill="#1a1a1a" font-family="'Liberation Sans', Arial, sans-serif" transform="translate(584.6 622.0) rotate(90)" xml:space="preserve" stroke="#1a1a1a" stroke-width="0.60">Nb (211)</text>
<text x="0.0" y="0.0" font-size="25.0" font-weight="normal" text-anchor="start" fill="#e0680f" font-family="'Liberation Sans', Arial, sans-serif" transform="translate(210.8 626.0) rotate(90)" xml:space="preserve" stroke="#e0680f" stroke-width="0.90">Pt (111)</text>
<text x="0.0" y="0.0" font-size="25.0" font-weight="normal" text-anchor="start" fill="#e0680f" font-family="'Liberation Sans', Arial, sans-serif" transform="translate(291.0 626.0) rotate(90)" xml:space="preserve" stroke="#e0680f" stroke-width="0.90">Pt (200)</text>
<text x="0.0" y="0.0" font-size="25.0" font-weight="normal" text-anchor="start" fill="#e0680f" font-family="'Liberation Sans', Arial, sans-serif" transform="translate(507.4 626.0) rotate(90)" xml:space="preserve" stroke="#e0680f" stroke-width="0.90">Pt (220)</text>
<line x1="672.3" y1="622.8" x2="717.9" y2="622.8" stroke="#2a5c98" stroke-width="2.6" stroke-linecap="round"/>
<text x="0.0" y="0.0" font-size="20.5" font-weight="bold" text-anchor="start" fill="#000" font-family="'Liberation Sans', Arial, sans-serif" transform="translate(722.5 629.0) scale(0.995 1)">Pt 3/Nb 15</text>
<line x1="672.3" y1="648.3" x2="717.9" y2="648.3" stroke="#2db462" stroke-width="2.6" stroke-linecap="round"/>
<text x="0.0" y="0.0" font-size="20.5" font-weight="bold" text-anchor="start" fill="#000" font-family="'Liberation Sans', Arial, sans-serif" transform="translate(722.5 654.5) scale(0.995 1)">Pt 3/Nb 9</text>
<line x1="672.3" y1="673.9" x2="717.9" y2="673.9" stroke="#fcc22a" stroke-width="2.6" stroke-linecap="round"/>
<text x="0.0" y="0.0" font-size="20.5" font-weight="bold" text-anchor="start" fill="#000" font-family="'Liberation Sans', Arial, sans-serif" transform="translate(722.5 680.1) scale(0.995 1)">Pt 3/Nb 7</text>
<line x1="672.3" y1="699.4" x2="717.9" y2="699.4" stroke="#e97a22" stroke-width="2.6" stroke-linecap="round"/>
<text x="0.0" y="0.0" font-size="20.5" font-weight="bold" text-anchor="start" fill="#000" font-family="'Liberation Sans', Arial, sans-serif" transform="translate(722.5 705.6) scale(0.995 1)">Pt 3/Nb 5</text>
<line x1="672.3" y1="725.0" x2="717.9" y2="725.0" stroke="#ef3038" stroke-width="2.6" stroke-linecap="round"/>
<text x="0.0" y="0.0" font-size="20.5" font-weight="bold" text-anchor="start" fill="#000" font-family="'Liberation Sans', Arial, sans-serif" transform="translate(722.5 731.2) scale(0.995 1)">Pt 3/Nb 3</text>
<text x="0.0" y="0.0" font-size="20.5" font-weight="bold" text-anchor="start" fill="#000" font-family="'Liberation Sans', Arial, sans-serif" transform="translate(722.5 757.2) scale(0.995 1)">(in nm)</text>
<path d="M981.4 610.8v9.0M981.4 1061.9v-9.0M1093.3 610.8v9.0M1093.3 1061.9v-9.0M1205.2 610.8v9.0M1205.2 1061.9v-9.0M1317.1 610.8v9.0M1317.1 1061.9v-9.0M1429.0 610.8v9.0M1429.0 1061.9v-9.0M1037.3 610.8v4.8M1037.3 1061.9v-4.8M1149.2 610.8v4.8M1149.2 1061.9v-4.8M1261.2 610.8v4.8M1261.2 1061.9v-4.8M1373.1 610.8v4.8M1373.1 1061.9v-4.8M925.3 1016.8h9.0M1485.1 1016.8h-9.0M925.3 926.6h9.0M1485.1 926.6h-9.0M925.3 836.5h9.0M1485.1 836.5h-9.0M925.3 746.3h9.0M1485.1 746.3h-9.0M925.3 656.2h9.0M1485.1 656.2h-9.0M925.3 971.7h4.8M1485.1 971.7h-4.8M925.3 881.6h4.8M1485.1 881.6h-4.8M925.3 791.4h4.8M1485.1 791.4h-4.8M925.3 701.3h4.8M1485.1 701.3h-4.8" stroke="#000" stroke-width="2.9" fill="none"/>
<rect x="925.3" y="610.8" width="559.8" height="451.1" fill="none" stroke="#000" stroke-width="2.9"/>
<text x="981.4" y="1091.7" font-size="24.8" font-weight="bold" text-anchor="middle" fill="#000" font-family="'Liberation Sans', Arial, sans-serif">36</text>
<text x="1093.3" y="1091.7" font-size="24.8" font-weight="bold" text-anchor="middle" fill="#000" font-family="'Liberation Sans', Arial, sans-serif">38</text>
<text x="1205.2" y="1091.7" font-size="24.8" font-weight="bold" text-anchor="middle" fill="#000" font-family="'Liberation Sans', Arial, sans-serif">40</text>
<text x="1317.1" y="1091.7" font-size="24.8" font-weight="bold" text-anchor="middle" fill="#000" font-family="'Liberation Sans', Arial, sans-serif">42</text>
<text x="1429.0" y="1091.7" font-size="24.8" font-weight="bold" text-anchor="middle" fill="#000" font-family="'Liberation Sans', Arial, sans-serif">44</text>
<text x="915.3" y="1024.1" font-size="24.8" font-weight="bold" text-anchor="end" fill="#000" font-family="'Liberation Sans', Arial, sans-serif">0</text>
<text x="915.3" y="933.9" font-size="24.8" font-weight="bold" text-anchor="end" fill="#000" font-family="'Liberation Sans', Arial, sans-serif">10</text>
<text x="915.3" y="843.8" font-size="24.8" font-weight="bold" text-anchor="end" fill="#000" font-family="'Liberation Sans', Arial, sans-serif">20</text>
<text x="915.3" y="753.6" font-size="24.8" font-weight="bold" text-anchor="end" fill="#000" font-family="'Liberation Sans', Arial, sans-serif">30</text>
<text x="915.3" y="663.5" font-size="24.8" font-weight="bold" text-anchor="end" fill="#000" font-family="'Liberation Sans', Arial, sans-serif">40</text>
<text x="1214.4" y="1136.5" font-size="38.3" font-weight="bold" text-anchor="middle" font-family="'Liberation Sans', Arial, sans-serif">2<tspan font-family="'Liberation Serif', 'Times New Roman', serif" font-weight="normal">&#952;</tspan> (degree)</text>
<text x="0.0" y="0.0" font-size="38.2" font-weight="bold" text-anchor="middle" fill="#000" font-family="'Liberation Sans', Arial, sans-serif" transform="translate(864.8 835.8) rotate(-90)">Intensity (a.u.)</text>
<line x1="1127.3" y1="612.0" x2="1127.3" y2="1060.7" stroke="#333" stroke-width="1.8" stroke-dasharray="8 6.4" stroke-dashoffset="-3.0"/>
<path d="M926.0 986.4l.6 .2 .6 0 .6 .3 .6-.1 .6-.3 .6 .1 .6-.4 .6 0 .6 .4 .6-.1 .6-.5 .6 .3 .6-.2 .6 .1 .6 .6 .6-.8 .6 .1 .6 .4 .6-.1 .6 0 .6-.6 .6 .5 .6-.1 .6-.2 .6 .1 .6 .1 .6 .3 .6 .4 .6-.6 .6 .4 .6-.5 .6-.5 .6 .5 .6 .4 .6 0 .6-.8 .6 1.1 .6-1 .6-.1 .6 .1 .6 .7 .6-.4 .6 .1 .6-1 .6 .7 .6 0 .6 .2 .6-.4 .6 .5 .6-.6 .6-.3 .6-.1 .6 1 .6-.2 .6-.5 .6 .6 .6-.4 .6-.1 .6-.4 .6 .3 .6 .2 .6 0 .6-.3 .6 .5 .6 .1 .6-.8 .6 .4 .6-.7 .6 .7 .6-.5 .6 .2 .6 .1 .6-.2 .6 .4 .6-.7 .6 .1 .6 .2 .6-.1 .6 0 .6-.2 .6-.2 .6 .4 .6-.2 .6 .2 .6 .1 .6-.6 .6-.2 .6 .1 .6-.1 .6-.6 .6 1.2 .6-.4 .6 .5 .6-1 .6 .3 .6-.1 .6-.2 .6 .3 .6-.4 .6-.1 .6 .1 .6-.9 .6 .4 .6 0 .6 .7 .6-.4 .6 0 .6-.1 .6-.4 .6 .6 .6-.7 .6-.5 .6 .6 .6 .1 .6-.5 .6 0 .6 .1 .6 .1 .6-.4 .6 .3 .6-.6 .6 .5 .6-1.3 .6 .7 .6-.4 .6-.2 .6-.6 .6 .7 .6-.6 .6-.4 .6 0 .6 0 .6 0 .6-.5 .6-.2 .6 .2 .6-.3 .6 .5 .6-1 .6 .2 .6 .1 .6-.9 .6 .2 .6-.5 .6-.3 .6 .2 .6-1.1 .6-.1 .6-.7 .6 .3 .6 .1 .6-.7 .6 .1 .6-.9 .6 .4 .6-.8 .6-.4 .6 .4 .6-.9 .6-.1 .6-.5 .6-.2 .6-.5 .6-.9 .6 .1 .6-.3 .6-.5 .6-.6 .6 .2 .6-1.3 .6-.2 .6-.4 .6-.9 .6-.5 .6 .1 .6-.4 .6-.7 .6-1 .6-.1 .6-.3 .6-.3 .6-.3 .6-.7 .6-.3 .6-.2 .6-1.9 .6 .6 .6-.9 .6-.2 .6-.6 .6-1 .6-.4 .6-.1 .6-.7 .6-.2 .6-.9 .6 .3 .6-1.3 .6 .3 .6-1.5 .6 0 .6-.3 .6-1.3 .6-.3 .6-.1 .6-.2 .6-.4 .6-.8 .6-.3 .6-1.2 .6-.2 .6 .2 .6-1.1 .6-.2 .6-.9 .6 .2 .6-.7 .6 .3 .6 .1 .6-.7 .6-.3 .6-.5 .6 .1 .6-.7 .6 0 .6 .8 .6-1.2 .6 .2 .6-.4 .6 .9 .6-.5 .6-.4 .6 0 .6 .8 .6-.1 .6 .2 .6-.1 .6 .5 .6 .4 .6 0 .6-.6 .6 .2 .6 .4 .6 .8 .6-.3 .6 .4 .6 .7 .6 0 .6 .2 .6 1.1 .6 .2 .6 .5 .6 .4 .6 .6 .6-.1 .6 .3 .6-.1 .6 1 .6 .3 .6 1 .6 .3 .6 .7 .6 .4 .6 .5 .6 .3 .6 .5 .6 .4 .6 .8 .6 .3 .6 1.1 .6 .5 .6 0 .6 .4 .6 1.4 .6 .7 .6 .7 .6 1.2 .6-.1 .6 .4 .6 1.2 .6 .7 .6 .8 .6-.4 .6 .7 .6 .4 .6 1.2 .6 .2 .6 .2 .6 .8 .6 .1 .6 .5 .6 .5 .6 .3 .6 .5 .6 .6 .6 .4 .6 .9 .6 .2 .6 .1 .6-.4 .6 .7 .6 .7 .6 .4 .6 0 .6 .7 .6 .5 .6 .1 .6 .4 .6 .4 .6 .1 .6 .3 .6 .5 .6 .5 .6-.2 .6 0 .6 .7 .6 .8 .6-.5 .6 1.2 .6-.2 .6 .5 .6-.1 .6 .8 .6 0 .6 .4 .6-.5 .6 1.1 .6-.5 .6 .6 .6 .5 .6 0 .6 .5 .6 .1 .6 .1 .6-.1 .6 .8 .6 .2 .6-.4 .6 .1 .6 .5 .6-.2 .6 .5 .6 .4 .6 .1 .6 .4 .6-.2 .6-.4 .6 .2 .6 .6 .6 .6 .6-.6 .6 0 .6 .9 .6-.4 .6 .4 .6 .3 .6-.6 .6 .3 .6 .1 .6 .5 .6 .1 .6-.3 .6 .5 .6-.7 .6 .9 .6 .1 .6-.1 .6-.3 .6 .5 .6-.2 .6 .9 .6-.5 .6 .1 .6 .1 .6 .3 .6 0 .6 .2 .6-.4 .6 .7 .6-.4 .6 .5 .6-.1 .6 .3 .6-.3 .6-.4 .6 .1 .6 .4 .6 .6 .6-.5 .6 .2 .6 .4 .6-.5 .6 .3 .6 .1 .6-.2 .6 .3 .6 .3 .6 .1 .6-.4 .6 1.1 .6-.8 .6-.2 .6-.1 .6 0 .6 .6 .6-1.1 .6 .9 .6-.3 .6 .4 .6 .1 .6-.4 .6 .2 .6 .8 .6-.6 .6 .2 .6 0 .6 .4 .6 .2 .6-.1 .6-.1 .6 .1 .6-.6 .6 .9 .6-.6 .6-.1 .6 .2 .6-.1 .6 .5 .6 .1 .6 .2 .6-.4 .6-.1 .6 .1 .6-.2 .6 .1 .6 1 .6-.9 .6 .1 .6 .4 .6-.1 .6 .2 .6-.5 .6 0 .6 .8 .6-.6 .6 .2 .6 .1 .6-.6 .6 .5 .6-.1 .6 .4 .6-.2 .6-.6 .6 1 .6-1.1 .6 .7 .6 0 .6 0 .6 .2 .6 .4 .6-.6 .6 .1 .6 .5 .6-.1 .6 .1 .6-.1 .6-.2 .6 0 .6 0 .6 .5 .6 .2 .6 .2 .6-1 .6 .3 .6 .1 .6-.1 .6-.3 .6 1.1 .6-.2 .6-.5 .6-.1 .6 .2 .6-.4 .6 .3 .6 .4 .6 .3 .6-.3 .6 .2 .6-.8 .6-.7 .6 1.6 .6-.4 .6-.1 .6 .6 .6-.8 .6 0 .6 .1 .6 .8 .6-.3 .6-.8 .6 1.1 .6-.5 .6 .1 .6-.4 .6 .9 .6-.4 .6 .3 .6-.8 .6 .6 .6-.2 .6-.1 .6-.2 .6 .1 .6-.1 .6 .1 .6 .3 .6 .2 .6-.7 .6 .2 .6 .1 .6-.3 .6 .5 .6 0 .6 0 .6 .2 .6 .2 .6 0 .6-.2 .6 .2 .6-.5 .6 0 .6 .5 .6 0 .6 .6 .6-.8 .6-.3 .6 .5 .6-.2 .6-.2 .6 .8 .6 .2 .6-.5 .6-.3 .6 .3 .6-.1 .6-.4 .6 .7 .6-.1 .6 .3 .6-.6 .6 .2 .6 0 .6-.6 .6 1.5 .6-1.6 .6 .4 .6 .3 .6-.4 .6 .6 .6-.2 .6 .1 .6 .1 .6 0 .6 0 .6-.1 .6 .2 .6 .2 .6-.4 .6 0 .6 0 .6 .3 .6-.2 .6 0 .6-.4 .6 1.2 .6-1.1 .6 1 .6-.3 .6 .1 .6-.2 .6 .1 .6-.1 .6 .1 .6 .1 .6 .3 .6-.9 .6 .5 .6 .4 .6 0 .6-.8 .6 .4 .6 0 .6 0 .6-.8 .6 1.1 .6-.9 .6 1.3 .6-.5 .6-.2 .6 .2 .6-.1 .6-.2 .6 .1 .6 .2 .6-.4 .6 .5 .6 .2 .6 0 .6 0 .6 .1 .6-.2 .6 .2 .6-.4 .6 .1 .6 .4 .6 .2 .6-.8 .6-.4 .6 1.3 .6-.4 .6 .3 .6-.3 .6-.2 .6-.3 .6-.1 .6 .8 .6-.1 .6-.3 .6-.4 .6 .2 .6-.1 .6 .2 .6-.9 .6 1.1 .6 .4 .6-.7 .6 .2 .6 .1 .6-.4 .6 .5 .6-.4 .6 .1 .6 .3 .6-.1 .6 0 .6-.3 .6 .6 .6-.7 .6 .7 .6-.4 .6-.3 .6 .4 .6-.3 .6 .2 .6 .1 .6 .4 .6 0 .6-.1 .6-.3 .6-.4 .6 .5 .6-.1 .6 .1 .6-.1 .6 0 .6 .4 .6-.7 .6 .5 .6 .4 .6-.7 .6 0 .6 .2 .6 0 .6 .2 .6 .4 .6-.5 .6 .3 .6-.4 .6 0 .6 .3 .6-.3 .6 .6 .6-.5 .6 .1 .6-.3 .6 .2 .6-.2 .6 .2 .6-.4 .6 .6 .6 .6 .6-1.2 .6 1.2 .6-.6 .6 .3 .6-.6 .6 1 .6-1 .6 .3 .6 .6 .6-1 .6-.3 .6 .8 .6-.2 .6-.1 .6 0 .6-.2 .6 1 .6 0 .6-.9 .6 .4 .6-.1 .6 .6 .6-.7 .6 .9 .6-.6 .6-.2 .6 .2 .6-.2 .6 1 .6-.7 .6-.2 .6 .2 .6 .5 .6-.8 .6-.3 .6 1.1 .6-.3 .6-.3 .6 .1 .6 .4 .6-1.3 .6 1.4 .6-.5 .6 .3 .6-.2 .6 1.1 .6-1.3 .6 .6 .6-1.3 .6 1 .6 .2 .6-.8 .6-.1 .6 .7 .6 .3 .6 .1 .6-.6 .6 .3 .6-.6 .6 1.1 .6-.8 .6 .7 .6-.5 .6 0 .6 .6 .6-.8 .6 .7 .6-.5 .6-.2 .6 0 .6 .7 .6-.4 .6-.1 .6-.4 .6 1 .6-.1 .6-.2 .6 .2 .6-1.4 .6 .9 .6 .3 .6 0 .6-.3 .6 .3 .6-.3 .6 0 .6-.2 .6 .5 .6-.3 .6 .1 .6 .7 .6-.5 .6 0 .6-.5 .6 .4 .6 .5 .6-.1 .6-.2 .6-.1 .6 .1 .6 .1 .6-.2 .6-.7 .6 1.5 .6-.3 .6-.4 .6 .6 .6-1 .6 .9 .6-.3 .6 .2 .6-.4 .6 .2 .6 .1 .6 .2 .6-.2 .6 0 .6-.3 .6 .8 .6-.5 .6-.2 .6 0 .6-.3 .6 .2 .6-.3 .6 .6 .6-.1 .6 .1 .6-.5 .6 .3 .6 0 .6 .5 .6-.8 .6 0 .6 1 .6-.3 .6-.7 .6 1 .6 .1 .6-.1 .6-1.1 .6 .7 .6-.3 .6 .2 .6-.4 .6 1.1 .6-.8 .6 .4 .6 .1 .6 0 .6-.1 .6-.2 .6 .2 .6-.2 .6-.7 .6 1.2 .6-.6 .6 .1 .6 0 .6-.3 .6 .1 .6-.2 .6 .8 .6 .2 .6-.4 .6-.4 .6 .9 .6-.6 .6-.4 .6-.1 .6 .7 .6 .5 .6-.6 .6-.1 .6 .1 .6-.2 .6 .2 .6 .2 .6-.3 .6 .6 .6-.7 .6 .6 .6-.1 .6-.2 .6 0 .6 0 .6 .7 .6-.8 .6 .7 .6-.1 .6-.4 .6 .7 .6-1.4 .6 .9 .6 0 .6-.1 .6 .3 .6-.4 .6 .1 .6 .5 .6-.4 .6-.4 .6 .6 .6-.2 .6-.2 .6 .4 .6-.4 .6-.1 .6 .3 .6 0 .6 .1 .6-.4 .6 1 .6-.3 .6-.2 .6 0 .6-.9 .6 1.2 .6-.7 .6 .6 .6-.6 .6 .8 .6-.6 .6 .2 .6 .6 .6-.2 .6-.8 .6 .2 .6 .4 .6-.2 .6 .4 .6-.5 .6-.4 .6 .3 .6 .3 .6 .3 .6 0 .6 .2 .6-.3" fill="none" stroke="#ef2b2b" stroke-width="2.30" stroke-linejoin="round" stroke-linecap="round"/>
<path d="M926.0 986.5l.6 .4 .6-.3 .6-.2 .6 0 .6 .5 .6 .2 .6-.1 .6-1 .6 1 .6-.8 .6 .2 .6 .4 .6-.7 .6 0 .6 .2 .6 .8 .6-.2 .6-.7 .6 .4 .6 0 .6 0 .6-.3 .6 .7 .6-.6 .6 .4 .6-.9 .6 .7 .6-.1 .6 .4 .6-1.4 .6 1.1 .6 .1 .6-.4 .6 .6 .6 .2 .6-.4 .6 0 .6 .2 .6-.4 .6 .3 .6-.2 .6-.5 .6-.1 .6 .7 .6-.2 .6-.4 .6 .2 .6 .5 .6-1.1 .6 .3 .6 .5 .6 0 .6-.7 .6 .1 .6 .4 .6 .4 .6-.5 .6-.8 .6 1.1 .6-.3 .6-.2 .6-.3 .6 .8 .6-.3 .6 .1 .6-.1 .6 0 .6 .2 .6 .3 .6-1 .6 .3 .6-.1 .6 .7 .6-.7 .6-.5 .6 .6 .6-.3 .6 0 .6 .1 .6-.4 .6-.2 .6 1.4 .6-.8 .6-.3 .6 .5 .6 .3 .6-1.1 .6 .4 .6 .2 .6-.4 .6 .5 .6-.7 .6 .2 .6 .2 .6 .2 .6-.2 .6-.3 .6 .1 .6-.6 .6 1.4 .6-.9 .6 0 .6 .2 .6 .1 .6-.1 .6-.4 .6-.4 .6 .5 .6-.3 .6 .1 .6 .1 .6 .1 .6 .3 .6-.6 .6-.6 .6 .7 .6 .1 .6-1 .6 .7 .6-.2 .6-.3 .6 .1 .6 0 .6 0 .6 .1 .6-.5 .6-.1 .6 .8 .6-1.3 .6 .2 .6-.2 .6 .3 .6 .1 .6-1 .6 .8 .6-1 .6 1.2 .6-1.2 .6 .5 .6-.6 .6 .2 .6-.7 .6 .2 .6-.2 .6-.1 .6 .1 .6-.6 .6-.1 .6-.6 .6 .3 .6-.3 .6 .3 .6-.3 .6-.7 .6 .2 .6 .1 .6-.7 .6-.6 .6 1.1 .6-.9 .6-.2 .6 .3 .6-1.5 .6 .1 .6-1.1 .6 .5 .6-.4 .6-.8 .6-.4 .6-.2 .6-.4 .6 .2 .6-1.1 .6-.4 .6-.5 .6-.9 .6-.1 .6-.8 .6 .1 .6-1.3 .6-.1 .6 0 .6-1.3 .6-.3 .6 .4 .6-1.2 .6-.1 .6-.3 .6-1 .6-.6 .6 .6 .6-1.2 .6 0 .6-.9 .6-.1 .6-1 .6-.5 .6-.4 .6-.3 .6-.5 .6-.3 .6-.2 .6-.9 .6 .1 .6-1.1 .6 0 .6-.3 .6-.3 .6-1.8 .6 .8 .6-1.7 .6 .6 .6-1 .6-.4 .6-.9 .6 .2 .6-.6 .6-.9 .6-.5 .6 0 .6-.4 .6-.6 .6-.9 .6-.3 .6-.1 .6-.5 .6-.4 .6-.8 .6-.7 .6-.1 .6-.4 .6-.8 .6-.2 .6-.9 .6 0 .6-.8 .6 .5 .6-.8 .6-.7 .6-1 .6-.4 .6 .2 .6-.7 .6-.3 .6-1 .6-.4 .6 .1 .6-.5 .6-.7 .6-.2 .6 .2 .6-.8 .6 0 .6 0 .6-.9 .6-.4 .6-.6 .6 .3 .6-1.2 .6-.2 .6 .2 .6-.7 .6 .7 .6-.7 .6 .3 .6-.4 .6-.1 .6 .1 .6-.7 .6 .4 .6 .2 .6 1.1 .6-.4 .6 0 .6-.5 .6 .9 .6 .3 .6 .1 .6 1 .6-1 .6 .4 .6 .7 .6 .2 .6 .8 .6 .7 .6 .2 .6 .6 .6 .6 .6 .7 .6 .1 .6 .7 .6 1.3 .6 .1 .6 .6 .6 1.1 .6 .5 .6 .9 .6 .7 .6 .9 .6 .8 .6 .1 .6 .6 .6 1.6 .6-.2 .6 .3 .6 .4 .6 1.2 .6 .3 .6 .1 .6 .9 .6 .5 .6 1.2 .6 .3 .6 .4 .6 .1 .6 .8 .6 .8 .6 .3 .6 .8 .6 .1 .6 .7 .6 .3 .6 0 .6 1.1 .6 0 .6 .5 .6-.4 .6 .3 .6 .5 .6 0 .6 .7 .6 .2 .6 .4 .6 0 .6-.5 .6 .9 .6-.4 .6 .1 .6 .5 .6 .1 .6 .5 .6 .7 .6-.7 .6 .5 .6-.4 .6 .3 .6-.2 .6 .1 .6 .7 .6-.2 .6 .1 .6-.3 .6 1 .6-.6 .6-.1 .6 .3 .6 .4 .6 .1 .6 .3 .6-.8 .6 .3 .6 .8 .6 .3 .6-.9 .6 .3 .6-.5 .6 .4 .6 0 .6 .4 .6-.3 .6 .8 .6-.3 .6 0 .6 .5 .6-.4 .6-.2 .6 .5 .6 .8 .6-.7 .6 .2 .6-.2 .6 .1 .6 .3 .6-1.1 .6 .6 .6 .3 .6 .1 .6 .7 .6 .4 .6-.6 .6 0 .6 .1 .6 .4 .6-.8 .6 .2 .6 .3 .6 .1 .6-.8 .6 .9 .6-.6 .6 .8 .6 .1 .6-1 .6 1 .6 0 .6-.3 .6 .6 .6 .5 .6-.5 .6-.5 .6-.1 .6 .2 .6 .1 .6 .8 .6-.2 .6-.1 .6 .4 .6-.2 .6 .1 .6-.3 .6 .2 .6 .3 .6-.4 .6 1.1 .6-.5 .6-.1 .6 .6 .6-.7 .6 .8 .6-.2 .6 .7 .6-.8 .6 .1 .6 0 .6-.1 .6 .6 .6-.4 .6 .6 .6-.3 .6 .7 .6-1.2 .6 1.1 .6 0 .6 0 .6-.1 .6 .9 .6-.7 .6 .4 .6-.1 .6 0 .6 .2 .6 .3 .6-.5 .6 .3 .6-.2 .6 .7 .6-.4 .6 .1 .6 .6 .6-.1 .6 .2 .6-.1 .6 .3 .6 0 .6-.4 .6 .6 .6-.1 .6 .1 .6 .3 .6-.2 .6-.1 .6 .9 .6 .3 .6-.6 .6 .6 .6-.2 .6-.3 .6 .1 .6 .3 .6 0 .6 .1 .6 .2 .6-.2 .6 .8 .6-.6 .6 .1 .6 .8 .6 0 .6 .3 .6-.3 .6-.2 .6 .7 .6-.3 .6 .1 .6-.2 .6 .6 .6-.9 .6 1.1 .6-.8 .6 1.2 .6-.8 .6 .9 .6 .7 .6-.8 .6-.2 .6 1.1 .6-.7 .6-.1 .6 .9 .6-1.3 .6 .6 .6 .1 .6 .4 .6-.4 .6 1.1 .6 .2 .6-.3 .6 0 .6-.3 .6 .8 .6-.3 .6 .6 .6 .2 .6-.2 .6-.7 .6 .5 .6 .9 .6-.2 .6 .5 .6-1.2 .6 .8 .6 .1 .6-.4 .6 .5 .6 .6 .6 0 .6-.3 .6 .4 .6 .4 .6-.7 .6 .6 .6 .4 .6-.5 .6 .8 .6-.4 .6 .5 .6 0 .6-.1 .6-.1 .6 0 .6 .3 .6 .2 .6 .5 .6-.4 .6 .2 .6 .6 .6-.4 .6 .2 .6 .5 .6-.5 .6 .2 .6 .3 .6-.2 .6-.3 .6 0 .6 .5 .6 .6 .6 .1 .6 .3 .6-.2 .6-.4 .6-.2 .6 .4 .6 .2 .6 0 .6 .6 .6-.5 .6 .6 .6 .2 .6-.8 .6 .6 .6 .7 .6-.1 .6-.1 .6-.4 .6 .3 .6 .3 .6 .6 .6-.2 .6-.1 .6 .2 .6 .3 .6-.8 .6 .4 .6 .4 .6 .5 .6 .1 .6-.6 .6 .4 .6-.2 .6 .2 .6 .3 .6-.1 .6 0 .6-.1 .6 0 .6 .6 .6 .2 .6 .2 .6-.4 .6 .1 .6 .8 .6-.2 .6 .2 .6-.4 .6 .1 .6-.1 .6 .8 .6-.6 .6-.2 .6 .5 .6 .7 .6-.3 .6 .1 .6 .1 .6 0 .6 0 .6-.3 .6 1.1 .6-.5 .6 .5 .6-.9 .6 .8 .6-.5 .6 0 .6 .7 .6 .3 .6 .2 .6 0 .6-.5 .6 .5 .6-.4 .6 .1 .6 .3 .6-.1 .6 .4 .6-.8 .6 1.1 .6-.6 .6 .8 .6 0 .6-.8 .6 .5 .6 .3 .6-.5 .6 .1 .6 .2 .6 .5 .6 .1 .6-.4 .6 .5 .6 .3 .6-.2 .6-.5 .6 0 .6 .5 .6 .2 .6 0 .6-.3 .6-.1 .6 .8 .6-.4 .6 .7 .6-1 .6 .4 .6-.1 .6 .9 .6-.1 .6-.6 .6-.4 .6 1.1 .6-.3 .6-.4 .6-.1 .6 .7 .6-.1 .6 .1 .6 .1 .6-.2 .6 .1 .6 .4 .6-.3 .6 0 .6 .4 .6-.9 .6 1.2 .6-.3 .6-.3 .6 .2 .6 .5 .6-.2 .6-.7 .6 .3 .6 .4 .6 .6 .6-.3 .6-.3 .6 .3 .6-.1 .6-.1 .6 .3 .6-.9 .6 1.2 .6-.1 .6-.4 .6-.1 .6 0 .6 .5 .6 0 .6 0 .6 .6 .6-1.3 .6 .5 .6 0 .6 .7 .6-.4 .6-.2 .6 .4 .6 .1 .6 .5 .6-.5 .6-.2 .6 0 .6-.1 .6 .5 .6 .2 .6-.4 .6 .1 .6 .5 .6-.4 .6 .2 .6-.5 .6 .1 .6-.5 .6 .3 .6 .6 .6 .4 .6-.5 .6-.3 .6 .4 .6 .4 .6-.4 .6 .4 .6-.4 .6-.4 .6 .2 .6 .2 .6 .9 .6-.6 .6-.2 .6 .2 .6 0 .6-.3 .6 .2 .6-.1 .6 .4 .6 .3 .6-.1 .6-.5 .6 .3 .6-.4 .6-.2 .6 .5 .6 .2 .6-.3 .6 .4 .6 0 .6 0 .6-.3 .6-.5 .6 1.2 .6-.8 .6 .4 .6-.1 .6-.2 .6 .7 .6-.4 .6-.2 .6-.1 .6-.2 .6-.1 .6 .7 .6-.4 .6 0 .6 .4 .6-.3 .6 .3 .6-.4 .6 0 .6 .5 .6-.5 .6 .5 .6-.1 .6-.1 .6-.6 .6 .1 .6 .1 .6 0 .6 .7 .6-.6 .6-.1 .6 .3 .6 .1 .6-.5 .6 .8 .6 0 .6-.4 .6 .4 .6-.8 .6 .4 .6 .1 .6 .1 .6 .4 .6-.5 .6-.2 .6 .4 .6 0 .6 .1 .6-.3 .6 .2 .6-.3 .6 .4 .6-.4 .6 0 .6 .7 .6-.7 .6 .3 .6 .2 .6-.3 .6 .4 .6-.5 .6 .6 .6-.9 .6 .1 .6 .4 .6 .5 .6 .1 .6-.9 .6 .3 .6-.1 .6-.6 .6 1 .6-.4 .6 .6 .6-.3 .6-.3 .6-.1 .6 .2 .6 .3 .6-.4 .6 1.2 .6-.9 .6-.5 .6 .4 .6 .4 .6-.2 .6-.3 .6-.1 .6 0 .6-.2 .6 .3 .6 .2 .6-.2 .6 .7 .6-.4 .6-.3 .6 .2 .6 .5 .6-1.1 .6 .7 .6 .8 .6-.6 .6-.6 .6 .3 .6-.1 .6 1.1 .6-1.2 .6 .1 .6 0 .6-.4 .6-.6 .6 1.1 .6 .2 .6-.3 .6 .3 .6 .1 .6 0 .6-.8 .6 1.1 .6-.2 .6-.1 .6-.2 .6 0 .6-.2 .6 .3 .6 .2 .6-.5 .6 .5 .6-.5 .6 .4 .6-.3 .6 .4 .6 .3 .6-.5 .6-.3 .6 0 .6 .4 .6-.4 .6 .5 .6-.2 .6 .2 .6-.5 .6-.1 .6 0 .6 .4 .6-.4 .6 .5 .6-.9 .6 .5 .6 .1" fill="none" stroke="#1a2cf5" stroke-width="2.30" stroke-linejoin="round" stroke-linecap="round"/>
<path d="M926.0 984.9l.6 .2 .6-.3 .6 .4 .6-.1 .6 .2 .6-.5 .6-.2 .6 .2 .6 .2 .6-.1 .6 0 .6 .2 .6-.4 .6 0 .6-.2 .6 0 .6 .3 .6-.2 .6-.8 .6 .9 .6-.8 .6 .3 .6 .3 .6-.2 .6 0 .6 .1 .6-.2 .6-.4 .6 .3 .6-.3 .6-.5 .6 .5 .6 .2 .6-.2 .6-.1 .6 .4 .6-.4 .6 .1 .6-.2 .6 .3 .6-.5 .6 .3 .6 .1 .6-.6 .6 .3 .6-.6 .6 .4 .6 0 .6-.4 .6-.3 .6 .4 .6-.1 .6 .1 .6-.1 .6 .1 .6 .2 .6-.4 .6-.5 .6 .5 .6-.1 .6-.1 .6 .3 .6-.4 .6-.2 .6 .1 .6-.5 .6 .5 .6-.2 .6 .3 .6-.3 .6-.1 .6-.1 .6-.4 .6 .2 .6 0 .6 .1 .6-.2 .6 0 .6-.1 .6-.4 .6 .1 .6-.2 .6-.4 .6-.1 .6 .4 .6 .1 .6-.1 .6-.7 .6 .5 .6-.2 .6-.7 .6 .2 .6 .2 .6-.5 .6 .1 .6-.6 .6 0 .6 .1 .6-.4 .6 0 .6-.2 .6-.4 .6 .5 .6-.6 .6-.1 .6-.2 .6 0 .6-.4 .6 .3 .6-.4 .6 .1 .6-.5 .6-.2 .6-.1 .6 .1 .6-.5 .6 .4 .6-.5 .6 .2 .6-.5 .6 .1 .6-.6 .6-.2 .6 .2 .6-.4 .6 .2 .6-.7 .6 .2 .6-.6 .6-.4 .6 .6 .6-.7 .6 .1 .6-.4 .6-.7 .6 .3 .6-.1 .6-.2 .6-.2 .6-.6 .6-.4 .6-.3 .6-.6 .6 .2 .6-.3 .6-.5 .6-.6 .6-.1 .6-.7 .6 .1 .6-.9 .6-.5 .6-.4 .6-.7 .6-.4 .6-.4 .6-1.1 .6 .6 .6-1 .6-.6 .6-.8 .6-.4 .6-.6 .6-.6 .6-1.1 .6-.3 .6-1.1 .6-.2 .6-.9 .6-.6 .6-.7 .6-.5 .6-.6 .6-1.2 .6-1.1 .6-.2 .6-1.6 .6-.8 .6-.9 .6-1.2 .6-.5 .6-1.4 .6-1 .6-1.5 .6-1 .6-1.6 .6-1.5 .6-1.6 .6-1.7 .6-1.9 .6-2.2 .6-2.5 .6-1.9 .6-2.9 .6-1.8 .6-2.6 .6-2.2 .6-3.6 .6-1.7 .6-3.7 .6-3.5 .6-2.8 .6-3.4 .6-3.6 .6-3.2 .6-4.5 .6-3.6 .6-4.3 .6-4.7 .6-4.4 .6-4.5 .6-5.3 .6-4.5 .6-4.6 .6-4.9 .6-5.4 .6-4.4 .6-5.1 .6-4.6 .6-5.4 .6-4.6 .6-6.1 .6-4.9 .6-5.8 .6-5.3 .6-6.2 .6-7 .6-6 .6-6.7 .6-6.6 .6-5.9 .6-5.4 .6-5.1 .6-4.8 .6-4.1 .6-4.1 .6-3.9 .6-4 .6-3.1 .6-3.2 .6-3.6 .6-2.2 .6-2.7 .6-3 .6-1.9 .6-3.1 .6-2.3 .6-2 .6-2.1 .6-1.3 .6-2.4 .6-2.1 .6-2.1 .6-1.7 .6-1.8 .6-.9 .6 .6 .6 1.4 .6 1.1 .6 1.4 .6 .2 .6 .2 .6 .5 .6 .8 .6-.2 .6 1 .6 .4 .6 .5 .6 .8 .6 1.1 .6 1.1 .6 1.4 .6 1.7 .6 1.6 .6 2.2 .6 2.2 .6 2.7 .6 2.8 .6 2.8 .6 3.8 .6 3.8 .6 4.9 .6 5.4 .6 5.6 .6 5.3 .6 6 .6 5.7 .6 4.9 .6 5.5 .6 4.7 .6 5.1 .6 5.2 .6 4.6 .6 5.5 .6 4.8 .6 5 .6 5.2 .6 4.7 .6 4.8 .6 5.5 .6 4.9 .6 5.3 .6 4.9 .6 5.3 .6 5.1 .6 5 .6 5.1 .6 4.8 .6 4.9 .6 5.3 .6 3.5 .6 4.2 .6 4.9 .6 3.8 .6 4.3 .6 4.2 .6 3.9 .6 3.7 .6 3.5 .6 3.1 .6 3.3 .6 2.9 .6 2.6 .6 2.9 .6 2.4 .6 3.2 .6 2.3 .6 2.9 .6 1.7 .6 2.7 .6 1.4 .6 1.6 .6 1.9 .6 1.7 .6 1.5 .6 .8 .6 1.7 .6 .8 .6 1.1 .6 1 .6 1.5 .6 .6 .6 .9 .6 .5 .6 1.2 .6 .8 .6 1.2 .6 .1 .6 .8 .6 .7 .6 .8 .6 1.1 .6 .4 .6 1.2 .6 .4 .6 .5 .6 .8 .6 .5 .6 .6 .6 1.3 .6 .6 .6 .2 .6 .7 .6 1.1 .6 0 .6 .8 .6 .7 .6 .3 .6 .6 .6 .4 .6 .6 .6 .1 .6 .9 .6 .4 .6 .1 .6 .8 .6 .1 .6 0 .6 .6 .6 .8 .6 .5 .6 .2 .6 .1 .6 .7 .6 .6 .6 .1 .6 0 .6 .8 .6 .2 .6 .4 .6 .3 .6 .5 .6 .1 .6 .2 .6 .5 .6 .3 .6 .6 .6-.3 .6 .5 .6 .1 .6 .6 .6 .1 .6-.4 .6 1.2 .6-.1 .6 .1 .6 .2 .6 .3 .6 .2 .6 .5 .6 .3 .6 .2 .6 .3 .6-.1 .6 .5 .6 0 .6 .4 .6 .2 .6-.1 .6 .6 .6 .1 .6-.2 .6 .7 .6 .2 .6-.6 .6 0 .6 .5 .6 .4 .6 .3 .6 .1 .6 0 .6 .4 .6 0 .6-.1 .6 .3 .6 .4 .6-.3 .6 .1 .6 .1 .6 .7 .6-.1 .6 .2 .6-.2 .6 .2 .6 .4 .6-.3 .6 .5 .6-.2 .6 .1 .6 .3 .6 .1 .6 .3 .6-.4 .6 .6 .6-.5 .6 0 .6-.2 .6 .8 .6 .2 .6-.6 .6 .3 .6 .1 .6-.2 .6 .4 .6 .2 .6-.2 .6 0 .6 .3 .6 .2 .6-.4 .6 .3 .6 .3 .6-.8 .6 .8 .6 .4 .6-.7 .6 .7 .6-.3 .6 .3 .6-.2 .6-.2 .6 0 .6 1 .6-.9 .6 .4 .6 .4 .6-.2 .6 0 .6-.5 .6 .4 .6-.1 .6-.1 .6 .6 .6 .1 .6-.3 .6 .1 .6 .3 .6 .1 .6-.4 .6 .6 .6 0 .6-.2 .6-.3 .6 .5 .6 .1 .6 .2 .6-.5 .6 .6 .6-.5 .6 .3 .6-.1 .6 .1 .6 .3 .6-.5 .6 .4 .6-.2 .6 .1 .6-.1 .6 .2 .6-.5 .6 .5 .6 .3 .6 0 .6-.6 .6 .2 .6 .2 .6 .6 .6-.5 .6 .1 .6 0 .6 .1 .6-.2 .6 .3 .6 .1 .6 .1 .6-.4 .6 .4 .6 .3 .6-.2 .6 0 .6-.8 .6 1 .6 .2 .6-.2 .6-.1 .6 .1 .6 .5 .6-.8 .6 .1 .6 .4 .6-.2 .6-.6 .6 .6 .6 .1 .6-.3 .6 .3 .6 0 .6-.5 .6 .6 .6 .5 .6-.1 .6-.7 .6 0 .6 .3 .6 .1 .6-.4 .6 .2 .6 .5 .6-.2 .6 .2 .6-.2 .6 .3 .6-.4 .6 0 .6-.1 .6-.2 .6 .4 .6-.2 .6 .2 .6 .2 .6 0 .6 .1 .6-.2 .6 .1 .6 .4 .6-.3 .6 0 .6-.6 .6 .4 .6 .5 .6-.4 .6-.1 .6 .6 .6-.5 .6 .5 .6-.2 .6-.1 .6-.4 .6 .9 .6-.8 .6 .2 .6 .5 .6-.5 .6 .5 .6-.1 .6-.1 .6-.2 .6 .2 .6 .2 .6-.3 .6 .4 .6 0 .6 0 .6 0 .6 .1 .6 0 .6 .1 .6-.1 .6 0 .6-.3 .6-.2 .6 .5 .6 .2 .6-.4 .6-.2 .6 .3 .6 .2 .6 .2 .6-.3 .6-.2 .6 .3 .6 .2 .6-.2 .6 .3 .6-.3 .6 .3 .6 .2 .6-.6 .6 0 .6 .4 .6 .6 .6-.6 .6-.1 .6 .3 .6-.3 .6-.4 .6 .2 .6 .6 .6-.7 .6 0 .6 .6 .6-.1 .6 .2 .6-.5 .6 .1 .6 .1 .6-.2 .6 .3 .6 0 .6 .3 .6-.3 .6 0 .6 .2 .6 .2 .6 0 .6-.2 .6-.2 .6 0 .6-.2 .6 .4 .6 0 .6 .4 .6-.3 .6 .1 .6 .2 .6-.8 .6 .3 .6 .1 .6 .1 .6-.3 .6 .6 .6 0 .6-.1 .6 .1 .6-.5 .6 .6 .6-.4 .6-.3 .6 .5 .6 .1 .6-.3 .6-.2 .6 .1 .6 .3 .6-.6 .6 .9 .6 0 .6-.3 .6 .4 .6-.3 .6-.3 .6 .5 .6 0 .6-.4 .6-.1 .6 .1 .6 .6 .6-.4 .6 .8 .6-.8 .6 .3 .6 0 .6-.2 .6 .3 .6-.4 .6 .2 .6-.3 .6-.2 .6 .6 .6-.3 .6 0 .6 .5 .6-.2 .6 .1 .6 .4 .6-.4 .6 .1 .6-.4 .6 .5 .6 0 .6-.4 .6 .4 .6-.1 .6-.1 .6 .1 .6 .6 .6-.7 .6 0 .6 .2 .6-.1 .6-.4 .6 .6 .6 .1 .6 .2 .6-.5 .6-.2 .6 .5 .6-.4 .6 .3 .6-.1 .6 .1 .6-.1 .6 .3 .6-.4 .6 .8 .6-.3 .6-.4 .6 0 .6 .2 .6-.1 .6-.1 .6 .6 .6-.1 .6-.5 .6 .4 .6-.1 .6 .2 .6-.3 .6 .7 .6-.5 .6 .5 .6-.6 .6 .4 .6-.3 .6 .4 .6-.4 .6-.2 .6 0 .6 .1 .6 .3 .6 0 .6-.1 .6 .3 .6 .1 .6-.6 .6 .5 .6 .3 .6-.7 .6 0 .6 .3 .6 0 .6-.2 .6 .1 .6 .5 .6-.2 .6-.4 .6-.2 .6 .1 .6 .4 .6-.3 .6 0 .6 .4 .6-.2 .6 0 .6 .1 .6 .4 .6-.3 .6 .1 .6-.1 .6 .3 .6-.7 .6 .1 .6 .2 .6 .6 .6-.1 .6-.7 .6 .2 .6 .3 .6-.1 .6 .2 .6-.4 .6-.2 .6 .5 .6 .2 .6-.7 .6 0 .6 .3 .6-.3 .6 .6 .6-.4 .6 .5 .6-.3 .6 .1 .6 .2 .6-.2 .6-.2 .6 .5 .6-.6 .6 .7 .6-.5 .6 .1 .6 .2 .6 0 .6 .1 .6-.5 .6 .1 .6 .4 .6 0 .6-.1 .6 .3 .6-.3 .6 .3 .6 0 .6-.2 .6-.1 .6 .2 .6 0 .6 0 .6-.3 .6 .3 .6 .3 .6-.4 .6 .1 .6-.1 .6 .3 .6-.7 .6 .9 .6-.3 .6-.2 .6 .2 .6 .2 .6-.2 .6 .1 .6 .2 .6-.3 .6 .2 .6 .2 .6-.3 .6-.2 .6 .3 .6 .3 .6-.5 .6 .2 .6 0 .6 .1 .6-.3 .6 .1 .6 .5 .6-.3 .6-.3 .6 .3 .6-.1 .6 .3 .6-.7 .6 .4 .6 .2 .6-.5 .6 .1 .6 .3 .6-.1 .6 0 .6 .1 .6-.4 .6 .2 .6 .6 .6-.6 .6 .3 .6-.1 .6 .2 .6-.1 .6 0 .6 .2 .6-.2 .6-.5 .6 .3 .6 .5 .6-.1 .6-.3 .6-.3 .6 .2 .6 .7 .6-.2 .6 0 .6-.6 .6 0 .6 .2 .6-.2 .6 .4 .6-.3 .6 .4" fill="none" stroke="#0b8c0b" stroke-width="2.40" stroke-linejoin="round" stroke-linecap="round"/>
<line x1="1068.7" y1="941" x2="1068.7" y2="962" stroke="#ef2b2b" stroke-width="3"/>
<line x1="1068.7" y1="962.0" x2="1068.7" y2="1060.9" stroke="#ef2b2b" stroke-width="3.0" stroke-dasharray="5 4.7" stroke-dashoffset="0.0"/>
<line x1="1079.6" y1="677.5" x2="1079.6" y2="1060.9" stroke="#0b8c0b" stroke-width="3.0" stroke-dasharray="7.5 6.5" stroke-dashoffset="0.0"/>
<line x1="1083.8" y1="931.6" x2="1083.8" y2="958" stroke="#1a2cf5" stroke-width="3"/>
<line x1="1083.8" y1="962.0" x2="1083.8" y2="1060.9" stroke="#1a2cf5" stroke-width="3.0" stroke-dasharray="7 6.5" stroke-dashoffset="0.0"/>
<text x="0.0" y="0.0" font-size="25.5" font-weight="normal" text-anchor="start" fill="#1a1a1a" font-family="'Liberation Sans', Arial, sans-serif" transform="translate(1142.8 622.5) rotate(90)" xml:space="preserve" stroke="#1a1a1a" stroke-width="0.60">Nb (110)</text>
<text x="0.0" y="0.0" font-size="24.0" font-weight="bold" text-anchor="start" fill="#0b8c0b" font-family="'Liberation Sans', Arial, sans-serif" transform="translate(1090.3 673.8) rotate(-90)" xml:space="preserve">37.76</text>
<text x="0.0" y="0.0" font-size="23.3" font-weight="bold" text-anchor="start" fill="#ef2b2b" font-family="'Liberation Sans', Arial, sans-serif" transform="translate(1071.1 935.8) rotate(-90)" xml:space="preserve">37.56</text>
<text x="0.0" y="0.0" font-size="23.5" font-weight="normal" text-anchor="start" fill="#1a2cf5" font-family="'Liberation Sans', Arial, sans-serif" transform="translate(1102.0 923.1) rotate(-90)" xml:space="preserve" stroke="#1a2cf5" stroke-width="0.70">37.84</text>
<line x1="1305.1" y1="639.0" x2="1354.6" y2="639.0" stroke="#ef2b2b" stroke-width="2.6" stroke-linecap="round"/>
<text x="0.0" y="0.0" font-size="20.5" font-weight="bold" text-anchor="start" fill="#000" font-family="'Liberation Sans', Arial, sans-serif" transform="translate(1358.7 645.2) scale(1.020 1)">Nb 15</text>
<line x1="1305.1" y1="665.5" x2="1354.6" y2="665.5" stroke="#0b8c0b" stroke-width="2.6" stroke-linecap="round"/>
<text x="0.0" y="0.0" font-size="20.5" font-weight="bold" text-anchor="start" fill="#000" font-family="'Liberation Sans', Arial, sans-serif" transform="translate(1358.7 671.8) scale(1.020 1)">Ta 3/Nb 15</text>
<line x1="1305.1" y1="692.1" x2="1354.6" y2="692.1" stroke="#1a2cf5" stroke-width="2.6" stroke-linecap="round"/>
<text x="0.0" y="0.0" font-size="20.5" font-weight="bold" text-anchor="start" fill="#000" font-family="'Liberation Sans', Arial, sans-serif" transform="translate(1358.7 698.3) scale(1.020 1)">Pt 3/Nb 15</text>
<text x="0.0" y="0.0" font-size="20.5" font-weight="bold" text-anchor="start" fill="#000" font-family="'Liberation Sans', Arial, sans-serif" transform="translate(1358.7 725.4) scale(1.020 1)">(in nm)</text>
<defs>
<filter id="nzA" x="0" y="0" width="1" height="1" color-interpolation-filters="sRGB">
 <feTurbulence type="fractalNoise" baseFrequency="0.15" numOctaves="3" seed="11" result="t"/>
 <feColorMatrix in="t" type="matrix" values="1 0 0 0 0 1 0 0 0 0 1 0 0 0 0 0 0 0 0 1" result="g"/>
 <feComponentTransfer in="g" result="n"><feFuncR type="table" tableValues="0.1 0.15 0.2 0.27 0.39 0.49 0.6 0.79 0.92 0.97 1"/><feFuncG type="table" tableValues="0.1 0.15 0.2 0.27 0.39 0.49 0.6 0.79 0.92 0.97 1"/><feFuncB type="table" tableValues="0.1 0.15 0.2 0.27 0.39 0.49 0.6 0.79 0.92 0.97 1"/></feComponentTransfer>
 <feComposite in="SourceGraphic" in2="n" operator="arithmetic" k1="1.6" k2="0.2" k3="0" k4="0"/>
</filter>
<filter id="nzB" x="0" y="0" width="1" height="1" color-interpolation-filters="sRGB">
 <feTurbulence type="fractalNoise" baseFrequency="0.3" numOctaves="2" seed="5" result="t"/>
 <feColorMatrix in="t" type="matrix" values="1 0 0 0 0 1 0 0 0 0 1 0 0 0 0 0 0 0 0 1" result="g"/>
 <feComponentTransfer in="g" result="n"><feFuncR type="table" tableValues="0.1 0.15 0.2 0.27 0.34 0.41 0.52 0.77 0.95 1 1"/><feFuncG type="table" tableValues="0.1 0.15 0.2 0.27 0.34 0.41 0.52 0.77 0.95 1 1"/><feFuncB type="table" tableValues="0.1 0.15 0.2 0.27 0.34 0.41 0.52 0.77 0.95 1 1"/></feComponentTransfer>
 <feComposite in="SourceGraphic" in2="n" operator="arithmetic" k1="2.24" k2="0" k3="0" k4="0"/>
</filter>
<filter id="nzC" x="0" y="0" width="1" height="1" color-interpolation-filters="sRGB">
 <feTurbulence type="fractalNoise" baseFrequency="0.21" numOctaves="3" seed="8" result="t"/>
 <feColorMatrix in="t" type="matrix" values="1 0 0 0 0 1 0 0 0 0 1 0 0 0 0 0 0 0 0 1" result="g"/>
 <feComponentTransfer in="g" result="n"><feFuncR type="table" tableValues="0.1 0.15 0.2 0.27 0.39 0.49 0.6 0.79 0.92 0.97 1"/><feFuncG type="table" tableValues="0.1 0.15 0.2 0.27 0.39 0.49 0.6 0.79 0.92 0.97 1"/><feFuncB type="table" tableValues="0.1 0.15 0.2 0.27 0.39 0.49 0.6 0.79 0.92 0.97 1"/></feComponentTransfer>
 <feComposite in="SourceGraphic" in2="n" operator="arithmetic" k1="1.6" k2="0.2" k3="0" k4="0"/>
</filter>
<filter id="nzF" x="0" y="0" width="1" height="1" color-interpolation-filters="sRGB">
 <feTurbulence type="fractalNoise" baseFrequency="0.35" numOctaves="2" seed="21" result="t"/>
 <feColorMatrix in="t" type="matrix" values="1 0 0 0 0 1 0 0 0 0 1 0 0 0 0 0 0 0 0 1" result="g"/>
 <feComponentTransfer in="g" result="n"><feFuncR type="linear" slope="2" intercept="-0.5"/><feFuncG type="linear" slope="2" intercept="-0.5"/><feFuncB type="linear" slope="2" intercept="-0.5"/></feComponentTransfer>
 <feComposite in="SourceGraphic" in2="n" operator="arithmetic" k1="0.8" k2="0.6" k3="0" k4="0"/>
</filter>
<pattern id="fr" patternUnits="userSpaceOnUse" width="40" height="3.3"><rect width="40" height="1.1" fill="#fff"/></pattern>
<pattern id="fr2" patternUnits="userSpaceOnUse" width="40" height="3.2" patternTransform="rotate(-8)"><rect width="40" height="1.1" fill="#fff"/></pattern>
<linearGradient id="frm" x1="0" y1="0" x2="0" y2="1"><stop offset="0" stop-color="#fff" stop-opacity="0"/><stop offset="0.25" stop-color="#fff" stop-opacity="1"/><stop offset="0.75" stop-color="#fff" stop-opacity="1"/><stop offset="1" stop-color="#fff" stop-opacity="0"/></linearGradient>
<filter id="bl12" x="-50%" y="-50%" width="200%" height="200%"><feGaussianBlur stdDeviation="12"/></filter>
<filter id="bl1" x="-50%" y="-50%" width="200%" height="200%"><feGaussianBlur stdDeviation="1"/></filter>
<filter id="bl3" x="-50%" y="-50%" width="200%" height="200%"><feGaussianBlur stdDeviation="2.5"/></filter>
<radialGradient id="fftE" cx="0.5" cy="0.5" r="0.5">
 <stop offset="0" stop-color="#ffffff"/><stop offset="0.14" stop-color="#eeeeee"/><stop offset="0.3" stop-color="#9c9c9c"/><stop offset="0.5" stop-color="#505050"/><stop offset="0.75" stop-color="#282828"/><stop offset="1" stop-color="#141414" stop-opacity="0"/>
</radialGradient>
<radialGradient id="fftF" cx="0.5" cy="0.5" r="0.5">
 <stop offset="0" stop-color="#e0e0e0"/><stop offset="0.12" stop-color="#a8a8a8"/><stop offset="0.35" stop-color="#6a6a6a"/><stop offset="0.6" stop-color="#363636"/><stop offset="0.85" stop-color="#1c1c1c"/><stop offset="1" stop-color="#111" stop-opacity="0"/>
</radialGradient>
</defs>
<clipPath id="ce"><rect x="102.0" y="1184.0" width="561.5" height="499.5"/></clipPath>
<linearGradient id="ce_g0" gradientUnits="userSpaceOnUse" x1="0" y1="1184.0" x2="0" y2="1348.0">
<stop offset="0.0000" stop-color="#8a8a8a"/>
<stop offset="0.7073" stop-color="#888888"/>
<stop offset="1.0000" stop-color="#828282"/>
</linearGradient>
<g filter="url(#nzA)" clip-path="url(#ce)"><g><rect x="102.0" y="1184.0" width="561.5" height="164.0" fill="url(#ce_g0)"/>
<g filter="url(#bl12)">
</g></g></g>
<linearGradient id="ce_g1" gradientUnits="userSpaceOnUse" x1="0" y1="1348.0" x2="0" y2="1582.0">
<stop offset="0.0000" stop-color="#6a6a6a"/>
<stop offset="0.1581" stop-color="#646464"/>
<stop offset="0.2991" stop-color="#565656"/>
<stop offset="0.3932" stop-color="#404040"/>
<stop offset="0.5855" stop-color="#343434"/>
<stop offset="0.6581" stop-color="#282828"/>
<stop offset="0.9487" stop-color="#232323"/>
<stop offset="1.0000" stop-color="#323232"/>
</linearGradient>
<g filter="url(#nzB)" clip-path="url(#ce)"><g><rect x="102.0" y="1348.0" width="561.5" height="234.0" fill="url(#ce_g1)"/>
<g filter="url(#bl12)">
<ellipse cx="150.0" cy="1460.0" rx="55.0" ry="30.0" fill="#484848" fill-opacity="0.50"/>
<ellipse cx="380.0" cy="1465.0" rx="130.0" ry="28.0" fill="#282828" fill-opacity="0.50"/>
<ellipse cx="560.0" cy="1455.0" rx="55.0" ry="40.0" fill="#4e4e4e" fill-opacity="0.50"/>
<ellipse cx="650.0" cy="1540.0" rx="25.0" ry="35.0" fill="#3c3c3c" fill-opacity="0.50"/>
</g></g></g>
<linearGradient id="ce_g2" gradientUnits="userSpaceOnUse" x1="0" y1="1582.0" x2="0" y2="1683.5">
<stop offset="0.0000" stop-color="#767676"/>
<stop offset="0.1773" stop-color="#7c7c7c"/>
<stop offset="1.0000" stop-color="#7c7c7c"/>
</linearGradient>
<g filter="url(#nzC)" clip-path="url(#ce)"><g><rect x="102.0" y="1582.0" width="561.5" height="101.5" fill="url(#ce_g2)"/>
<g filter="url(#bl12)">
</g></g></g>
<rect x="102.0" y="1422" width="561.5" height="85" fill="url(#fr)" opacity="0.09"/>
<rect x="503.5" y="1405" width="115" height="115" fill="url(#fr)" opacity="0.06"/>
<line x1="102.0" y1="1348.0" x2="468.6" y2="1348.0" stroke="#f2f2f2" stroke-width="3" stroke-dasharray="8.6 4.2"/>
<line x1="102.0" y1="1580.0" x2="663.5" y2="1580.0" stroke="#f2f2f2" stroke-width="3" stroke-dasharray="8.6 4.2"/>
<rect x="468.6" y="1184.1" width="194.4" height="191.7" fill="#0e0e0e"/>
<g clip-path="url(#ciE)"><clipPath id="ciE"><rect x="468.6" y="1184.1" width="194.4" height="191.7"/></clipPath>
<g filter="url(#nzF)"><rect x="468.6" y="1184.1" width="194.4" height="191.7" fill="#0e0e0e"/><ellipse cx="566.8" cy="1281.7" rx="100" ry="105" fill="url(#fftE)"/></g>
<g filter="url(#bl3)"><ellipse cx="566.8" cy="1283" rx="7" ry="30" fill="#fff"/><ellipse cx="566.8" cy="1246.1" rx="6" ry="5" fill="#fff"/><ellipse cx="567" cy="1310" rx="7" ry="5" fill="#fff"/><ellipse cx="538" cy="1263" rx="7" ry="4" fill="#eee"/><ellipse cx="541" cy="1296" rx="5" ry="6" fill="#ddd"/><ellipse cx="594.5" cy="1259.4" rx="4" ry="4" fill="#eee"/><ellipse cx="597.3" cy="1290.8" rx="4" ry="3" fill="#ddd"/></g>
<line x1="566.8" y1="1184" x2="566.8" y2="1376" stroke="#777" stroke-width="1" stroke-opacity="0.35"/>
<g filter="url(#bl1)" fill="#fff"><ellipse cx="567" cy="1247" rx="4" ry="3.5"/><ellipse cx="595" cy="1260" rx="2.5" ry="3"/><ellipse cx="597" cy="1292" rx="3" ry="2"/><ellipse cx="567" cy="1311" rx="5" ry="3"/><ellipse cx="539" cy="1297" rx="3" ry="3.5"/><ellipse cx="537" cy="1263" rx="4" ry="2.5"/><ellipse cx="567" cy="1280" rx="4" ry="16"/></g>
</g>
<circle cx="566.8" cy="1246.1" r="9.9" fill="none" stroke="#ffff00" stroke-width="2.3"/>
<circle cx="594.5" cy="1259.4" r="9.9" fill="none" stroke="#ffff00" stroke-width="2.3"/>
<circle cx="597.3" cy="1290.8" r="9.9" fill="none" stroke="#ffff00" stroke-width="2.3"/>
<text x="541.8" y="1229.0" font-size="19.5" font-weight="bold" font-family="'Liberation Serif', 'Times New Roman', serif" fill="#ffff00" letter-spacing="1.5">(011)</text>
<text x="602.2" y="1243.6" font-size="19.5" font-weight="bold" font-family="'Liberation Serif', 'Times New Roman', serif" fill="#ffff00" letter-spacing="1.5">(110)</text>
<text x="606.7" y="1310.3" font-size="19.5" font-weight="bold" font-family="'Liberation Serif', 'Times New Roman', serif" fill="#ffff00" letter-spacing="1.5">(101)</text>
<text x="495.5" y="1359.9" font-size="19" font-weight="bold" font-family="'Liberation Sans', Arial, sans-serif" fill="#ffff00"><tspan font-style="italic">d</tspan><tspan font-size="12.5" dy="5">(110)</tspan><tspan dy="-5"> = 0.238 nm</tspan></text>
<text x="120.2" y="1397.8" font-size="32.0" font-weight="bold" text-anchor="start" fill="#ffff00" font-family="'Liberation Sans', Arial, sans-serif">NbO<tspan font-size="22" dy="6">x</tspan></text>
<text x="122.4" y="1475.8" font-size="31.5" font-weight="bold" text-anchor="start" fill="#ffff00" font-family="'Liberation Sans', Arial, sans-serif">Nb</text>
<text x="122.4" y="1554.0" font-size="31.5" font-weight="bold" text-anchor="start" fill="#ffff00" font-family="'Liberation Sans', Arial, sans-serif">Ta</text>
<rect x="503.5" y="1405" width="115.5" height="115" fill="none" stroke="#ffff00" stroke-width="2.6"/>
<rect x="108.9" y="1663.1" width="109.7" height="7.3" fill="#fff"/>
<text x="118.6" y="1650.0" font-size="39.0" font-weight="bold" text-anchor="start" fill="#fff" font-family="'Liberation Sans', Arial, sans-serif">5 nm</text>
<clipPath id="cf"><rect x="925.0" y="1184.0" width="561.5" height="497.0"/></clipPath>
<linearGradient id="cf_g0" gradientUnits="userSpaceOnUse" x1="0" y1="1184.0" x2="0" y2="1341.0">
<stop offset="0.0000" stop-color="#8c8c8c"/>
<stop offset="0.7389" stop-color="#898989"/>
<stop offset="1.0000" stop-color="#848484"/>
</linearGradient>
<g filter="url(#nzA)" clip-path="url(#cf)"><g><rect x="925.0" y="1184.0" width="561.5" height="157.0" fill="url(#cf_g0)"/>
<g filter="url(#bl12)">
</g></g></g>
<linearGradient id="cf_g1" gradientUnits="userSpaceOnUse" x1="0" y1="1341.0" x2="0" y2="1582.0">
<stop offset="0.0000" stop-color="#6c6c6c"/>
<stop offset="0.2863" stop-color="#646464"/>
<stop offset="0.4523" stop-color="#5a5a5a"/>
<stop offset="0.6183" stop-color="#4a4a4a"/>
<stop offset="0.7095" stop-color="#303030"/>
<stop offset="0.8257" stop-color="#262626"/>
<stop offset="0.9585" stop-color="#222222"/>
<stop offset="1.0000" stop-color="#323232"/>
</linearGradient>
<g filter="url(#nzB)" clip-path="url(#cf)"><g><rect x="925.0" y="1341.0" width="561.5" height="241.0" fill="url(#cf_g1)"/>
<g filter="url(#bl12)">
<ellipse cx="1010.0" cy="1540.0" rx="100.0" ry="30.0" fill="#191919" fill-opacity="0.60"/>
<ellipse cx="1300.0" cy="1555.0" rx="160.0" ry="22.0" fill="#1c1c1c" fill-opacity="0.50"/>
<ellipse cx="1420.0" cy="1490.0" rx="70.0" ry="35.0" fill="#414141" fill-opacity="0.40"/>
</g></g></g>
<linearGradient id="cf_g2" gradientUnits="userSpaceOnUse" x1="0" y1="1582.0" x2="0" y2="1681.0">
<stop offset="0.0000" stop-color="#707070"/>
<stop offset="0.1818" stop-color="#767676"/>
<stop offset="1.0000" stop-color="#7c7c7c"/>
</linearGradient>
<g filter="url(#nzC)" clip-path="url(#cf)"><g><rect x="925.0" y="1582.0" width="561.5" height="99.0" fill="url(#cf_g2)"/>
<g filter="url(#bl12)">
<ellipse cx="1200.0" cy="1600.0" rx="100.0" ry="15.0" fill="#5a5a5a" fill-opacity="0.50"/>
</g></g></g>
<rect x="925.0" y="1425" width="561.5" height="90" fill="url(#fr2)" opacity="0.08"/>
<rect x="1080.0" y="1585" width="300.0" height="30" fill="url(#fr)" opacity="0.07"/>
<line x1="925.0" y1="1341.0" x2="1292.9" y2="1341.0" stroke="#f2f2f2" stroke-width="3" stroke-dasharray="8.6 4.2"/>
<line x1="925.0" y1="1580.0" x2="1486.5" y2="1580.0" stroke="#f2f2f2" stroke-width="3" stroke-dasharray="8.6 4.2"/>
<rect x="1292.9" y="1184.1" width="193.6" height="190.4" fill="#0e0e0e"/>
<g clip-path="url(#ciF)"><clipPath id="ciF"><rect x="1292.9" y="1184.1" width="193.6" height="190.4"/></clipPath>
<g filter="url(#nzF)"><rect x="1292.9" y="1184.1" width="193.6" height="190.4" fill="#0e0e0e"/><ellipse cx="1391.1" cy="1279.1" rx="100" ry="105" fill="url(#fftF)"/></g>
<g filter="url(#bl3)"><ellipse cx="1391" cy="1280" rx="2.5" ry="20" fill="#fff"/><ellipse cx="1391" cy="1280" rx="6" ry="4" fill="#fff"/><ellipse cx="1387.3" cy="1242.3" rx="4.5" ry="3" fill="#fff"/><ellipse cx="1417.2" cy="1251.8" rx="3.5" ry="3.5" fill="#fff"/><ellipse cx="1423.6" cy="1286.8" rx="4.5" ry="3" fill="#fff"/><ellipse cx="1357" cy="1270" rx="4.5" ry="3" fill="#eee"/><ellipse cx="1364" cy="1307" rx="3.5" ry="3.5" fill="#eee"/><ellipse cx="1396" cy="1315" rx="4.5" ry="3" fill="#eee"/></g>
<line x1="1391.1" y1="1184" x2="1391.1" y2="1375" stroke="#666" stroke-width="1" stroke-opacity="0.35"/>
<g filter="url(#bl1)" fill="#fff"><ellipse cx="1388" cy="1243" rx="3.5" ry="2"/><ellipse cx="1418" cy="1252" rx="2" ry="2.5"/><ellipse cx="1424" cy="1287.5" rx="3" ry="2"/><ellipse cx="1358" cy="1270" rx="3" ry="2"/><ellipse cx="1365" cy="1306" rx="2.5" ry="2.5"/><ellipse cx="1397" cy="1315" rx="3.5" ry="2"/><ellipse cx="1391" cy="1280" rx="1.8" ry="12"/></g>
</g>
<circle cx="1387.3" cy="1242.3" r="10.2" fill="none" stroke="#ffff00" stroke-width="2.3"/>
<circle cx="1417.2" cy="1251.8" r="10.2" fill="none" stroke="#ffff00" stroke-width="2.3"/>
<circle cx="1423.6" cy="1286.8" r="10.2" fill="none" stroke="#ffff00" stroke-width="2.3"/>
<text x="1363.0" y="1221.3" font-size="19.5" font-weight="bold" font-family="'Liberation Serif', 'Times New Roman', serif" fill="#ffff00" letter-spacing="1.5">(011)</text>
<text x="1429.7" y="1239.7" font-size="19.5" font-weight="bold" font-family="'Liberation Serif', 'Times New Roman', serif" fill="#ffff00" letter-spacing="1.5">(110)</text>
<text x="1429.7" y="1312.8" font-size="19.5" font-weight="bold" font-family="'Liberation Serif', 'Times New Roman', serif" fill="#ffff00" letter-spacing="1.5">(101)</text>
<line x1="1395.6" y1="1205.8" x2="1403.8" y2="1205.8" stroke="#ffff00" stroke-width="1.4"/>
<text x="1319.9" y="1358" font-size="19" font-weight="bold" font-family="'Liberation Sans', Arial, sans-serif" fill="#ffff00"><tspan font-style="italic">d</tspan><tspan font-size="12.5" dy="5">(110)</tspan><tspan dy="-5"> = 0.237 nm</tspan></text>
<text x="943.0" y="1393.5" font-size="32.0" font-weight="bold" text-anchor="start" fill="#ffff00" font-family="'Liberation Sans', Arial, sans-serif">NbO<tspan font-size="22" dy="6">x</tspan></text>
<text x="945.2" y="1470.0" font-size="31.5" font-weight="bold" text-anchor="start" fill="#ffff00" font-family="'Liberation Sans', Arial, sans-serif">Nb</text>
<text x="945.2" y="1557.5" font-size="31.5" font-weight="bold" text-anchor="start" fill="#ffff00" font-family="'Liberation Sans', Arial, sans-serif">Pt</text>
<rect x="1030" y="1402.5" width="115" height="115" fill="none" stroke="#ffff00" stroke-width="2.6"/>
<rect x="932" y="1663.1" width="109" height="7.3" fill="#fff"/>
<text x="941.8" y="1656.0" font-size="39.0" font-weight="bold" text-anchor="start" fill="#fff" font-family="'Liberation Sans', Arial, sans-serif">5 nm</text>
</svg></body></html>
